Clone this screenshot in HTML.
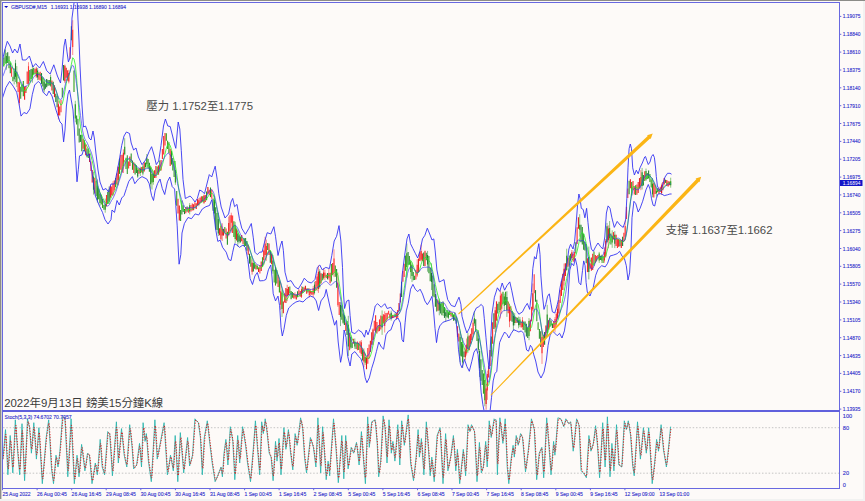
<!DOCTYPE html>
<html lang="zh-Hant"><head><meta charset="utf-8"><title>GBPUSD M15</title>
<style>html,body{margin:0;padding:0;background:#FDFAF8;}body{width:865px;height:501px;overflow:hidden;position:relative;font-family:"Liberation Sans","Noto Sans CJK TC",sans-serif;}</style>
</head><body>
<svg width="865" height="501" viewBox="0 0 865 501" style="display:block;position:absolute;left:0;top:0" font-family="Liberation Sans, sans-serif">
<rect width="865" height="501" fill="#FDFAF8"/>
<rect x="0" y="0" width="865" height="1" fill="#8C8C88"/>
<rect x="0" y="0" width="1.4" height="501" fill="#8C8C88"/>
<rect x="0" y="499" width="865" height="2" fill="#F2F2F1"/>
<rect x="863" y="1" width="2" height="501" fill="#F2F2F1"/>
<defs><clipPath id="c1"><rect x="2.5" y="2.5" width="837" height="407.5"/></clipPath><clipPath id="c2"><rect x="2.5" y="411.5" width="837" height="76.5"/></clipPath></defs>
<g clip-path="url(#c1)"><g style="filter:blur(0.28px)">
<line x1="2.50" y1="61.7" x2="2.50" y2="70.5" stroke="#F21A1A" stroke-width="1.1" stroke-opacity="0.91"/>
<line x1="3.80" y1="57.6" x2="3.80" y2="66.6" stroke="#1F8F1F" stroke-width="1.1" stroke-opacity="0.91"/>
<line x1="5.10" y1="49.4" x2="5.10" y2="63.6" stroke="#1F8F1F" stroke-width="1.1" stroke-opacity="0.91"/>
<line x1="6.40" y1="55.9" x2="6.40" y2="63.3" stroke="#1F8F1F" stroke-width="1.1" stroke-opacity="0.91"/>
<line x1="6.40" y1="52.9" x2="6.40" y2="69.7" stroke="#1F8F1F" stroke-width="0.7" stroke-opacity="0.75"/>
<line x1="7.70" y1="52.2" x2="7.70" y2="63.1" stroke="#167A2A" stroke-width="1.1" stroke-opacity="0.97"/>
<line x1="9.00" y1="56.2" x2="9.00" y2="68.3" stroke="#2A9A10" stroke-width="1.1" stroke-opacity="0.96"/>
<line x1="10.30" y1="62.4" x2="10.30" y2="73.3" stroke="#1F8F1F" stroke-width="1.1" stroke-opacity="0.95"/>
<line x1="11.60" y1="67.2" x2="11.60" y2="76.7" stroke="#FF2A2A" stroke-width="1.1" stroke-opacity="0.92"/>
<line x1="12.90" y1="76.7" x2="12.90" y2="81.3" stroke="#2A9A10" stroke-width="1.1" stroke-opacity="0.96"/>
<line x1="14.20" y1="70.9" x2="14.20" y2="79.3" stroke="#167A2A" stroke-width="1.1" stroke-opacity="0.91"/>
<line x1="14.20" y1="68.3" x2="14.20" y2="84.4" stroke="#167A2A" stroke-width="0.7" stroke-opacity="0.75"/>
<line x1="15.50" y1="63.2" x2="15.50" y2="76.8" stroke="#167A2A" stroke-width="1.1" stroke-opacity="0.98"/>
<line x1="15.50" y1="59.8" x2="15.50" y2="82.0" stroke="#167A2A" stroke-width="0.7" stroke-opacity="0.75"/>
<line x1="16.80" y1="71.8" x2="16.80" y2="83.5" stroke="#2A9A10" stroke-width="1.1" stroke-opacity="0.92"/>
<line x1="16.80" y1="66.1" x2="16.80" y2="87.1" stroke="#2A9A10" stroke-width="0.7" stroke-opacity="0.75"/>
<line x1="18.10" y1="82.1" x2="18.10" y2="92.1" stroke="#FF2A2A" stroke-width="1.1" stroke-opacity="0.99"/>
<line x1="19.40" y1="82.5" x2="19.40" y2="102.9" stroke="#FF2A2A" stroke-width="1.1" stroke-opacity="0.94"/>
<line x1="19.40" y1="80.7" x2="19.40" y2="105.4" stroke="#FF2A2A" stroke-width="0.7" stroke-opacity="0.75"/>
<line x1="20.70" y1="86.8" x2="20.70" y2="98.7" stroke="#1F8F1F" stroke-width="1.1" stroke-opacity="0.90"/>
<line x1="22.00" y1="84.4" x2="22.00" y2="91.8" stroke="#167A2A" stroke-width="1.1" stroke-opacity="1.00"/>
<line x1="23.30" y1="81.0" x2="23.30" y2="96.3" stroke="#2A9A10" stroke-width="1.1" stroke-opacity="0.98"/>
<line x1="24.60" y1="86.8" x2="24.60" y2="99.7" stroke="#F21A1A" stroke-width="1.1" stroke-opacity="1.00"/>
<line x1="25.90" y1="85.9" x2="25.90" y2="92.9" stroke="#E01010" stroke-width="1.1" stroke-opacity="0.91"/>
<line x1="27.20" y1="71.6" x2="27.20" y2="83.9" stroke="#F21A1A" stroke-width="1.1" stroke-opacity="0.93"/>
<line x1="28.50" y1="66.2" x2="28.50" y2="83.5" stroke="#FF2A2A" stroke-width="1.1" stroke-opacity="0.91"/>
<line x1="28.50" y1="62.2" x2="28.50" y2="86.8" stroke="#FF2A2A" stroke-width="0.7" stroke-opacity="0.75"/>
<line x1="29.80" y1="70.1" x2="29.80" y2="81.6" stroke="#1F8F1F" stroke-width="1.1" stroke-opacity="0.94"/>
<line x1="31.10" y1="69.1" x2="31.10" y2="78.9" stroke="#167A2A" stroke-width="1.1" stroke-opacity="0.98"/>
<line x1="32.40" y1="69.2" x2="32.40" y2="77.6" stroke="#2A9A10" stroke-width="1.1" stroke-opacity="0.93"/>
<line x1="32.40" y1="64.9" x2="32.40" y2="82.7" stroke="#2A9A10" stroke-width="0.7" stroke-opacity="0.75"/>
<line x1="33.70" y1="67.7" x2="33.70" y2="74.4" stroke="#1F8F1F" stroke-width="1.1" stroke-opacity="0.95"/>
<line x1="35.00" y1="68.7" x2="35.00" y2="73.6" stroke="#F21A1A" stroke-width="1.1" stroke-opacity="0.96"/>
<line x1="36.30" y1="68.4" x2="36.30" y2="76.4" stroke="#E01010" stroke-width="1.1" stroke-opacity="0.92"/>
<line x1="36.30" y1="66.9" x2="36.30" y2="77.9" stroke="#E01010" stroke-width="0.7" stroke-opacity="0.75"/>
<line x1="37.60" y1="70.4" x2="37.60" y2="77.4" stroke="#167A2A" stroke-width="1.1" stroke-opacity="0.98"/>
<line x1="37.60" y1="68.1" x2="37.60" y2="80.2" stroke="#167A2A" stroke-width="0.7" stroke-opacity="0.75"/>
<line x1="38.90" y1="72.5" x2="38.90" y2="79.7" stroke="#F21A1A" stroke-width="1.1" stroke-opacity="0.93"/>
<line x1="40.20" y1="71.8" x2="40.20" y2="80.4" stroke="#FF2A2A" stroke-width="1.1" stroke-opacity="0.92"/>
<line x1="41.50" y1="73.1" x2="41.50" y2="83.9" stroke="#167A2A" stroke-width="1.1" stroke-opacity="0.98"/>
<line x1="42.80" y1="77.4" x2="42.80" y2="86.5" stroke="#2A9A10" stroke-width="1.1" stroke-opacity="0.98"/>
<line x1="44.10" y1="81.5" x2="44.10" y2="90.3" stroke="#167A2A" stroke-width="1.1" stroke-opacity="0.98"/>
<line x1="44.10" y1="79.4" x2="44.10" y2="92.6" stroke="#167A2A" stroke-width="0.7" stroke-opacity="0.75"/>
<line x1="45.40" y1="83.4" x2="45.40" y2="88.7" stroke="#167A2A" stroke-width="1.1" stroke-opacity="0.91"/>
<line x1="46.70" y1="79.0" x2="46.70" y2="87.3" stroke="#167A2A" stroke-width="1.1" stroke-opacity="0.99"/>
<line x1="48.00" y1="79.9" x2="48.00" y2="85.7" stroke="#167A2A" stroke-width="1.1" stroke-opacity="0.96"/>
<line x1="49.30" y1="80.0" x2="49.30" y2="85.6" stroke="#1F8F1F" stroke-width="1.1" stroke-opacity="0.93"/>
<line x1="50.60" y1="77.0" x2="50.60" y2="85.8" stroke="#1F8F1F" stroke-width="1.1" stroke-opacity="0.90"/>
<line x1="50.60" y1="74.8" x2="50.60" y2="86.8" stroke="#1F8F1F" stroke-width="0.7" stroke-opacity="0.75"/>
<line x1="51.90" y1="80.6" x2="51.90" y2="90.5" stroke="#F21A1A" stroke-width="1.1" stroke-opacity="0.95"/>
<line x1="53.20" y1="81.7" x2="53.20" y2="93.9" stroke="#167A2A" stroke-width="1.1" stroke-opacity="0.95"/>
<line x1="54.50" y1="85.3" x2="54.50" y2="97.2" stroke="#E01010" stroke-width="1.1" stroke-opacity="0.94"/>
<line x1="55.80" y1="93.8" x2="55.80" y2="101.9" stroke="#167A2A" stroke-width="1.1" stroke-opacity="0.98"/>
<line x1="57.10" y1="95.7" x2="57.10" y2="107.3" stroke="#167A2A" stroke-width="1.1" stroke-opacity="0.91"/>
<line x1="58.40" y1="104.3" x2="58.40" y2="115.3" stroke="#F21A1A" stroke-width="1.1" stroke-opacity="0.98"/>
<line x1="58.40" y1="100.7" x2="58.40" y2="119.4" stroke="#F21A1A" stroke-width="0.7" stroke-opacity="0.75"/>
<line x1="59.70" y1="106.5" x2="59.70" y2="115.4" stroke="#F21A1A" stroke-width="1.1" stroke-opacity="0.93"/>
<line x1="61.00" y1="100.1" x2="61.00" y2="112.3" stroke="#FF2A2A" stroke-width="1.1" stroke-opacity="0.91"/>
<line x1="62.30" y1="87.7" x2="62.30" y2="97.2" stroke="#1F8F1F" stroke-width="1.1" stroke-opacity="0.92"/>
<line x1="63.60" y1="65.1" x2="63.60" y2="80.5" stroke="#167A2A" stroke-width="1.1" stroke-opacity="0.99"/>
<line x1="64.90" y1="65.8" x2="64.90" y2="81.2" stroke="#F21A1A" stroke-width="1.1" stroke-opacity="0.99"/>
<line x1="64.90" y1="64.6" x2="64.90" y2="83.1" stroke="#F21A1A" stroke-width="0.7" stroke-opacity="0.75"/>
<line x1="66.20" y1="67.7" x2="66.20" y2="77.8" stroke="#E01010" stroke-width="1.1" stroke-opacity="0.95"/>
<line x1="67.50" y1="70.3" x2="67.50" y2="80.6" stroke="#FF2A2A" stroke-width="1.1" stroke-opacity="0.99"/>
<line x1="68.80" y1="73.0" x2="68.80" y2="81.6" stroke="#F21A1A" stroke-width="1.1" stroke-opacity="0.98"/>
<line x1="68.80" y1="69.8" x2="68.80" y2="83.4" stroke="#F21A1A" stroke-width="0.7" stroke-opacity="0.75"/>
<line x1="70.10" y1="47.2" x2="70.10" y2="58.7" stroke="#F21A1A" stroke-width="1.1" stroke-opacity="0.95"/>
<line x1="71.40" y1="26.3" x2="71.40" y2="40.2" stroke="#1F8F1F" stroke-width="1.1" stroke-opacity="0.94"/>
<line x1="72.70" y1="29.8" x2="72.70" y2="46.9" stroke="#FF2A2A" stroke-width="1.1" stroke-opacity="0.92"/>
<line x1="72.70" y1="20.2" x2="72.70" y2="55.0" stroke="#FF2A2A" stroke-width="0.7" stroke-opacity="0.75"/>
<line x1="74.00" y1="70.5" x2="74.00" y2="92.0" stroke="#2A9A10" stroke-width="1.1" stroke-opacity="0.96"/>
<line x1="75.30" y1="104.2" x2="75.30" y2="118.4" stroke="#1F8F1F" stroke-width="1.1" stroke-opacity="0.97"/>
<line x1="75.30" y1="100.8" x2="75.30" y2="122.3" stroke="#1F8F1F" stroke-width="0.7" stroke-opacity="0.75"/>
<line x1="76.60" y1="115.6" x2="76.60" y2="124.4" stroke="#1F8F1F" stroke-width="1.1" stroke-opacity="0.93"/>
<line x1="77.90" y1="118.7" x2="77.90" y2="135.7" stroke="#1F8F1F" stroke-width="1.1" stroke-opacity="0.90"/>
<line x1="79.20" y1="128.5" x2="79.20" y2="142.6" stroke="#167A2A" stroke-width="1.1" stroke-opacity="0.91"/>
<line x1="80.50" y1="134.8" x2="80.50" y2="141.9" stroke="#167A2A" stroke-width="1.1" stroke-opacity="0.92"/>
<line x1="81.80" y1="134.7" x2="81.80" y2="151.2" stroke="#1F8F1F" stroke-width="1.1" stroke-opacity="0.94"/>
<line x1="83.10" y1="138.8" x2="83.10" y2="148.7" stroke="#F21A1A" stroke-width="1.1" stroke-opacity="0.98"/>
<line x1="84.40" y1="140.3" x2="84.40" y2="151.3" stroke="#2A9A10" stroke-width="1.1" stroke-opacity="0.95"/>
<line x1="85.70" y1="144.3" x2="85.70" y2="155.2" stroke="#F21A1A" stroke-width="1.1" stroke-opacity="0.97"/>
<line x1="87.00" y1="148.6" x2="87.00" y2="157.3" stroke="#1F8F1F" stroke-width="1.1" stroke-opacity="0.94"/>
<line x1="88.30" y1="148.5" x2="88.30" y2="157.9" stroke="#1F8F1F" stroke-width="1.1" stroke-opacity="0.90"/>
<line x1="89.60" y1="153.4" x2="89.60" y2="162.0" stroke="#E01010" stroke-width="1.1" stroke-opacity="0.97"/>
<line x1="90.90" y1="161.5" x2="90.90" y2="171.1" stroke="#FF2A2A" stroke-width="1.1" stroke-opacity="0.96"/>
<line x1="92.20" y1="170.0" x2="92.20" y2="182.6" stroke="#F21A1A" stroke-width="1.1" stroke-opacity="0.96"/>
<line x1="93.50" y1="176.6" x2="93.50" y2="189.7" stroke="#1F8F1F" stroke-width="1.1" stroke-opacity="0.96"/>
<line x1="93.50" y1="171.7" x2="93.50" y2="194.6" stroke="#1F8F1F" stroke-width="0.7" stroke-opacity="0.75"/>
<line x1="94.80" y1="177.8" x2="94.80" y2="193.6" stroke="#F21A1A" stroke-width="1.1" stroke-opacity="0.95"/>
<line x1="96.10" y1="180.7" x2="96.10" y2="196.0" stroke="#1F8F1F" stroke-width="1.1" stroke-opacity="0.91"/>
<line x1="97.40" y1="185.6" x2="97.40" y2="200.3" stroke="#1F8F1F" stroke-width="1.1" stroke-opacity="0.93"/>
<line x1="97.40" y1="179.4" x2="97.40" y2="202.5" stroke="#1F8F1F" stroke-width="0.7" stroke-opacity="0.75"/>
<line x1="98.70" y1="188.8" x2="98.70" y2="199.2" stroke="#1F8F1F" stroke-width="1.1" stroke-opacity="0.96"/>
<line x1="100.00" y1="193.7" x2="100.00" y2="203.1" stroke="#1F8F1F" stroke-width="1.1" stroke-opacity="0.95"/>
<line x1="100.00" y1="192.7" x2="100.00" y2="205.8" stroke="#1F8F1F" stroke-width="0.7" stroke-opacity="0.75"/>
<line x1="101.30" y1="194.7" x2="101.30" y2="204.6" stroke="#2A9A10" stroke-width="1.1" stroke-opacity="0.91"/>
<line x1="102.60" y1="198.8" x2="102.60" y2="208.0" stroke="#2A9A10" stroke-width="1.1" stroke-opacity="0.97"/>
<line x1="103.90" y1="205.0" x2="103.90" y2="209.7" stroke="#2A9A10" stroke-width="1.1" stroke-opacity="0.91"/>
<line x1="105.20" y1="204.0" x2="105.20" y2="209.7" stroke="#1F8F1F" stroke-width="1.1" stroke-opacity="0.96"/>
<line x1="105.20" y1="198.6" x2="105.20" y2="212.7" stroke="#1F8F1F" stroke-width="0.7" stroke-opacity="0.75"/>
<line x1="106.50" y1="195.0" x2="106.50" y2="206.5" stroke="#FF2A2A" stroke-width="1.1" stroke-opacity="0.98"/>
<line x1="107.80" y1="192.1" x2="107.80" y2="203.9" stroke="#167A2A" stroke-width="1.1" stroke-opacity="0.97"/>
<line x1="109.10" y1="189.5" x2="109.10" y2="201.6" stroke="#167A2A" stroke-width="1.1" stroke-opacity="0.96"/>
<line x1="109.10" y1="186.5" x2="109.10" y2="204.0" stroke="#167A2A" stroke-width="0.7" stroke-opacity="0.75"/>
<line x1="110.40" y1="185.7" x2="110.40" y2="197.7" stroke="#E01010" stroke-width="1.1" stroke-opacity="0.93"/>
<line x1="111.70" y1="186.5" x2="111.70" y2="195.5" stroke="#F21A1A" stroke-width="1.1" stroke-opacity="0.98"/>
<line x1="113.00" y1="183.5" x2="113.00" y2="194.8" stroke="#FF2A2A" stroke-width="1.1" stroke-opacity="0.92"/>
<line x1="113.00" y1="181.2" x2="113.00" y2="196.1" stroke="#FF2A2A" stroke-width="0.7" stroke-opacity="0.75"/>
<line x1="114.30" y1="180.4" x2="114.30" y2="190.5" stroke="#FF2A2A" stroke-width="1.1" stroke-opacity="0.99"/>
<line x1="115.60" y1="178.1" x2="115.60" y2="187.2" stroke="#1F8F1F" stroke-width="1.1" stroke-opacity="0.93"/>
<line x1="116.90" y1="173.4" x2="116.90" y2="184.6" stroke="#E01010" stroke-width="1.1" stroke-opacity="0.91"/>
<line x1="118.20" y1="167.0" x2="118.20" y2="180.3" stroke="#E01010" stroke-width="1.1" stroke-opacity="0.99"/>
<line x1="118.20" y1="165.9" x2="118.20" y2="185.3" stroke="#E01010" stroke-width="0.7" stroke-opacity="0.75"/>
<line x1="119.50" y1="158.5" x2="119.50" y2="173.9" stroke="#2A9A10" stroke-width="1.1" stroke-opacity="0.99"/>
<line x1="120.80" y1="155.1" x2="120.80" y2="169.8" stroke="#FF2A2A" stroke-width="1.1" stroke-opacity="0.92"/>
<line x1="122.10" y1="154.8" x2="122.10" y2="172.6" stroke="#E01010" stroke-width="1.1" stroke-opacity="0.91"/>
<line x1="123.40" y1="152.7" x2="123.40" y2="166.0" stroke="#F21A1A" stroke-width="1.1" stroke-opacity="0.93"/>
<line x1="123.40" y1="149.3" x2="123.40" y2="173.0" stroke="#F21A1A" stroke-width="0.7" stroke-opacity="0.75"/>
<line x1="124.70" y1="146.7" x2="124.70" y2="154.3" stroke="#1F8F1F" stroke-width="1.1" stroke-opacity="0.92"/>
<line x1="124.70" y1="138.2" x2="124.70" y2="155.3" stroke="#1F8F1F" stroke-width="0.7" stroke-opacity="0.75"/>
<line x1="126.00" y1="157.8" x2="126.00" y2="169.0" stroke="#2A9A10" stroke-width="1.1" stroke-opacity="0.92"/>
<line x1="127.30" y1="155.3" x2="127.30" y2="173.9" stroke="#1F8F1F" stroke-width="1.1" stroke-opacity="0.90"/>
<line x1="128.60" y1="161.6" x2="128.60" y2="168.5" stroke="#FF2A2A" stroke-width="1.1" stroke-opacity="0.94"/>
<line x1="129.90" y1="156.4" x2="129.90" y2="165.9" stroke="#E01010" stroke-width="1.1" stroke-opacity="0.98"/>
<line x1="131.20" y1="153.6" x2="131.20" y2="161.5" stroke="#1F8F1F" stroke-width="1.1" stroke-opacity="0.92"/>
<line x1="132.50" y1="160.5" x2="132.50" y2="169.8" stroke="#2A9A10" stroke-width="1.1" stroke-opacity="0.99"/>
<line x1="133.80" y1="162.3" x2="133.80" y2="173.1" stroke="#F21A1A" stroke-width="1.1" stroke-opacity="0.92"/>
<line x1="135.10" y1="163.8" x2="135.10" y2="174.4" stroke="#1F8F1F" stroke-width="1.1" stroke-opacity="0.97"/>
<line x1="136.40" y1="165.2" x2="136.40" y2="173.0" stroke="#1F8F1F" stroke-width="1.1" stroke-opacity="0.99"/>
<line x1="137.70" y1="170.0" x2="137.70" y2="176.6" stroke="#167A2A" stroke-width="1.1" stroke-opacity="0.94"/>
<line x1="137.70" y1="168.7" x2="137.70" y2="177.8" stroke="#167A2A" stroke-width="0.7" stroke-opacity="0.75"/>
<line x1="139.00" y1="168.3" x2="139.00" y2="173.8" stroke="#F21A1A" stroke-width="1.1" stroke-opacity="0.98"/>
<line x1="140.30" y1="168.4" x2="140.30" y2="173.1" stroke="#1F8F1F" stroke-width="1.1" stroke-opacity="0.99"/>
<line x1="140.30" y1="166.7" x2="140.30" y2="175.9" stroke="#1F8F1F" stroke-width="0.7" stroke-opacity="0.75"/>
<line x1="141.60" y1="167.1" x2="141.60" y2="172.4" stroke="#FF2A2A" stroke-width="1.1" stroke-opacity="0.94"/>
<line x1="142.90" y1="166.6" x2="142.90" y2="173.4" stroke="#1F8F1F" stroke-width="1.1" stroke-opacity="0.93"/>
<line x1="142.90" y1="164.2" x2="142.90" y2="175.3" stroke="#1F8F1F" stroke-width="0.7" stroke-opacity="0.75"/>
<line x1="144.20" y1="162.2" x2="144.20" y2="171.4" stroke="#E01010" stroke-width="1.1" stroke-opacity="0.97"/>
<line x1="145.50" y1="162.6" x2="145.50" y2="167.2" stroke="#1F8F1F" stroke-width="1.1" stroke-opacity="1.00"/>
<line x1="146.80" y1="157.8" x2="146.80" y2="164.2" stroke="#2A9A10" stroke-width="1.1" stroke-opacity="0.95"/>
<line x1="146.80" y1="154.0" x2="146.80" y2="166.1" stroke="#2A9A10" stroke-width="0.7" stroke-opacity="0.75"/>
<line x1="148.10" y1="158.9" x2="148.10" y2="168.6" stroke="#1F8F1F" stroke-width="1.1" stroke-opacity="0.94"/>
<line x1="149.40" y1="162.8" x2="149.40" y2="171.7" stroke="#1F8F1F" stroke-width="1.1" stroke-opacity="0.96"/>
<line x1="150.70" y1="167.2" x2="150.70" y2="184.2" stroke="#1F8F1F" stroke-width="1.1" stroke-opacity="0.93"/>
<line x1="150.70" y1="165.5" x2="150.70" y2="188.6" stroke="#1F8F1F" stroke-width="0.7" stroke-opacity="0.75"/>
<line x1="152.00" y1="174.1" x2="152.00" y2="182.6" stroke="#2A9A10" stroke-width="1.1" stroke-opacity="0.99"/>
<line x1="152.00" y1="168.9" x2="152.00" y2="189.6" stroke="#2A9A10" stroke-width="0.7" stroke-opacity="0.75"/>
<line x1="153.30" y1="173.5" x2="153.30" y2="181.9" stroke="#2A9A10" stroke-width="1.1" stroke-opacity="0.97"/>
<line x1="153.30" y1="170.7" x2="153.30" y2="184.7" stroke="#2A9A10" stroke-width="0.7" stroke-opacity="0.75"/>
<line x1="154.60" y1="170.3" x2="154.60" y2="178.1" stroke="#E01010" stroke-width="1.1" stroke-opacity="0.92"/>
<line x1="155.90" y1="166.1" x2="155.90" y2="177.7" stroke="#F21A1A" stroke-width="1.1" stroke-opacity="0.95"/>
<line x1="157.20" y1="166.4" x2="157.20" y2="173.8" stroke="#2A9A10" stroke-width="1.1" stroke-opacity="0.92"/>
<line x1="158.50" y1="165.3" x2="158.50" y2="174.7" stroke="#F21A1A" stroke-width="1.1" stroke-opacity="0.93"/>
<line x1="159.80" y1="160.4" x2="159.80" y2="171.1" stroke="#1F8F1F" stroke-width="1.1" stroke-opacity="0.90"/>
<line x1="161.10" y1="159.9" x2="161.10" y2="170.4" stroke="#FF2A2A" stroke-width="1.1" stroke-opacity="0.98"/>
<line x1="162.40" y1="148.9" x2="162.40" y2="159.1" stroke="#FF2A2A" stroke-width="1.1" stroke-opacity="0.98"/>
<line x1="163.70" y1="135.9" x2="163.70" y2="154.5" stroke="#F21A1A" stroke-width="1.1" stroke-opacity="0.95"/>
<line x1="165.00" y1="133.1" x2="165.00" y2="145.4" stroke="#FF2A2A" stroke-width="1.1" stroke-opacity="1.00"/>
<line x1="166.30" y1="133.3" x2="166.30" y2="140.8" stroke="#2A9A10" stroke-width="1.1" stroke-opacity="0.98"/>
<line x1="167.60" y1="140.7" x2="167.60" y2="148.9" stroke="#2A9A10" stroke-width="1.1" stroke-opacity="0.94"/>
<line x1="168.90" y1="142.2" x2="168.90" y2="153.2" stroke="#2A9A10" stroke-width="1.1" stroke-opacity="0.96"/>
<line x1="170.20" y1="148.8" x2="170.20" y2="165.9" stroke="#F21A1A" stroke-width="1.1" stroke-opacity="0.92"/>
<line x1="171.50" y1="150.8" x2="171.50" y2="164.6" stroke="#1F8F1F" stroke-width="1.1" stroke-opacity="0.98"/>
<line x1="172.80" y1="158.1" x2="172.80" y2="170.6" stroke="#1F8F1F" stroke-width="1.1" stroke-opacity="0.93"/>
<line x1="174.10" y1="161.0" x2="174.10" y2="176.9" stroke="#1F8F1F" stroke-width="1.1" stroke-opacity="0.92"/>
<line x1="175.40" y1="170.0" x2="175.40" y2="182.4" stroke="#2A9A10" stroke-width="1.1" stroke-opacity="0.96"/>
<line x1="175.40" y1="161.0" x2="175.40" y2="184.8" stroke="#2A9A10" stroke-width="0.7" stroke-opacity="0.75"/>
<line x1="176.70" y1="191.1" x2="176.70" y2="205.7" stroke="#1F8F1F" stroke-width="1.1" stroke-opacity="0.90"/>
<line x1="178.00" y1="198.8" x2="178.00" y2="213.5" stroke="#F21A1A" stroke-width="1.1" stroke-opacity="0.95"/>
<line x1="179.30" y1="205.6" x2="179.30" y2="220.4" stroke="#E01010" stroke-width="1.1" stroke-opacity="0.97"/>
<line x1="180.60" y1="210.1" x2="180.60" y2="221.0" stroke="#1F8F1F" stroke-width="1.1" stroke-opacity="0.94"/>
<line x1="181.90" y1="200.5" x2="181.90" y2="214.4" stroke="#1F8F1F" stroke-width="1.1" stroke-opacity="0.94"/>
<line x1="183.20" y1="205.3" x2="183.20" y2="211.9" stroke="#167A2A" stroke-width="1.1" stroke-opacity="0.91"/>
<line x1="184.50" y1="209.0" x2="184.50" y2="214.1" stroke="#167A2A" stroke-width="1.1" stroke-opacity="0.97"/>
<line x1="185.80" y1="206.9" x2="185.80" y2="213.3" stroke="#F21A1A" stroke-width="1.1" stroke-opacity="0.92"/>
<line x1="187.10" y1="206.6" x2="187.10" y2="211.7" stroke="#1F8F1F" stroke-width="1.1" stroke-opacity="0.98"/>
<line x1="188.40" y1="207.7" x2="188.40" y2="212.8" stroke="#FF2A2A" stroke-width="1.1" stroke-opacity="0.91"/>
<line x1="189.70" y1="205.3" x2="189.70" y2="211.6" stroke="#1F8F1F" stroke-width="1.1" stroke-opacity="0.94"/>
<line x1="189.70" y1="203.1" x2="189.70" y2="214.4" stroke="#1F8F1F" stroke-width="0.7" stroke-opacity="0.75"/>
<line x1="191.00" y1="205.0" x2="191.00" y2="211.6" stroke="#FF2A2A" stroke-width="1.1" stroke-opacity="0.91"/>
<line x1="192.30" y1="203.5" x2="192.30" y2="210.5" stroke="#FF2A2A" stroke-width="1.1" stroke-opacity="0.97"/>
<line x1="193.60" y1="204.3" x2="193.60" y2="210.2" stroke="#E01010" stroke-width="1.1" stroke-opacity="0.93"/>
<line x1="194.90" y1="202.2" x2="194.90" y2="207.2" stroke="#FF2A2A" stroke-width="1.1" stroke-opacity="0.96"/>
<line x1="196.20" y1="203.2" x2="196.20" y2="209.1" stroke="#E01010" stroke-width="1.1" stroke-opacity="0.96"/>
<line x1="197.50" y1="199.1" x2="197.50" y2="205.1" stroke="#F21A1A" stroke-width="1.1" stroke-opacity="0.96"/>
<line x1="198.80" y1="200.2" x2="198.80" y2="204.9" stroke="#F21A1A" stroke-width="1.1" stroke-opacity="0.90"/>
<line x1="198.80" y1="198.2" x2="198.80" y2="206.2" stroke="#F21A1A" stroke-width="0.7" stroke-opacity="0.75"/>
<line x1="200.10" y1="197.6" x2="200.10" y2="202.9" stroke="#F21A1A" stroke-width="1.1" stroke-opacity="0.94"/>
<line x1="201.40" y1="196.3" x2="201.40" y2="202.3" stroke="#F21A1A" stroke-width="1.1" stroke-opacity="0.91"/>
<line x1="202.70" y1="196.2" x2="202.70" y2="201.4" stroke="#2A9A10" stroke-width="1.1" stroke-opacity="0.96"/>
<line x1="204.00" y1="195.6" x2="204.00" y2="202.8" stroke="#E01010" stroke-width="1.1" stroke-opacity="0.95"/>
<line x1="204.00" y1="194.6" x2="204.00" y2="203.9" stroke="#E01010" stroke-width="0.7" stroke-opacity="0.75"/>
<line x1="205.30" y1="194.9" x2="205.30" y2="202.0" stroke="#F21A1A" stroke-width="1.1" stroke-opacity="0.90"/>
<line x1="206.60" y1="191.4" x2="206.60" y2="200.2" stroke="#1F8F1F" stroke-width="1.1" stroke-opacity="0.96"/>
<line x1="207.90" y1="186.9" x2="207.90" y2="193.7" stroke="#E01010" stroke-width="1.1" stroke-opacity="0.99"/>
<line x1="209.20" y1="189.8" x2="209.20" y2="194.9" stroke="#F21A1A" stroke-width="1.1" stroke-opacity="0.91"/>
<line x1="210.50" y1="187.5" x2="210.50" y2="197.1" stroke="#1F8F1F" stroke-width="1.1" stroke-opacity="0.99"/>
<line x1="211.80" y1="189.6" x2="211.80" y2="198.8" stroke="#FF2A2A" stroke-width="1.1" stroke-opacity="0.94"/>
<line x1="213.10" y1="198.5" x2="213.10" y2="210.7" stroke="#2A9A10" stroke-width="1.1" stroke-opacity="0.91"/>
<line x1="214.40" y1="199.7" x2="214.40" y2="213.4" stroke="#1F8F1F" stroke-width="1.1" stroke-opacity="0.99"/>
<line x1="214.40" y1="195.6" x2="214.40" y2="219.3" stroke="#1F8F1F" stroke-width="0.7" stroke-opacity="0.75"/>
<line x1="215.70" y1="207.3" x2="215.70" y2="229.5" stroke="#167A2A" stroke-width="1.1" stroke-opacity="0.95"/>
<line x1="217.00" y1="213.1" x2="217.00" y2="230.0" stroke="#1F8F1F" stroke-width="1.1" stroke-opacity="0.96"/>
<line x1="218.30" y1="219.0" x2="218.30" y2="233.6" stroke="#167A2A" stroke-width="1.1" stroke-opacity="0.90"/>
<line x1="218.30" y1="212.8" x2="218.30" y2="236.0" stroke="#167A2A" stroke-width="0.7" stroke-opacity="0.75"/>
<line x1="219.60" y1="228.3" x2="219.60" y2="235.3" stroke="#E01010" stroke-width="1.1" stroke-opacity="0.96"/>
<line x1="220.90" y1="225.8" x2="220.90" y2="239.4" stroke="#F21A1A" stroke-width="1.1" stroke-opacity="1.00"/>
<line x1="222.20" y1="229.0" x2="222.20" y2="235.5" stroke="#E01010" stroke-width="1.1" stroke-opacity="0.91"/>
<line x1="222.20" y1="223.3" x2="222.20" y2="241.0" stroke="#E01010" stroke-width="0.7" stroke-opacity="0.75"/>
<line x1="223.50" y1="228.9" x2="223.50" y2="235.6" stroke="#E01010" stroke-width="1.1" stroke-opacity="0.98"/>
<line x1="224.80" y1="226.9" x2="224.80" y2="232.2" stroke="#2A9A10" stroke-width="1.1" stroke-opacity="0.93"/>
<line x1="226.10" y1="228.4" x2="226.10" y2="238.6" stroke="#FF2A2A" stroke-width="1.1" stroke-opacity="0.93"/>
<line x1="227.40" y1="231.7" x2="227.40" y2="244.7" stroke="#1F8F1F" stroke-width="1.1" stroke-opacity="0.97"/>
<line x1="228.70" y1="223.1" x2="228.70" y2="234.9" stroke="#F21A1A" stroke-width="1.1" stroke-opacity="0.95"/>
<line x1="228.70" y1="216.6" x2="228.70" y2="236.3" stroke="#F21A1A" stroke-width="0.7" stroke-opacity="0.75"/>
<line x1="230.00" y1="215.2" x2="230.00" y2="231.1" stroke="#F21A1A" stroke-width="1.1" stroke-opacity="0.95"/>
<line x1="231.30" y1="215.2" x2="231.30" y2="222.8" stroke="#FF2A2A" stroke-width="1.1" stroke-opacity="0.99"/>
<line x1="231.30" y1="212.7" x2="231.30" y2="232.6" stroke="#FF2A2A" stroke-width="0.7" stroke-opacity="0.75"/>
<line x1="232.60" y1="215.6" x2="232.60" y2="233.0" stroke="#FF2A2A" stroke-width="1.1" stroke-opacity="0.96"/>
<line x1="233.90" y1="221.2" x2="233.90" y2="237.1" stroke="#2A9A10" stroke-width="1.1" stroke-opacity="0.96"/>
<line x1="235.20" y1="225.6" x2="235.20" y2="239.1" stroke="#2A9A10" stroke-width="1.1" stroke-opacity="0.99"/>
<line x1="235.20" y1="221.9" x2="235.20" y2="243.2" stroke="#2A9A10" stroke-width="0.7" stroke-opacity="0.75"/>
<line x1="236.50" y1="228.8" x2="236.50" y2="240.5" stroke="#E01010" stroke-width="1.1" stroke-opacity="0.92"/>
<line x1="237.80" y1="233.4" x2="237.80" y2="241.9" stroke="#167A2A" stroke-width="1.1" stroke-opacity="0.93"/>
<line x1="237.80" y1="230.5" x2="237.80" y2="246.5" stroke="#167A2A" stroke-width="0.7" stroke-opacity="0.75"/>
<line x1="239.10" y1="235.6" x2="239.10" y2="241.3" stroke="#167A2A" stroke-width="1.1" stroke-opacity="0.98"/>
<line x1="239.10" y1="233.9" x2="239.10" y2="243.4" stroke="#167A2A" stroke-width="0.7" stroke-opacity="0.75"/>
<line x1="240.40" y1="236.9" x2="240.40" y2="242.5" stroke="#167A2A" stroke-width="1.1" stroke-opacity="0.93"/>
<line x1="241.70" y1="235.0" x2="241.70" y2="241.3" stroke="#F21A1A" stroke-width="1.1" stroke-opacity="1.00"/>
<line x1="243.00" y1="238.7" x2="243.00" y2="244.0" stroke="#FF2A2A" stroke-width="1.1" stroke-opacity="0.93"/>
<line x1="244.30" y1="238.3" x2="244.30" y2="246.4" stroke="#1F8F1F" stroke-width="1.1" stroke-opacity="0.95"/>
<line x1="245.60" y1="238.1" x2="245.60" y2="246.0" stroke="#1F8F1F" stroke-width="1.1" stroke-opacity="0.92"/>
<line x1="246.90" y1="241.0" x2="246.90" y2="250.7" stroke="#167A2A" stroke-width="1.1" stroke-opacity="0.97"/>
<line x1="248.20" y1="244.8" x2="248.20" y2="254.8" stroke="#E01010" stroke-width="1.1" stroke-opacity="0.91"/>
<line x1="249.50" y1="253.8" x2="249.50" y2="263.6" stroke="#167A2A" stroke-width="1.1" stroke-opacity="0.97"/>
<line x1="250.80" y1="256.3" x2="250.80" y2="266.7" stroke="#2A9A10" stroke-width="1.1" stroke-opacity="0.95"/>
<line x1="252.10" y1="262.7" x2="252.10" y2="271.8" stroke="#E01010" stroke-width="1.1" stroke-opacity="0.99"/>
<line x1="252.10" y1="259.5" x2="252.10" y2="274.7" stroke="#E01010" stroke-width="0.7" stroke-opacity="0.75"/>
<line x1="253.40" y1="262.8" x2="253.40" y2="271.5" stroke="#1F8F1F" stroke-width="1.1" stroke-opacity="0.95"/>
<line x1="254.70" y1="262.5" x2="254.70" y2="268.8" stroke="#167A2A" stroke-width="1.1" stroke-opacity="0.97"/>
<line x1="256.00" y1="264.5" x2="256.00" y2="269.5" stroke="#F21A1A" stroke-width="1.1" stroke-opacity="1.00"/>
<line x1="257.30" y1="265.6" x2="257.30" y2="269.2" stroke="#2A9A10" stroke-width="1.1" stroke-opacity="0.99"/>
<line x1="258.60" y1="267.4" x2="258.60" y2="271.9" stroke="#E01010" stroke-width="1.1" stroke-opacity="0.99"/>
<line x1="259.90" y1="265.1" x2="259.90" y2="273.5" stroke="#FF2A2A" stroke-width="1.1" stroke-opacity="0.91"/>
<line x1="261.20" y1="261.6" x2="261.20" y2="270.9" stroke="#E01010" stroke-width="1.1" stroke-opacity="0.94"/>
<line x1="262.50" y1="257.2" x2="262.50" y2="266.7" stroke="#2A9A10" stroke-width="1.1" stroke-opacity="0.91"/>
<line x1="263.80" y1="250.4" x2="263.80" y2="259.9" stroke="#F21A1A" stroke-width="1.1" stroke-opacity="0.94"/>
<line x1="263.80" y1="249.4" x2="263.80" y2="264.8" stroke="#F21A1A" stroke-width="0.7" stroke-opacity="0.75"/>
<line x1="265.10" y1="243.4" x2="265.10" y2="255.0" stroke="#F21A1A" stroke-width="1.1" stroke-opacity="0.96"/>
<line x1="265.10" y1="236.8" x2="265.10" y2="257.0" stroke="#F21A1A" stroke-width="0.7" stroke-opacity="0.75"/>
<line x1="266.40" y1="246.1" x2="266.40" y2="255.6" stroke="#FF2A2A" stroke-width="1.1" stroke-opacity="0.98"/>
<line x1="266.40" y1="239.6" x2="266.40" y2="260.8" stroke="#FF2A2A" stroke-width="0.7" stroke-opacity="0.75"/>
<line x1="267.70" y1="243.0" x2="267.70" y2="249.9" stroke="#1F8F1F" stroke-width="1.1" stroke-opacity="0.96"/>
<line x1="269.00" y1="243.4" x2="269.00" y2="255.0" stroke="#F21A1A" stroke-width="1.1" stroke-opacity="0.99"/>
<line x1="270.30" y1="250.6" x2="270.30" y2="262.8" stroke="#167A2A" stroke-width="1.1" stroke-opacity="0.99"/>
<line x1="271.60" y1="253.8" x2="271.60" y2="264.2" stroke="#F21A1A" stroke-width="1.1" stroke-opacity="0.98"/>
<line x1="272.90" y1="260.5" x2="272.90" y2="271.2" stroke="#1F8F1F" stroke-width="1.1" stroke-opacity="0.95"/>
<line x1="272.90" y1="255.0" x2="272.90" y2="273.7" stroke="#1F8F1F" stroke-width="0.7" stroke-opacity="0.75"/>
<line x1="274.20" y1="269.7" x2="274.20" y2="282.5" stroke="#2A9A10" stroke-width="1.1" stroke-opacity="0.92"/>
<line x1="275.50" y1="266.6" x2="275.50" y2="285.6" stroke="#2A9A10" stroke-width="1.1" stroke-opacity="0.94"/>
<line x1="276.80" y1="269.9" x2="276.80" y2="283.6" stroke="#167A2A" stroke-width="1.1" stroke-opacity="0.90"/>
<line x1="278.10" y1="274.9" x2="278.10" y2="286.9" stroke="#F21A1A" stroke-width="1.1" stroke-opacity="0.90"/>
<line x1="279.40" y1="280.3" x2="279.40" y2="292.5" stroke="#2A9A10" stroke-width="1.1" stroke-opacity="0.98"/>
<line x1="280.70" y1="291.2" x2="280.70" y2="304.8" stroke="#FF2A2A" stroke-width="1.1" stroke-opacity="0.98"/>
<line x1="280.70" y1="282.1" x2="280.70" y2="309.8" stroke="#FF2A2A" stroke-width="0.7" stroke-opacity="0.75"/>
<line x1="282.00" y1="292.4" x2="282.00" y2="309.0" stroke="#2A9A10" stroke-width="1.1" stroke-opacity="0.95"/>
<line x1="282.00" y1="289.5" x2="282.00" y2="317.0" stroke="#2A9A10" stroke-width="0.7" stroke-opacity="0.75"/>
<line x1="283.30" y1="301.5" x2="283.30" y2="313.2" stroke="#E01010" stroke-width="1.1" stroke-opacity="0.96"/>
<line x1="284.60" y1="293.4" x2="284.60" y2="302.4" stroke="#FF2A2A" stroke-width="1.1" stroke-opacity="0.99"/>
<line x1="285.90" y1="288.1" x2="285.90" y2="303.1" stroke="#E01010" stroke-width="1.1" stroke-opacity="0.96"/>
<line x1="287.20" y1="289.0" x2="287.20" y2="296.1" stroke="#E01010" stroke-width="1.1" stroke-opacity="0.96"/>
<line x1="287.20" y1="284.8" x2="287.20" y2="301.2" stroke="#E01010" stroke-width="0.7" stroke-opacity="0.75"/>
<line x1="288.50" y1="286.9" x2="288.50" y2="295.0" stroke="#F21A1A" stroke-width="1.1" stroke-opacity="0.98"/>
<line x1="289.80" y1="286.4" x2="289.80" y2="293.6" stroke="#2A9A10" stroke-width="1.1" stroke-opacity="0.90"/>
<line x1="291.10" y1="291.0" x2="291.10" y2="299.2" stroke="#1F8F1F" stroke-width="1.1" stroke-opacity="0.98"/>
<line x1="292.40" y1="292.1" x2="292.40" y2="297.8" stroke="#2A9A10" stroke-width="1.1" stroke-opacity="0.96"/>
<line x1="293.70" y1="292.9" x2="293.70" y2="298.6" stroke="#FF2A2A" stroke-width="1.1" stroke-opacity="0.95"/>
<line x1="295.00" y1="294.8" x2="295.00" y2="297.6" stroke="#FF2A2A" stroke-width="1.1" stroke-opacity="1.00"/>
<line x1="295.00" y1="292.2" x2="295.00" y2="298.9" stroke="#FF2A2A" stroke-width="0.7" stroke-opacity="0.75"/>
<line x1="296.30" y1="294.6" x2="296.30" y2="299.5" stroke="#E01010" stroke-width="1.1" stroke-opacity="0.99"/>
<line x1="297.60" y1="291.3" x2="297.60" y2="297.3" stroke="#167A2A" stroke-width="1.1" stroke-opacity="0.96"/>
<line x1="298.90" y1="289.5" x2="298.90" y2="295.3" stroke="#FF2A2A" stroke-width="1.1" stroke-opacity="0.91"/>
<line x1="300.20" y1="291.0" x2="300.20" y2="296.7" stroke="#E01010" stroke-width="1.1" stroke-opacity="0.92"/>
<line x1="301.50" y1="289.2" x2="301.50" y2="296.7" stroke="#F21A1A" stroke-width="1.1" stroke-opacity="0.95"/>
<line x1="301.50" y1="286.1" x2="301.50" y2="298.0" stroke="#F21A1A" stroke-width="0.7" stroke-opacity="0.75"/>
<line x1="302.80" y1="286.7" x2="302.80" y2="293.0" stroke="#1F8F1F" stroke-width="1.1" stroke-opacity="0.98"/>
<line x1="304.10" y1="287.4" x2="304.10" y2="291.4" stroke="#E01010" stroke-width="1.1" stroke-opacity="0.97"/>
<line x1="305.40" y1="285.8" x2="305.40" y2="289.8" stroke="#E01010" stroke-width="1.1" stroke-opacity="0.98"/>
<line x1="306.70" y1="288.4" x2="306.70" y2="293.8" stroke="#F21A1A" stroke-width="1.1" stroke-opacity="0.99"/>
<line x1="308.00" y1="288.2" x2="308.00" y2="292.4" stroke="#1F8F1F" stroke-width="1.1" stroke-opacity="0.99"/>
<line x1="309.30" y1="290.5" x2="309.30" y2="295.3" stroke="#FF2A2A" stroke-width="1.1" stroke-opacity="0.96"/>
<line x1="309.30" y1="288.1" x2="309.30" y2="297.6" stroke="#FF2A2A" stroke-width="0.7" stroke-opacity="0.75"/>
<line x1="310.60" y1="290.9" x2="310.60" y2="293.5" stroke="#FF2A2A" stroke-width="1.1" stroke-opacity="0.98"/>
<line x1="310.60" y1="288.9" x2="310.60" y2="295.8" stroke="#FF2A2A" stroke-width="0.7" stroke-opacity="0.75"/>
<line x1="311.90" y1="290.9" x2="311.90" y2="294.8" stroke="#E01010" stroke-width="1.1" stroke-opacity="0.99"/>
<line x1="313.20" y1="288.2" x2="313.20" y2="294.5" stroke="#FF2A2A" stroke-width="1.1" stroke-opacity="0.98"/>
<line x1="313.20" y1="286.1" x2="313.20" y2="297.1" stroke="#FF2A2A" stroke-width="0.7" stroke-opacity="0.75"/>
<line x1="314.50" y1="284.6" x2="314.50" y2="292.8" stroke="#167A2A" stroke-width="1.1" stroke-opacity="0.92"/>
<line x1="314.50" y1="281.7" x2="314.50" y2="294.5" stroke="#167A2A" stroke-width="0.7" stroke-opacity="0.75"/>
<line x1="315.80" y1="281.0" x2="315.80" y2="290.3" stroke="#FF2A2A" stroke-width="1.1" stroke-opacity="0.90"/>
<line x1="317.10" y1="276.4" x2="317.10" y2="286.8" stroke="#F21A1A" stroke-width="1.1" stroke-opacity="0.93"/>
<line x1="317.10" y1="273.9" x2="317.10" y2="291.1" stroke="#F21A1A" stroke-width="0.7" stroke-opacity="0.75"/>
<line x1="318.40" y1="271.8" x2="318.40" y2="289.0" stroke="#F21A1A" stroke-width="1.1" stroke-opacity="0.96"/>
<line x1="318.40" y1="265.5" x2="318.40" y2="292.9" stroke="#F21A1A" stroke-width="0.7" stroke-opacity="0.75"/>
<line x1="319.70" y1="271.3" x2="319.70" y2="287.0" stroke="#167A2A" stroke-width="1.1" stroke-opacity="0.90"/>
<line x1="319.70" y1="269.2" x2="319.70" y2="288.5" stroke="#167A2A" stroke-width="0.7" stroke-opacity="0.75"/>
<line x1="321.00" y1="273.3" x2="321.00" y2="283.6" stroke="#E01010" stroke-width="1.1" stroke-opacity="0.98"/>
<line x1="322.30" y1="273.7" x2="322.30" y2="280.2" stroke="#167A2A" stroke-width="1.1" stroke-opacity="0.93"/>
<line x1="323.60" y1="272.4" x2="323.60" y2="277.9" stroke="#E01010" stroke-width="1.1" stroke-opacity="0.94"/>
<line x1="323.60" y1="268.4" x2="323.60" y2="279.6" stroke="#E01010" stroke-width="0.7" stroke-opacity="0.75"/>
<line x1="324.90" y1="272.7" x2="324.90" y2="276.3" stroke="#FF2A2A" stroke-width="1.1" stroke-opacity="0.99"/>
<line x1="324.90" y1="269.7" x2="324.90" y2="280.1" stroke="#FF2A2A" stroke-width="0.7" stroke-opacity="0.75"/>
<line x1="326.20" y1="274.8" x2="326.20" y2="278.0" stroke="#FF2A2A" stroke-width="1.1" stroke-opacity="0.99"/>
<line x1="327.50" y1="273.0" x2="327.50" y2="279.4" stroke="#167A2A" stroke-width="1.1" stroke-opacity="0.94"/>
<line x1="328.80" y1="273.2" x2="328.80" y2="277.7" stroke="#FF2A2A" stroke-width="1.1" stroke-opacity="0.97"/>
<line x1="328.80" y1="268.7" x2="328.80" y2="279.7" stroke="#FF2A2A" stroke-width="0.7" stroke-opacity="0.75"/>
<line x1="330.10" y1="272.7" x2="330.10" y2="283.2" stroke="#F21A1A" stroke-width="1.1" stroke-opacity="0.97"/>
<line x1="331.40" y1="264.1" x2="331.40" y2="281.6" stroke="#2A9A10" stroke-width="1.1" stroke-opacity="0.93"/>
<line x1="332.70" y1="263.1" x2="332.70" y2="275.2" stroke="#E01010" stroke-width="1.1" stroke-opacity="0.92"/>
<line x1="334.00" y1="258.5" x2="334.00" y2="272.8" stroke="#FF2A2A" stroke-width="1.1" stroke-opacity="0.92"/>
<line x1="334.00" y1="249.3" x2="334.00" y2="277.1" stroke="#FF2A2A" stroke-width="0.7" stroke-opacity="0.75"/>
<line x1="335.30" y1="265.5" x2="335.30" y2="276.7" stroke="#2A9A10" stroke-width="1.1" stroke-opacity="0.92"/>
<line x1="336.60" y1="268.9" x2="336.60" y2="287.7" stroke="#167A2A" stroke-width="1.1" stroke-opacity="0.91"/>
<line x1="337.90" y1="282.4" x2="337.90" y2="305.3" stroke="#FF2A2A" stroke-width="1.1" stroke-opacity="0.91"/>
<line x1="337.90" y1="272.6" x2="337.90" y2="306.9" stroke="#FF2A2A" stroke-width="0.7" stroke-opacity="0.75"/>
<line x1="339.20" y1="301.9" x2="339.20" y2="314.9" stroke="#FF2A2A" stroke-width="1.1" stroke-opacity="0.95"/>
<line x1="340.50" y1="304.9" x2="340.50" y2="316.8" stroke="#167A2A" stroke-width="1.1" stroke-opacity="0.94"/>
<line x1="340.50" y1="302.2" x2="340.50" y2="326.1" stroke="#167A2A" stroke-width="0.7" stroke-opacity="0.75"/>
<line x1="341.80" y1="305.6" x2="341.80" y2="319.7" stroke="#1F8F1F" stroke-width="1.1" stroke-opacity="0.91"/>
<line x1="343.10" y1="313.6" x2="343.10" y2="322.8" stroke="#2A9A10" stroke-width="1.1" stroke-opacity="0.96"/>
<line x1="343.10" y1="309.7" x2="343.10" y2="323.9" stroke="#2A9A10" stroke-width="0.7" stroke-opacity="0.75"/>
<line x1="344.40" y1="315.2" x2="344.40" y2="325.1" stroke="#167A2A" stroke-width="1.1" stroke-opacity="0.98"/>
<line x1="345.70" y1="322.5" x2="345.70" y2="331.1" stroke="#FF2A2A" stroke-width="1.1" stroke-opacity="0.91"/>
<line x1="347.00" y1="320.9" x2="347.00" y2="335.0" stroke="#167A2A" stroke-width="1.1" stroke-opacity="0.94"/>
<line x1="348.30" y1="324.7" x2="348.30" y2="346.4" stroke="#167A2A" stroke-width="1.1" stroke-opacity="0.94"/>
<line x1="348.30" y1="315.8" x2="348.30" y2="356.1" stroke="#167A2A" stroke-width="0.7" stroke-opacity="0.75"/>
<line x1="349.60" y1="332.8" x2="349.60" y2="350.3" stroke="#FF2A2A" stroke-width="1.1" stroke-opacity="0.91"/>
<line x1="350.90" y1="337.0" x2="350.90" y2="347.4" stroke="#1F8F1F" stroke-width="1.1" stroke-opacity="1.00"/>
<line x1="350.90" y1="335.0" x2="350.90" y2="348.9" stroke="#1F8F1F" stroke-width="0.7" stroke-opacity="0.75"/>
<line x1="352.20" y1="342.7" x2="352.20" y2="347.9" stroke="#1F8F1F" stroke-width="1.1" stroke-opacity="0.93"/>
<line x1="353.50" y1="338.8" x2="353.50" y2="343.6" stroke="#FF2A2A" stroke-width="1.1" stroke-opacity="0.99"/>
<line x1="354.80" y1="341.5" x2="354.80" y2="346.6" stroke="#1F8F1F" stroke-width="1.1" stroke-opacity="0.91"/>
<line x1="354.80" y1="338.5" x2="354.80" y2="348.8" stroke="#1F8F1F" stroke-width="0.7" stroke-opacity="0.75"/>
<line x1="356.10" y1="342.4" x2="356.10" y2="348.9" stroke="#1F8F1F" stroke-width="1.1" stroke-opacity="0.92"/>
<line x1="357.40" y1="341.5" x2="357.40" y2="350.2" stroke="#FF2A2A" stroke-width="1.1" stroke-opacity="0.90"/>
<line x1="358.70" y1="342.7" x2="358.70" y2="350.0" stroke="#2A9A10" stroke-width="1.1" stroke-opacity="0.94"/>
<line x1="360.00" y1="341.2" x2="360.00" y2="352.8" stroke="#FF2A2A" stroke-width="1.1" stroke-opacity="0.95"/>
<line x1="361.30" y1="342.3" x2="361.30" y2="354.1" stroke="#F21A1A" stroke-width="1.1" stroke-opacity="0.91"/>
<line x1="361.30" y1="340.0" x2="361.30" y2="355.9" stroke="#F21A1A" stroke-width="0.7" stroke-opacity="0.75"/>
<line x1="362.60" y1="349.6" x2="362.60" y2="360.4" stroke="#1F8F1F" stroke-width="1.1" stroke-opacity="0.99"/>
<line x1="363.90" y1="352.1" x2="363.90" y2="361.5" stroke="#F21A1A" stroke-width="1.1" stroke-opacity="0.97"/>
<line x1="363.90" y1="348.3" x2="363.90" y2="367.2" stroke="#F21A1A" stroke-width="0.7" stroke-opacity="0.75"/>
<line x1="365.20" y1="357.0" x2="365.20" y2="362.8" stroke="#2A9A10" stroke-width="1.1" stroke-opacity="0.90"/>
<line x1="365.20" y1="353.6" x2="365.20" y2="364.9" stroke="#2A9A10" stroke-width="0.7" stroke-opacity="0.75"/>
<line x1="366.50" y1="357.4" x2="366.50" y2="369.2" stroke="#E01010" stroke-width="1.1" stroke-opacity="0.99"/>
<line x1="367.80" y1="347.9" x2="367.80" y2="363.8" stroke="#FF2A2A" stroke-width="1.1" stroke-opacity="0.97"/>
<line x1="369.10" y1="344.4" x2="369.10" y2="358.4" stroke="#FF2A2A" stroke-width="1.1" stroke-opacity="0.92"/>
<line x1="370.40" y1="340.7" x2="370.40" y2="352.0" stroke="#E01010" stroke-width="1.1" stroke-opacity="0.90"/>
<line x1="371.70" y1="332.3" x2="371.70" y2="344.8" stroke="#E01010" stroke-width="1.1" stroke-opacity="0.94"/>
<line x1="373.00" y1="329.6" x2="373.00" y2="339.9" stroke="#E01010" stroke-width="1.1" stroke-opacity="0.92"/>
<line x1="373.00" y1="328.4" x2="373.00" y2="345.1" stroke="#E01010" stroke-width="0.7" stroke-opacity="0.75"/>
<line x1="374.30" y1="320.8" x2="374.30" y2="330.7" stroke="#FF2A2A" stroke-width="1.1" stroke-opacity="0.94"/>
<line x1="375.60" y1="315.3" x2="375.60" y2="332.4" stroke="#F21A1A" stroke-width="1.1" stroke-opacity="0.94"/>
<line x1="376.90" y1="322.1" x2="376.90" y2="333.6" stroke="#F21A1A" stroke-width="1.1" stroke-opacity="0.95"/>
<line x1="378.20" y1="325.2" x2="378.20" y2="331.5" stroke="#FF2A2A" stroke-width="1.1" stroke-opacity="0.97"/>
<line x1="379.50" y1="319.4" x2="379.50" y2="331.1" stroke="#FF2A2A" stroke-width="1.1" stroke-opacity="1.00"/>
<line x1="380.80" y1="315.6" x2="380.80" y2="329.6" stroke="#FF2A2A" stroke-width="1.1" stroke-opacity="0.95"/>
<line x1="382.10" y1="316.2" x2="382.10" y2="327.5" stroke="#2A9A10" stroke-width="1.1" stroke-opacity="0.96"/>
<line x1="382.10" y1="310.4" x2="382.10" y2="334.9" stroke="#2A9A10" stroke-width="0.7" stroke-opacity="0.75"/>
<line x1="383.40" y1="314.2" x2="383.40" y2="323.2" stroke="#FF2A2A" stroke-width="1.1" stroke-opacity="0.96"/>
<line x1="384.70" y1="314.8" x2="384.70" y2="326.0" stroke="#FF2A2A" stroke-width="1.1" stroke-opacity="1.00"/>
<line x1="384.70" y1="311.3" x2="384.70" y2="332.5" stroke="#FF2A2A" stroke-width="0.7" stroke-opacity="0.75"/>
<line x1="386.00" y1="312.9" x2="386.00" y2="321.8" stroke="#F21A1A" stroke-width="1.1" stroke-opacity="0.95"/>
<line x1="387.30" y1="312.8" x2="387.30" y2="319.5" stroke="#FF2A2A" stroke-width="1.1" stroke-opacity="0.94"/>
<line x1="388.60" y1="310.8" x2="388.60" y2="314.6" stroke="#FF2A2A" stroke-width="1.1" stroke-opacity="0.92"/>
<line x1="389.90" y1="313.8" x2="389.90" y2="318.5" stroke="#E01010" stroke-width="1.1" stroke-opacity="1.00"/>
<line x1="391.20" y1="312.7" x2="391.20" y2="318.6" stroke="#167A2A" stroke-width="1.1" stroke-opacity="0.97"/>
<line x1="391.20" y1="310.7" x2="391.20" y2="320.6" stroke="#167A2A" stroke-width="0.7" stroke-opacity="0.75"/>
<line x1="392.50" y1="315.1" x2="392.50" y2="318.1" stroke="#FF2A2A" stroke-width="1.1" stroke-opacity="0.97"/>
<line x1="393.80" y1="315.2" x2="393.80" y2="318.0" stroke="#FF2A2A" stroke-width="1.1" stroke-opacity="0.92"/>
<line x1="395.10" y1="313.5" x2="395.10" y2="317.0" stroke="#1F8F1F" stroke-width="1.1" stroke-opacity="1.00"/>
<line x1="396.40" y1="312.7" x2="396.40" y2="319.3" stroke="#FF2A2A" stroke-width="1.1" stroke-opacity="0.96"/>
<line x1="397.70" y1="309.9" x2="397.70" y2="317.7" stroke="#F21A1A" stroke-width="1.1" stroke-opacity="0.95"/>
<line x1="399.00" y1="302.9" x2="399.00" y2="310.9" stroke="#E01010" stroke-width="1.1" stroke-opacity="0.92"/>
<line x1="400.30" y1="293.5" x2="400.30" y2="302.4" stroke="#E01010" stroke-width="1.1" stroke-opacity="0.92"/>
<line x1="401.60" y1="281.8" x2="401.60" y2="297.1" stroke="#167A2A" stroke-width="1.1" stroke-opacity="0.97"/>
<line x1="402.90" y1="270.9" x2="402.90" y2="281.8" stroke="#F21A1A" stroke-width="1.1" stroke-opacity="0.91"/>
<line x1="404.20" y1="263.7" x2="404.20" y2="277.0" stroke="#FF2A2A" stroke-width="1.1" stroke-opacity="0.92"/>
<line x1="405.50" y1="255.5" x2="405.50" y2="270.8" stroke="#1F8F1F" stroke-width="1.1" stroke-opacity="0.90"/>
<line x1="406.80" y1="253.2" x2="406.80" y2="267.0" stroke="#2A9A10" stroke-width="1.1" stroke-opacity="0.94"/>
<line x1="406.80" y1="243.5" x2="406.80" y2="277.6" stroke="#2A9A10" stroke-width="0.7" stroke-opacity="0.75"/>
<line x1="408.10" y1="252.1" x2="408.10" y2="264.7" stroke="#167A2A" stroke-width="1.1" stroke-opacity="0.93"/>
<line x1="409.40" y1="256.1" x2="409.40" y2="264.8" stroke="#1F8F1F" stroke-width="1.1" stroke-opacity="0.90"/>
<line x1="410.70" y1="261.5" x2="410.70" y2="272.0" stroke="#2A9A10" stroke-width="1.1" stroke-opacity="0.94"/>
<line x1="410.70" y1="259.7" x2="410.70" y2="278.8" stroke="#2A9A10" stroke-width="0.7" stroke-opacity="0.75"/>
<line x1="412.00" y1="265.1" x2="412.00" y2="276.1" stroke="#1F8F1F" stroke-width="1.1" stroke-opacity="0.94"/>
<line x1="412.00" y1="264.0" x2="412.00" y2="282.1" stroke="#1F8F1F" stroke-width="0.7" stroke-opacity="0.75"/>
<line x1="413.30" y1="272.1" x2="413.30" y2="280.3" stroke="#1F8F1F" stroke-width="1.1" stroke-opacity="0.91"/>
<line x1="414.60" y1="275.7" x2="414.60" y2="279.9" stroke="#1F8F1F" stroke-width="1.1" stroke-opacity="0.94"/>
<line x1="415.90" y1="269.7" x2="415.90" y2="279.6" stroke="#FF2A2A" stroke-width="1.1" stroke-opacity="0.91"/>
<line x1="417.20" y1="264.7" x2="417.20" y2="275.4" stroke="#FF2A2A" stroke-width="1.1" stroke-opacity="0.96"/>
<line x1="417.20" y1="259.2" x2="417.20" y2="277.1" stroke="#FF2A2A" stroke-width="0.7" stroke-opacity="0.75"/>
<line x1="418.50" y1="258.5" x2="418.50" y2="272.2" stroke="#E01010" stroke-width="1.1" stroke-opacity="0.90"/>
<line x1="419.80" y1="252.2" x2="419.80" y2="261.1" stroke="#F21A1A" stroke-width="1.1" stroke-opacity="0.99"/>
<line x1="421.10" y1="250.9" x2="421.10" y2="259.8" stroke="#F21A1A" stroke-width="1.1" stroke-opacity="0.98"/>
<line x1="421.10" y1="244.7" x2="421.10" y2="261.4" stroke="#F21A1A" stroke-width="0.7" stroke-opacity="0.75"/>
<line x1="422.40" y1="253.4" x2="422.40" y2="261.0" stroke="#E01010" stroke-width="1.1" stroke-opacity="0.95"/>
<line x1="423.70" y1="252.4" x2="423.70" y2="266.1" stroke="#1F8F1F" stroke-width="1.1" stroke-opacity="0.98"/>
<line x1="425.00" y1="250.7" x2="425.00" y2="266.0" stroke="#F21A1A" stroke-width="1.1" stroke-opacity="0.98"/>
<line x1="426.30" y1="252.8" x2="426.30" y2="260.3" stroke="#1F8F1F" stroke-width="1.1" stroke-opacity="0.92"/>
<line x1="427.60" y1="254.9" x2="427.60" y2="264.5" stroke="#167A2A" stroke-width="1.1" stroke-opacity="0.94"/>
<line x1="427.60" y1="250.9" x2="427.60" y2="271.7" stroke="#167A2A" stroke-width="0.7" stroke-opacity="0.75"/>
<line x1="428.90" y1="256.1" x2="428.90" y2="273.2" stroke="#1F8F1F" stroke-width="1.1" stroke-opacity="0.94"/>
<line x1="430.20" y1="267.5" x2="430.20" y2="281.3" stroke="#1F8F1F" stroke-width="1.1" stroke-opacity="0.99"/>
<line x1="431.50" y1="273.0" x2="431.50" y2="281.9" stroke="#167A2A" stroke-width="1.1" stroke-opacity="0.98"/>
<line x1="431.50" y1="263.3" x2="431.50" y2="290.1" stroke="#167A2A" stroke-width="0.7" stroke-opacity="0.75"/>
<line x1="432.80" y1="275.4" x2="432.80" y2="296.3" stroke="#167A2A" stroke-width="1.1" stroke-opacity="0.92"/>
<line x1="434.10" y1="284.2" x2="434.10" y2="297.3" stroke="#2A9A10" stroke-width="1.1" stroke-opacity="0.97"/>
<line x1="435.40" y1="294.0" x2="435.40" y2="306.7" stroke="#167A2A" stroke-width="1.1" stroke-opacity="0.95"/>
<line x1="436.70" y1="298.9" x2="436.70" y2="311.6" stroke="#1F8F1F" stroke-width="1.1" stroke-opacity="0.93"/>
<line x1="438.00" y1="300.3" x2="438.00" y2="310.7" stroke="#E01010" stroke-width="1.1" stroke-opacity="0.92"/>
<line x1="439.30" y1="301.3" x2="439.30" y2="310.6" stroke="#167A2A" stroke-width="1.1" stroke-opacity="0.97"/>
<line x1="439.30" y1="298.6" x2="439.30" y2="315.3" stroke="#167A2A" stroke-width="0.7" stroke-opacity="0.75"/>
<line x1="440.60" y1="303.7" x2="440.60" y2="313.4" stroke="#167A2A" stroke-width="1.1" stroke-opacity="0.91"/>
<line x1="441.90" y1="302.3" x2="441.90" y2="315.3" stroke="#1F8F1F" stroke-width="1.1" stroke-opacity="0.97"/>
<line x1="443.20" y1="302.7" x2="443.20" y2="313.1" stroke="#2A9A10" stroke-width="1.1" stroke-opacity="0.94"/>
<line x1="443.20" y1="301.3" x2="443.20" y2="316.0" stroke="#2A9A10" stroke-width="0.7" stroke-opacity="0.75"/>
<line x1="444.50" y1="307.1" x2="444.50" y2="317.9" stroke="#167A2A" stroke-width="1.1" stroke-opacity="0.94"/>
<line x1="445.80" y1="312.2" x2="445.80" y2="316.3" stroke="#167A2A" stroke-width="1.1" stroke-opacity="0.98"/>
<line x1="445.80" y1="307.9" x2="445.80" y2="321.7" stroke="#167A2A" stroke-width="0.7" stroke-opacity="0.75"/>
<line x1="447.10" y1="309.9" x2="447.10" y2="317.5" stroke="#1F8F1F" stroke-width="1.1" stroke-opacity="0.98"/>
<line x1="448.40" y1="312.3" x2="448.40" y2="317.8" stroke="#1F8F1F" stroke-width="1.1" stroke-opacity="0.97"/>
<line x1="448.40" y1="310.7" x2="448.40" y2="319.1" stroke="#1F8F1F" stroke-width="0.7" stroke-opacity="0.75"/>
<line x1="449.70" y1="310.4" x2="449.70" y2="315.1" stroke="#2A9A10" stroke-width="1.1" stroke-opacity="0.96"/>
<line x1="451.00" y1="312.2" x2="451.00" y2="316.5" stroke="#F21A1A" stroke-width="1.1" stroke-opacity="0.96"/>
<line x1="452.30" y1="312.8" x2="452.30" y2="317.4" stroke="#2A9A10" stroke-width="1.1" stroke-opacity="0.94"/>
<line x1="453.60" y1="314.7" x2="453.60" y2="320.7" stroke="#1F8F1F" stroke-width="1.1" stroke-opacity="1.00"/>
<line x1="454.90" y1="312.6" x2="454.90" y2="320.3" stroke="#1F8F1F" stroke-width="1.1" stroke-opacity="0.93"/>
<line x1="456.20" y1="316.4" x2="456.20" y2="323.7" stroke="#167A2A" stroke-width="1.1" stroke-opacity="0.94"/>
<line x1="457.50" y1="326.2" x2="457.50" y2="336.9" stroke="#FF2A2A" stroke-width="1.1" stroke-opacity="0.98"/>
<line x1="458.80" y1="333.4" x2="458.80" y2="341.6" stroke="#FF2A2A" stroke-width="1.1" stroke-opacity="0.97"/>
<line x1="460.10" y1="336.8" x2="460.10" y2="355.7" stroke="#1F8F1F" stroke-width="1.1" stroke-opacity="0.92"/>
<line x1="460.10" y1="331.5" x2="460.10" y2="362.2" stroke="#1F8F1F" stroke-width="0.7" stroke-opacity="0.75"/>
<line x1="461.40" y1="342.0" x2="461.40" y2="356.4" stroke="#1F8F1F" stroke-width="1.1" stroke-opacity="0.94"/>
<line x1="462.70" y1="343.8" x2="462.70" y2="362.4" stroke="#1F8F1F" stroke-width="1.1" stroke-opacity="0.98"/>
<line x1="462.70" y1="337.9" x2="462.70" y2="367.9" stroke="#1F8F1F" stroke-width="0.7" stroke-opacity="0.75"/>
<line x1="464.00" y1="351.4" x2="464.00" y2="357.1" stroke="#167A2A" stroke-width="1.1" stroke-opacity="0.91"/>
<line x1="465.30" y1="349.7" x2="465.30" y2="357.2" stroke="#E01010" stroke-width="1.1" stroke-opacity="0.94"/>
<line x1="465.30" y1="345.4" x2="465.30" y2="360.1" stroke="#E01010" stroke-width="0.7" stroke-opacity="0.75"/>
<line x1="466.60" y1="344.4" x2="466.60" y2="353.5" stroke="#FF2A2A" stroke-width="1.1" stroke-opacity="0.93"/>
<line x1="466.60" y1="338.5" x2="466.60" y2="355.5" stroke="#FF2A2A" stroke-width="0.7" stroke-opacity="0.75"/>
<line x1="467.90" y1="336.6" x2="467.90" y2="348.6" stroke="#1F8F1F" stroke-width="1.1" stroke-opacity="0.95"/>
<line x1="467.90" y1="332.8" x2="467.90" y2="352.8" stroke="#1F8F1F" stroke-width="0.7" stroke-opacity="0.75"/>
<line x1="469.20" y1="335.6" x2="469.20" y2="350.2" stroke="#E01010" stroke-width="1.1" stroke-opacity="0.96"/>
<line x1="470.50" y1="333.8" x2="470.50" y2="343.9" stroke="#FF2A2A" stroke-width="1.1" stroke-opacity="0.98"/>
<line x1="471.80" y1="328.3" x2="471.80" y2="340.1" stroke="#E01010" stroke-width="1.1" stroke-opacity="0.95"/>
<line x1="473.10" y1="322.7" x2="473.10" y2="334.1" stroke="#FF2A2A" stroke-width="1.1" stroke-opacity="0.91"/>
<line x1="473.10" y1="319.4" x2="473.10" y2="335.2" stroke="#FF2A2A" stroke-width="0.7" stroke-opacity="0.75"/>
<line x1="474.40" y1="318.3" x2="474.40" y2="323.6" stroke="#1F8F1F" stroke-width="1.1" stroke-opacity="0.99"/>
<line x1="474.40" y1="311.2" x2="474.40" y2="325.9" stroke="#1F8F1F" stroke-width="0.7" stroke-opacity="0.75"/>
<line x1="475.70" y1="319.3" x2="475.70" y2="331.4" stroke="#167A2A" stroke-width="1.1" stroke-opacity="0.93"/>
<line x1="477.00" y1="331.6" x2="477.00" y2="341.0" stroke="#2A9A10" stroke-width="1.1" stroke-opacity="0.99"/>
<line x1="478.30" y1="338.4" x2="478.30" y2="349.8" stroke="#167A2A" stroke-width="1.1" stroke-opacity="0.96"/>
<line x1="478.30" y1="330.1" x2="478.30" y2="352.7" stroke="#167A2A" stroke-width="0.7" stroke-opacity="0.75"/>
<line x1="479.60" y1="351.0" x2="479.60" y2="368.2" stroke="#167A2A" stroke-width="1.1" stroke-opacity="0.91"/>
<line x1="479.60" y1="349.0" x2="479.60" y2="377.0" stroke="#167A2A" stroke-width="0.7" stroke-opacity="0.75"/>
<line x1="480.90" y1="359.3" x2="480.90" y2="380.7" stroke="#167A2A" stroke-width="1.1" stroke-opacity="0.98"/>
<line x1="482.20" y1="370.1" x2="482.20" y2="385.1" stroke="#167A2A" stroke-width="1.1" stroke-opacity="0.90"/>
<line x1="483.50" y1="373.4" x2="483.50" y2="393.7" stroke="#2A9A10" stroke-width="1.1" stroke-opacity="0.92"/>
<line x1="484.80" y1="380.1" x2="484.80" y2="400.2" stroke="#2A9A10" stroke-width="1.1" stroke-opacity="0.94"/>
<line x1="484.80" y1="369.7" x2="484.80" y2="406.3" stroke="#2A9A10" stroke-width="0.7" stroke-opacity="0.75"/>
<line x1="486.10" y1="388.4" x2="486.10" y2="404.1" stroke="#E01010" stroke-width="1.1" stroke-opacity="0.90"/>
<line x1="486.10" y1="383.9" x2="486.10" y2="409.7" stroke="#E01010" stroke-width="0.7" stroke-opacity="0.75"/>
<line x1="487.40" y1="374.0" x2="487.40" y2="390.5" stroke="#FF2A2A" stroke-width="1.1" stroke-opacity="0.95"/>
<line x1="487.40" y1="370.6" x2="487.40" y2="399.9" stroke="#FF2A2A" stroke-width="0.7" stroke-opacity="0.75"/>
<line x1="488.70" y1="365.8" x2="488.70" y2="377.4" stroke="#E01010" stroke-width="1.1" stroke-opacity="0.93"/>
<line x1="490.00" y1="349.9" x2="490.00" y2="365.9" stroke="#E01010" stroke-width="1.1" stroke-opacity="0.97"/>
<line x1="491.30" y1="336.5" x2="491.30" y2="356.6" stroke="#1F8F1F" stroke-width="1.1" stroke-opacity="0.96"/>
<line x1="492.60" y1="322.3" x2="492.60" y2="343.8" stroke="#F21A1A" stroke-width="1.1" stroke-opacity="0.93"/>
<line x1="493.90" y1="313.3" x2="493.90" y2="328.9" stroke="#167A2A" stroke-width="1.1" stroke-opacity="0.97"/>
<line x1="495.20" y1="310.2" x2="495.20" y2="327.6" stroke="#E01010" stroke-width="1.1" stroke-opacity="0.94"/>
<line x1="495.20" y1="306.9" x2="495.20" y2="332.0" stroke="#E01010" stroke-width="0.7" stroke-opacity="0.75"/>
<line x1="496.50" y1="301.3" x2="496.50" y2="320.7" stroke="#F21A1A" stroke-width="1.1" stroke-opacity="0.94"/>
<line x1="497.80" y1="303.8" x2="497.80" y2="313.4" stroke="#167A2A" stroke-width="1.1" stroke-opacity="0.97"/>
<line x1="499.10" y1="301.7" x2="499.10" y2="310.3" stroke="#2A9A10" stroke-width="1.1" stroke-opacity="0.96"/>
<line x1="500.40" y1="295.6" x2="500.40" y2="310.0" stroke="#FF2A2A" stroke-width="1.1" stroke-opacity="0.99"/>
<line x1="500.40" y1="290.6" x2="500.40" y2="318.5" stroke="#FF2A2A" stroke-width="0.7" stroke-opacity="0.75"/>
<line x1="501.70" y1="294.1" x2="501.70" y2="308.8" stroke="#FF2A2A" stroke-width="1.1" stroke-opacity="0.92"/>
<line x1="501.70" y1="292.7" x2="501.70" y2="313.6" stroke="#FF2A2A" stroke-width="0.7" stroke-opacity="0.75"/>
<line x1="503.00" y1="291.8" x2="503.00" y2="303.8" stroke="#2A9A10" stroke-width="1.1" stroke-opacity="0.97"/>
<line x1="504.30" y1="296.4" x2="504.30" y2="305.8" stroke="#1F8F1F" stroke-width="1.1" stroke-opacity="0.97"/>
<line x1="504.30" y1="293.6" x2="504.30" y2="311.2" stroke="#1F8F1F" stroke-width="0.7" stroke-opacity="0.75"/>
<line x1="505.60" y1="291.8" x2="505.60" y2="305.1" stroke="#2A9A10" stroke-width="1.1" stroke-opacity="0.97"/>
<line x1="506.90" y1="296.9" x2="506.90" y2="309.9" stroke="#167A2A" stroke-width="1.1" stroke-opacity="0.98"/>
<line x1="506.90" y1="291.2" x2="506.90" y2="316.9" stroke="#167A2A" stroke-width="0.7" stroke-opacity="0.75"/>
<line x1="508.20" y1="301.6" x2="508.20" y2="313.3" stroke="#FF2A2A" stroke-width="1.1" stroke-opacity="0.99"/>
<line x1="509.50" y1="306.6" x2="509.50" y2="321.6" stroke="#F21A1A" stroke-width="1.1" stroke-opacity="0.92"/>
<line x1="509.50" y1="303.8" x2="509.50" y2="327.2" stroke="#F21A1A" stroke-width="0.7" stroke-opacity="0.75"/>
<line x1="510.80" y1="306.3" x2="510.80" y2="320.8" stroke="#FF2A2A" stroke-width="1.1" stroke-opacity="0.96"/>
<line x1="512.10" y1="311.1" x2="512.10" y2="321.8" stroke="#167A2A" stroke-width="1.1" stroke-opacity="0.98"/>
<line x1="513.40" y1="315.7" x2="513.40" y2="325.4" stroke="#167A2A" stroke-width="1.1" stroke-opacity="0.95"/>
<line x1="513.40" y1="312.2" x2="513.40" y2="330.8" stroke="#167A2A" stroke-width="0.7" stroke-opacity="0.75"/>
<line x1="514.70" y1="316.4" x2="514.70" y2="323.0" stroke="#1F8F1F" stroke-width="1.1" stroke-opacity="1.00"/>
<line x1="514.70" y1="313.1" x2="514.70" y2="325.4" stroke="#1F8F1F" stroke-width="0.7" stroke-opacity="0.75"/>
<line x1="516.00" y1="316.9" x2="516.00" y2="323.1" stroke="#F21A1A" stroke-width="1.1" stroke-opacity="0.92"/>
<line x1="517.30" y1="317.7" x2="517.30" y2="322.7" stroke="#167A2A" stroke-width="1.1" stroke-opacity="0.97"/>
<line x1="518.60" y1="319.7" x2="518.60" y2="325.2" stroke="#1F8F1F" stroke-width="1.1" stroke-opacity="0.99"/>
<line x1="518.60" y1="316.6" x2="518.60" y2="328.3" stroke="#1F8F1F" stroke-width="0.7" stroke-opacity="0.75"/>
<line x1="519.90" y1="319.5" x2="519.90" y2="325.0" stroke="#1F8F1F" stroke-width="1.1" stroke-opacity="0.97"/>
<line x1="519.90" y1="317.0" x2="519.90" y2="326.9" stroke="#1F8F1F" stroke-width="0.7" stroke-opacity="0.75"/>
<line x1="521.20" y1="321.9" x2="521.20" y2="327.4" stroke="#F21A1A" stroke-width="1.1" stroke-opacity="0.94"/>
<line x1="522.50" y1="320.2" x2="522.50" y2="326.9" stroke="#F21A1A" stroke-width="1.1" stroke-opacity="0.92"/>
<line x1="522.50" y1="317.1" x2="522.50" y2="329.6" stroke="#F21A1A" stroke-width="0.7" stroke-opacity="0.75"/>
<line x1="523.80" y1="321.6" x2="523.80" y2="330.0" stroke="#2A9A10" stroke-width="1.1" stroke-opacity="0.99"/>
<line x1="525.10" y1="321.4" x2="525.10" y2="332.5" stroke="#1F8F1F" stroke-width="1.1" stroke-opacity="0.95"/>
<line x1="526.40" y1="323.8" x2="526.40" y2="336.5" stroke="#167A2A" stroke-width="1.1" stroke-opacity="0.91"/>
<line x1="527.70" y1="327.7" x2="527.70" y2="338.1" stroke="#167A2A" stroke-width="1.1" stroke-opacity="0.92"/>
<line x1="529.00" y1="321.1" x2="529.00" y2="335.9" stroke="#2A9A10" stroke-width="1.1" stroke-opacity="0.99"/>
<line x1="529.00" y1="318.1" x2="529.00" y2="340.2" stroke="#2A9A10" stroke-width="0.7" stroke-opacity="0.75"/>
<line x1="530.30" y1="319.8" x2="530.30" y2="331.2" stroke="#F21A1A" stroke-width="1.1" stroke-opacity="0.96"/>
<line x1="531.60" y1="306.7" x2="531.60" y2="321.3" stroke="#FF2A2A" stroke-width="1.1" stroke-opacity="0.98"/>
<line x1="532.90" y1="293.2" x2="532.90" y2="309.4" stroke="#E01010" stroke-width="1.1" stroke-opacity="0.97"/>
<line x1="532.90" y1="283.5" x2="532.90" y2="311.1" stroke="#E01010" stroke-width="0.7" stroke-opacity="0.75"/>
<line x1="534.20" y1="274.3" x2="534.20" y2="293.2" stroke="#FF2A2A" stroke-width="1.1" stroke-opacity="0.92"/>
<line x1="535.50" y1="290.1" x2="535.50" y2="301.7" stroke="#167A2A" stroke-width="1.1" stroke-opacity="0.95"/>
<line x1="536.80" y1="299.7" x2="536.80" y2="321.3" stroke="#1F8F1F" stroke-width="1.1" stroke-opacity="0.91"/>
<line x1="538.10" y1="322.3" x2="538.10" y2="329.8" stroke="#2A9A10" stroke-width="1.1" stroke-opacity="0.94"/>
<line x1="539.40" y1="329.1" x2="539.40" y2="338.7" stroke="#1F8F1F" stroke-width="1.1" stroke-opacity="0.93"/>
<line x1="540.70" y1="331.3" x2="540.70" y2="347.0" stroke="#167A2A" stroke-width="1.1" stroke-opacity="0.94"/>
<line x1="542.00" y1="337.1" x2="542.00" y2="353.2" stroke="#FF2A2A" stroke-width="1.1" stroke-opacity="0.96"/>
<line x1="542.00" y1="331.2" x2="542.00" y2="363.9" stroke="#FF2A2A" stroke-width="0.7" stroke-opacity="0.75"/>
<line x1="543.30" y1="335.3" x2="543.30" y2="347.0" stroke="#E01010" stroke-width="1.1" stroke-opacity="0.91"/>
<line x1="544.60" y1="332.0" x2="544.60" y2="344.7" stroke="#167A2A" stroke-width="1.1" stroke-opacity="0.96"/>
<line x1="545.90" y1="325.5" x2="545.90" y2="338.1" stroke="#E01010" stroke-width="1.1" stroke-opacity="0.95"/>
<line x1="547.20" y1="314.5" x2="547.20" y2="333.1" stroke="#1F8F1F" stroke-width="1.1" stroke-opacity="0.94"/>
<line x1="547.20" y1="304.8" x2="547.20" y2="336.5" stroke="#1F8F1F" stroke-width="0.7" stroke-opacity="0.75"/>
<line x1="548.50" y1="320.2" x2="548.50" y2="329.8" stroke="#FF2A2A" stroke-width="1.1" stroke-opacity="0.99"/>
<line x1="549.80" y1="317.8" x2="549.80" y2="327.1" stroke="#2A9A10" stroke-width="1.1" stroke-opacity="0.96"/>
<line x1="551.10" y1="320.5" x2="551.10" y2="325.5" stroke="#167A2A" stroke-width="1.1" stroke-opacity="0.94"/>
<line x1="552.40" y1="324.0" x2="552.40" y2="328.1" stroke="#167A2A" stroke-width="1.1" stroke-opacity="0.99"/>
<line x1="553.70" y1="321.0" x2="553.70" y2="328.1" stroke="#FF2A2A" stroke-width="1.1" stroke-opacity="0.94"/>
<line x1="555.00" y1="319.1" x2="555.00" y2="328.5" stroke="#FF2A2A" stroke-width="1.1" stroke-opacity="0.95"/>
<line x1="555.00" y1="317.0" x2="555.00" y2="332.3" stroke="#FF2A2A" stroke-width="0.7" stroke-opacity="0.75"/>
<line x1="556.30" y1="313.7" x2="556.30" y2="324.6" stroke="#FF2A2A" stroke-width="1.1" stroke-opacity="0.95"/>
<line x1="556.30" y1="312.2" x2="556.30" y2="327.5" stroke="#FF2A2A" stroke-width="0.7" stroke-opacity="0.75"/>
<line x1="557.60" y1="308.8" x2="557.60" y2="318.2" stroke="#E01010" stroke-width="1.1" stroke-opacity="0.90"/>
<line x1="557.60" y1="305.0" x2="557.60" y2="319.5" stroke="#E01010" stroke-width="0.7" stroke-opacity="0.75"/>
<line x1="558.90" y1="299.7" x2="558.90" y2="313.5" stroke="#E01010" stroke-width="1.1" stroke-opacity="0.93"/>
<line x1="560.20" y1="289.7" x2="560.20" y2="303.0" stroke="#FF2A2A" stroke-width="1.1" stroke-opacity="0.98"/>
<line x1="561.50" y1="280.9" x2="561.50" y2="295.9" stroke="#F21A1A" stroke-width="1.1" stroke-opacity="0.98"/>
<line x1="562.80" y1="273.8" x2="562.80" y2="289.9" stroke="#E01010" stroke-width="1.1" stroke-opacity="0.96"/>
<line x1="564.10" y1="268.8" x2="564.10" y2="280.7" stroke="#E01010" stroke-width="1.1" stroke-opacity="0.99"/>
<line x1="564.10" y1="263.5" x2="564.10" y2="285.5" stroke="#E01010" stroke-width="0.7" stroke-opacity="0.75"/>
<line x1="565.40" y1="263.3" x2="565.40" y2="275.9" stroke="#E01010" stroke-width="1.1" stroke-opacity="0.95"/>
<line x1="566.70" y1="255.7" x2="566.70" y2="270.1" stroke="#2A9A10" stroke-width="1.1" stroke-opacity="0.94"/>
<line x1="566.70" y1="248.7" x2="566.70" y2="271.1" stroke="#2A9A10" stroke-width="0.7" stroke-opacity="0.75"/>
<line x1="568.00" y1="257.7" x2="568.00" y2="266.8" stroke="#F21A1A" stroke-width="1.1" stroke-opacity="0.96"/>
<line x1="569.30" y1="255.4" x2="569.30" y2="265.4" stroke="#1F8F1F" stroke-width="1.1" stroke-opacity="0.90"/>
<line x1="570.60" y1="253.7" x2="570.60" y2="260.4" stroke="#1F8F1F" stroke-width="1.1" stroke-opacity="0.97"/>
<line x1="571.90" y1="252.3" x2="571.90" y2="258.1" stroke="#E01010" stroke-width="1.1" stroke-opacity="0.94"/>
<line x1="571.90" y1="250.0" x2="571.90" y2="259.8" stroke="#E01010" stroke-width="0.7" stroke-opacity="0.75"/>
<line x1="573.20" y1="254.1" x2="573.20" y2="261.8" stroke="#F21A1A" stroke-width="1.1" stroke-opacity="0.91"/>
<line x1="574.50" y1="251.8" x2="574.50" y2="260.7" stroke="#FF2A2A" stroke-width="1.1" stroke-opacity="0.91"/>
<line x1="575.80" y1="242.2" x2="575.80" y2="253.5" stroke="#2A9A10" stroke-width="1.1" stroke-opacity="0.91"/>
<line x1="577.10" y1="227.3" x2="577.10" y2="244.1" stroke="#FF2A2A" stroke-width="1.1" stroke-opacity="0.99"/>
<line x1="578.40" y1="217.2" x2="578.40" y2="228.8" stroke="#E01010" stroke-width="1.1" stroke-opacity="0.95"/>
<line x1="579.70" y1="224.7" x2="579.70" y2="229.7" stroke="#2A9A10" stroke-width="1.1" stroke-opacity="0.92"/>
<line x1="579.70" y1="214.2" x2="579.70" y2="236.7" stroke="#2A9A10" stroke-width="0.7" stroke-opacity="0.75"/>
<line x1="581.00" y1="224.8" x2="581.00" y2="242.2" stroke="#167A2A" stroke-width="1.1" stroke-opacity="0.94"/>
<line x1="582.30" y1="227.1" x2="582.30" y2="244.5" stroke="#1F8F1F" stroke-width="1.1" stroke-opacity="0.97"/>
<line x1="583.60" y1="234.1" x2="583.60" y2="249.7" stroke="#1F8F1F" stroke-width="1.1" stroke-opacity="0.92"/>
<line x1="584.90" y1="241.9" x2="584.90" y2="250.4" stroke="#167A2A" stroke-width="1.1" stroke-opacity="0.98"/>
<line x1="586.20" y1="244.0" x2="586.20" y2="263.2" stroke="#167A2A" stroke-width="1.1" stroke-opacity="0.94"/>
<line x1="587.50" y1="258.3" x2="587.50" y2="272.1" stroke="#F21A1A" stroke-width="1.1" stroke-opacity="0.92"/>
<line x1="588.80" y1="256.9" x2="588.80" y2="271.9" stroke="#167A2A" stroke-width="1.1" stroke-opacity="0.95"/>
<line x1="588.80" y1="246.6" x2="588.80" y2="279.4" stroke="#167A2A" stroke-width="0.7" stroke-opacity="0.75"/>
<line x1="590.10" y1="263.2" x2="590.10" y2="268.7" stroke="#F21A1A" stroke-width="1.1" stroke-opacity="0.97"/>
<line x1="591.40" y1="257.6" x2="591.40" y2="270.8" stroke="#F21A1A" stroke-width="1.1" stroke-opacity="0.91"/>
<line x1="592.70" y1="253.8" x2="592.70" y2="270.0" stroke="#F21A1A" stroke-width="1.1" stroke-opacity="0.93"/>
<line x1="594.00" y1="251.5" x2="594.00" y2="265.8" stroke="#2A9A10" stroke-width="1.1" stroke-opacity="0.93"/>
<line x1="595.30" y1="255.1" x2="595.30" y2="262.8" stroke="#F21A1A" stroke-width="1.1" stroke-opacity="0.98"/>
<line x1="596.60" y1="256.1" x2="596.60" y2="261.3" stroke="#FF2A2A" stroke-width="1.1" stroke-opacity="0.93"/>
<line x1="597.90" y1="255.1" x2="597.90" y2="258.5" stroke="#F21A1A" stroke-width="1.1" stroke-opacity="0.93"/>
<line x1="599.20" y1="253.4" x2="599.20" y2="260.6" stroke="#2A9A10" stroke-width="1.1" stroke-opacity="0.97"/>
<line x1="599.20" y1="251.9" x2="599.20" y2="262.9" stroke="#2A9A10" stroke-width="0.7" stroke-opacity="0.75"/>
<line x1="600.50" y1="255.7" x2="600.50" y2="260.0" stroke="#1F8F1F" stroke-width="1.1" stroke-opacity="0.91"/>
<line x1="601.80" y1="255.6" x2="601.80" y2="260.6" stroke="#2A9A10" stroke-width="1.1" stroke-opacity="0.97"/>
<line x1="601.80" y1="254.6" x2="601.80" y2="263.0" stroke="#2A9A10" stroke-width="0.7" stroke-opacity="0.75"/>
<line x1="603.10" y1="256.0" x2="603.10" y2="263.1" stroke="#2A9A10" stroke-width="1.1" stroke-opacity="0.91"/>
<line x1="604.40" y1="252.1" x2="604.40" y2="260.6" stroke="#F21A1A" stroke-width="1.1" stroke-opacity="0.90"/>
<line x1="604.40" y1="247.4" x2="604.40" y2="262.7" stroke="#F21A1A" stroke-width="0.7" stroke-opacity="0.75"/>
<line x1="605.70" y1="240.7" x2="605.70" y2="256.5" stroke="#F21A1A" stroke-width="1.1" stroke-opacity="0.92"/>
<line x1="605.70" y1="239.0" x2="605.70" y2="257.8" stroke="#F21A1A" stroke-width="0.7" stroke-opacity="0.75"/>
<line x1="607.00" y1="226.2" x2="607.00" y2="241.9" stroke="#167A2A" stroke-width="1.1" stroke-opacity="0.98"/>
<line x1="607.00" y1="222.9" x2="607.00" y2="243.2" stroke="#167A2A" stroke-width="0.7" stroke-opacity="0.75"/>
<line x1="608.30" y1="228.6" x2="608.30" y2="240.3" stroke="#E01010" stroke-width="1.1" stroke-opacity="0.97"/>
<line x1="608.30" y1="225.4" x2="608.30" y2="248.2" stroke="#E01010" stroke-width="0.7" stroke-opacity="0.75"/>
<line x1="609.60" y1="228.1" x2="609.60" y2="238.3" stroke="#1F8F1F" stroke-width="1.1" stroke-opacity="0.91"/>
<line x1="609.60" y1="221.0" x2="609.60" y2="240.7" stroke="#1F8F1F" stroke-width="0.7" stroke-opacity="0.75"/>
<line x1="610.90" y1="233.6" x2="610.90" y2="244.6" stroke="#1F8F1F" stroke-width="1.1" stroke-opacity="0.90"/>
<line x1="612.20" y1="235.7" x2="612.20" y2="242.5" stroke="#2A9A10" stroke-width="1.1" stroke-opacity="0.95"/>
<line x1="612.20" y1="230.3" x2="612.20" y2="247.8" stroke="#2A9A10" stroke-width="0.7" stroke-opacity="0.75"/>
<line x1="613.50" y1="232.1" x2="613.50" y2="239.5" stroke="#F21A1A" stroke-width="1.1" stroke-opacity="0.90"/>
<line x1="614.80" y1="234.7" x2="614.80" y2="243.7" stroke="#167A2A" stroke-width="1.1" stroke-opacity="0.96"/>
<line x1="614.80" y1="231.1" x2="614.80" y2="248.1" stroke="#167A2A" stroke-width="0.7" stroke-opacity="0.75"/>
<line x1="616.10" y1="234.8" x2="616.10" y2="245.9" stroke="#F21A1A" stroke-width="1.1" stroke-opacity="0.98"/>
<line x1="617.40" y1="239.0" x2="617.40" y2="248.0" stroke="#FF2A2A" stroke-width="1.1" stroke-opacity="0.99"/>
<line x1="618.70" y1="238.9" x2="618.70" y2="246.7" stroke="#E01010" stroke-width="1.1" stroke-opacity="0.98"/>
<line x1="620.00" y1="239.6" x2="620.00" y2="246.2" stroke="#167A2A" stroke-width="1.1" stroke-opacity="1.00"/>
<line x1="621.30" y1="240.1" x2="621.30" y2="247.9" stroke="#F21A1A" stroke-width="1.1" stroke-opacity="0.99"/>
<line x1="622.60" y1="236.8" x2="622.60" y2="246.0" stroke="#167A2A" stroke-width="1.1" stroke-opacity="0.96"/>
<line x1="623.90" y1="232.8" x2="623.90" y2="241.4" stroke="#FF2A2A" stroke-width="1.1" stroke-opacity="0.98"/>
<line x1="625.20" y1="225.9" x2="625.20" y2="236.7" stroke="#FF2A2A" stroke-width="1.1" stroke-opacity="0.90"/>
<line x1="625.20" y1="219.9" x2="625.20" y2="240.3" stroke="#FF2A2A" stroke-width="0.7" stroke-opacity="0.75"/>
<line x1="626.50" y1="206.7" x2="626.50" y2="219.0" stroke="#FF2A2A" stroke-width="1.1" stroke-opacity="0.94"/>
<line x1="627.80" y1="188.4" x2="627.80" y2="197.9" stroke="#FF2A2A" stroke-width="1.1" stroke-opacity="0.94"/>
<line x1="629.10" y1="180.7" x2="629.10" y2="194.2" stroke="#1F8F1F" stroke-width="1.1" stroke-opacity="0.99"/>
<line x1="630.40" y1="179.2" x2="630.40" y2="188.3" stroke="#F21A1A" stroke-width="1.1" stroke-opacity="0.96"/>
<line x1="631.70" y1="182.1" x2="631.70" y2="195.5" stroke="#2A9A10" stroke-width="1.1" stroke-opacity="0.96"/>
<line x1="633.00" y1="181.1" x2="633.00" y2="189.8" stroke="#FF2A2A" stroke-width="1.1" stroke-opacity="0.99"/>
<line x1="634.30" y1="186.4" x2="634.30" y2="194.6" stroke="#FF2A2A" stroke-width="1.1" stroke-opacity="0.97"/>
<line x1="635.60" y1="185.2" x2="635.60" y2="194.9" stroke="#1F8F1F" stroke-width="1.1" stroke-opacity="0.91"/>
<line x1="636.90" y1="184.5" x2="636.90" y2="194.7" stroke="#FF2A2A" stroke-width="1.1" stroke-opacity="0.94"/>
<line x1="638.20" y1="182.0" x2="638.20" y2="192.9" stroke="#E01010" stroke-width="1.1" stroke-opacity="0.91"/>
<line x1="639.50" y1="178.1" x2="639.50" y2="188.3" stroke="#E01010" stroke-width="1.1" stroke-opacity="0.92"/>
<line x1="640.80" y1="176.9" x2="640.80" y2="186.0" stroke="#FF2A2A" stroke-width="1.1" stroke-opacity="0.93"/>
<line x1="640.80" y1="170.1" x2="640.80" y2="190.2" stroke="#FF2A2A" stroke-width="0.7" stroke-opacity="0.75"/>
<line x1="642.10" y1="172.2" x2="642.10" y2="185.9" stroke="#1F8F1F" stroke-width="1.1" stroke-opacity="0.98"/>
<line x1="642.10" y1="167.9" x2="642.10" y2="189.5" stroke="#1F8F1F" stroke-width="0.7" stroke-opacity="0.75"/>
<line x1="643.40" y1="174.9" x2="643.40" y2="185.5" stroke="#167A2A" stroke-width="1.1" stroke-opacity="0.95"/>
<line x1="644.70" y1="171.3" x2="644.70" y2="181.1" stroke="#FF2A2A" stroke-width="1.1" stroke-opacity="0.90"/>
<line x1="646.00" y1="171.1" x2="646.00" y2="179.6" stroke="#1F8F1F" stroke-width="1.1" stroke-opacity="0.97"/>
<line x1="646.00" y1="168.6" x2="646.00" y2="180.9" stroke="#1F8F1F" stroke-width="0.7" stroke-opacity="0.75"/>
<line x1="647.30" y1="173.0" x2="647.30" y2="179.1" stroke="#2A9A10" stroke-width="1.1" stroke-opacity="0.93"/>
<line x1="648.60" y1="170.4" x2="648.60" y2="178.5" stroke="#167A2A" stroke-width="1.1" stroke-opacity="0.93"/>
<line x1="649.90" y1="173.9" x2="649.90" y2="182.0" stroke="#2A9A10" stroke-width="1.1" stroke-opacity="0.95"/>
<line x1="651.20" y1="179.2" x2="651.20" y2="187.4" stroke="#2A9A10" stroke-width="1.1" stroke-opacity="0.97"/>
<line x1="652.50" y1="183.7" x2="652.50" y2="194.4" stroke="#1F8F1F" stroke-width="1.1" stroke-opacity="0.95"/>
<line x1="652.50" y1="178.0" x2="652.50" y2="197.3" stroke="#1F8F1F" stroke-width="0.7" stroke-opacity="0.75"/>
<line x1="653.80" y1="182.8" x2="653.80" y2="197.5" stroke="#F21A1A" stroke-width="1.1" stroke-opacity="0.96"/>
<line x1="655.10" y1="185.2" x2="655.10" y2="194.1" stroke="#F21A1A" stroke-width="1.1" stroke-opacity="0.98"/>
<line x1="656.40" y1="190.7" x2="656.40" y2="193.3" stroke="#2A9A10" stroke-width="1.1" stroke-opacity="0.97"/>
<line x1="656.40" y1="188.6" x2="656.40" y2="196.6" stroke="#2A9A10" stroke-width="0.7" stroke-opacity="0.75"/>
<line x1="657.70" y1="188.2" x2="657.70" y2="192.2" stroke="#2A9A10" stroke-width="1.1" stroke-opacity="0.99"/>
<line x1="659.00" y1="188.8" x2="659.00" y2="193.8" stroke="#E01010" stroke-width="1.1" stroke-opacity="0.91"/>
<line x1="660.30" y1="186.8" x2="660.30" y2="192.1" stroke="#FF2A2A" stroke-width="1.1" stroke-opacity="0.92"/>
<line x1="661.60" y1="185.3" x2="661.60" y2="193.0" stroke="#E01010" stroke-width="1.1" stroke-opacity="0.98"/>
<line x1="661.60" y1="183.5" x2="661.60" y2="194.9" stroke="#E01010" stroke-width="0.7" stroke-opacity="0.75"/>
<line x1="662.90" y1="182.1" x2="662.90" y2="190.2" stroke="#FF2A2A" stroke-width="1.1" stroke-opacity="0.96"/>
<line x1="664.20" y1="178.1" x2="664.20" y2="184.5" stroke="#E01010" stroke-width="1.1" stroke-opacity="0.97"/>
<line x1="665.50" y1="179.7" x2="665.50" y2="182.9" stroke="#167A2A" stroke-width="1.1" stroke-opacity="0.91"/>
<line x1="666.80" y1="179.9" x2="666.80" y2="186.0" stroke="#F21A1A" stroke-width="1.1" stroke-opacity="0.98"/>
<line x1="668.10" y1="181.2" x2="668.10" y2="186.5" stroke="#E01010" stroke-width="1.1" stroke-opacity="1.00"/>
<line x1="669.40" y1="181.4" x2="669.40" y2="185.3" stroke="#F21A1A" stroke-width="1.1" stroke-opacity="0.92"/>
<line x1="670.70" y1="181.3" x2="670.70" y2="185.2" stroke="#2A9A10" stroke-width="1.1" stroke-opacity="0.98"/>
<line x1="670.70" y1="177.7" x2="670.70" y2="187.7" stroke="#2A9A10" stroke-width="0.7" stroke-opacity="0.75"/>
<polyline points="2.5,66.0 3.8,65.3 5.1,63.5 6.4,61.9 7.7,60.7 9.0,60.2 10.3,61.4 11.6,64.6 12.9,68.4 14.2,71.2 15.5,72.2 16.8,73.9 18.1,76.5 19.4,79.3 20.7,83.1 22.0,86.9 23.3,89.1 24.6,90.9 25.9,90.8 27.2,88.2 28.5,86.0 29.8,83.5 31.1,79.5 32.4,76.0 33.7,74.3 35.0,73.5 36.3,72.9 37.6,72.8 38.9,73.3 40.2,74.3 41.5,75.8 42.8,77.7 44.1,80.1 45.4,82.0 46.7,83.1 48.0,83.5 49.3,83.5 50.6,83.0 51.9,83.1 53.2,84.3 54.5,86.7 55.8,89.7 57.1,93.7 58.4,98.2 59.7,102.8 61.0,105.2 62.3,103.8 63.6,98.4 64.9,91.3 66.2,83.8 67.5,78.1 68.8,75.5 70.1,71.6 71.4,64.3 72.7,57.7 74.0,59.1 75.3,64.9 76.6,77.9 77.9,96.8 79.2,115.7 80.5,126.9 81.8,133.8 83.1,138.3 84.4,141.6 85.7,144.1 87.0,146.4 88.3,148.8 89.6,151.6 90.9,155.5 92.2,160.7 93.5,166.9 94.8,173.5 96.1,179.9 97.4,185.2 98.7,189.2 100.0,192.5 101.3,195.3 102.6,197.9 103.9,200.5 105.2,202.8 106.5,203.8 107.8,203.5 109.1,201.9 110.4,199.3 111.7,196.4 113.0,194.0 114.3,191.8 115.6,189.6 116.9,186.5 118.2,182.4 119.5,177.9 120.8,173.6 122.1,169.2 123.4,164.9 124.7,160.3 126.0,159.0 127.3,159.0 128.6,159.5 129.9,160.6 131.2,162.4 132.5,162.7 133.8,163.4 135.1,164.5 136.4,166.5 137.7,169.3 139.0,170.8 140.3,171.1 141.6,170.9 142.9,170.4 144.2,169.5 145.5,168.2 146.8,166.5 148.1,165.5 149.4,165.4 150.7,166.9 152.0,169.6 153.3,172.6 154.6,174.7 155.9,175.6 157.2,174.9 158.5,173.1 159.8,170.9 161.1,168.3 162.4,164.6 163.7,159.8 165.0,154.0 166.3,148.3 167.6,144.8 168.9,143.9 170.2,145.6 171.5,149.7 172.8,155.3 174.1,160.2 175.4,165.7 176.7,173.7 178.0,183.1 179.3,192.5 180.6,201.0 181.9,207.5 183.2,210.4 184.5,210.7 185.8,210.0 187.1,209.7 188.4,209.6 189.7,209.5 191.0,209.4 192.3,209.0 193.6,208.3 194.9,207.4 196.2,206.5 197.5,205.4 198.8,204.3 200.1,203.3 201.4,202.4 202.7,201.6 204.0,200.8 205.3,200.0 206.6,198.7 207.9,196.8 209.2,195.0 210.5,193.7 211.8,193.1 213.1,194.4 214.4,198.0 215.7,203.3 217.0,209.2 218.3,215.8 219.6,221.6 220.9,226.4 222.2,230.0 223.5,232.2 224.8,233.0 226.1,233.5 227.4,234.3 228.7,233.3 230.0,231.2 231.3,228.9 232.6,226.9 233.9,225.3 235.2,226.0 236.5,228.6 237.8,232.0 239.1,234.8 240.4,236.5 241.7,237.6 243.0,238.5 244.3,239.4 245.6,240.5 246.9,242.3 248.2,244.7 249.5,248.0 250.8,252.2 252.1,257.0 253.4,261.2 254.7,264.3 256.0,266.4 257.3,267.8 258.6,268.1 259.9,268.2 261.2,267.9 262.5,266.8 263.8,264.1 265.1,260.4 266.4,256.2 267.7,252.5 269.0,250.4 270.3,250.4 271.6,252.6 272.9,256.5 274.2,261.7 275.5,266.6 276.8,270.9 278.1,274.7 279.4,278.2 280.7,283.1 282.0,288.7 283.3,294.0 284.6,298.1 285.9,300.3 287.2,299.2 288.5,296.8 289.8,294.5 291.1,293.3 292.4,293.3 293.7,294.3 295.0,295.3 296.3,296.1 297.6,296.4 298.9,296.1 300.2,295.2 301.5,294.2 302.8,293.0 304.1,291.7 305.4,290.8 306.7,290.3 308.0,290.2 309.3,290.5 310.6,291.1 311.9,291.6 313.2,291.6 314.5,291.2 315.8,290.2 317.1,288.3 318.4,286.0 319.7,283.8 321.0,281.5 322.3,279.4 323.6,277.8 324.9,276.6 326.2,275.8 327.5,275.5 328.8,275.5 330.1,276.0 331.4,275.7 332.7,274.3 334.0,272.8 335.3,271.5 336.6,271.9 337.9,275.6 339.2,283.2 340.5,291.9 341.8,301.2 343.1,309.0 344.4,314.7 345.7,318.4 347.0,322.1 348.3,326.3 349.6,330.9 350.9,335.4 352.2,339.0 353.5,341.4 354.8,342.7 356.1,343.4 357.4,343.8 358.7,344.5 360.0,345.7 361.3,347.1 362.6,348.7 363.9,350.8 365.2,353.6 366.5,357.1 367.8,358.6 369.1,358.3 370.4,356.1 371.7,351.7 373.0,345.3 374.3,339.3 375.6,333.8 376.9,330.1 378.2,327.6 379.5,326.0 380.8,325.2 382.1,324.7 383.4,323.4 384.7,321.6 386.0,319.8 387.3,318.2 388.6,316.9 389.9,316.0 391.2,315.5 392.5,315.3 393.8,315.3 395.1,315.5 396.4,315.6 397.7,315.4 399.0,313.9 400.3,310.8 401.6,305.2 402.9,297.7 404.2,288.7 405.5,279.7 406.8,271.1 408.1,265.1 409.4,261.6 410.7,260.8 412.0,262.4 413.3,266.0 414.6,269.8 415.9,272.7 417.2,273.8 418.5,272.6 419.8,269.3 421.1,264.3 422.4,260.5 423.7,258.8 425.0,257.7 426.3,257.3 427.6,258.9 428.9,260.6 430.2,262.3 431.5,266.1 432.8,271.7 434.1,277.9 435.4,284.5 436.7,290.6 438.0,295.8 439.3,300.1 440.6,303.4 441.9,305.7 443.2,307.4 444.5,309.0 445.8,310.4 447.1,311.6 448.4,312.5 449.7,313.2 451.0,313.7 452.3,314.1 453.6,314.7 454.9,315.4 456.2,316.6 457.5,320.0 458.8,324.8 460.1,330.5 461.4,336.8 462.7,343.4 464.0,347.8 465.3,350.5 466.6,351.5 467.9,350.8 469.2,348.5 470.5,345.3 471.8,341.6 473.1,337.5 474.4,333.1 475.7,330.0 477.0,329.5 478.3,331.6 479.6,337.3 480.9,346.7 482.2,357.4 483.5,367.4 484.8,376.3 486.1,383.4 487.4,386.5 488.7,384.7 490.0,379.4 491.3,370.9 492.6,358.7 493.9,346.2 495.2,335.3 496.5,325.9 497.8,318.3 499.1,312.7 500.4,308.5 501.7,305.3 503.0,302.8 504.3,300.9 505.6,300.2 506.9,300.8 508.2,302.4 509.5,304.9 510.8,308.1 512.1,311.3 513.4,314.0 514.7,316.3 516.0,318.0 517.3,319.3 518.6,320.4 519.9,321.3 521.2,322.1 522.5,322.7 523.8,323.7 525.1,325.0 526.4,326.4 527.7,327.8 529.0,328.9 530.3,328.9 531.6,326.8 532.9,321.0 534.2,312.3 535.5,306.1 536.8,303.0 538.1,304.6 539.4,311.4 540.7,322.2 542.0,331.5 543.3,337.8 544.6,339.9 545.9,338.4 547.2,334.7 548.5,330.3 549.8,326.5 551.1,324.1 552.4,323.5 553.7,323.8 555.0,324.0 556.3,323.3 557.6,321.3 558.9,317.6 560.2,312.4 561.5,306.0 562.8,298.8 564.1,291.6 565.4,284.7 566.7,278.4 568.0,272.7 569.3,267.6 570.6,263.5 571.9,260.4 573.2,258.5 574.5,257.3 575.8,255.5 577.1,251.4 578.4,245.2 579.7,239.1 581.0,234.4 582.3,232.1 583.6,233.3 584.9,237.7 586.2,243.2 587.5,249.1 588.8,254.8 590.1,259.7 591.4,263.1 592.7,264.6 594.0,264.0 595.3,262.2 596.6,260.0 597.9,258.4 599.2,257.4 600.5,257.1 601.8,257.3 603.1,257.7 604.4,257.7 605.7,256.0 607.0,251.3 608.3,246.4 609.6,242.0 610.9,238.5 612.2,236.3 613.5,236.9 614.8,237.7 616.1,238.4 617.4,238.8 618.7,239.5 620.0,240.8 621.3,241.8 622.6,242.0 623.9,241.3 625.2,239.6 626.5,233.4 627.8,223.1 629.1,212.2 630.4,201.4 631.7,191.8 633.0,186.9 634.3,186.4 635.6,187.1 636.9,188.1 638.2,188.3 639.5,187.4 640.8,185.8 642.1,183.9 643.4,181.7 644.7,179.5 646.0,177.9 647.3,176.9 648.6,176.0 649.9,175.8 651.2,177.3 652.5,179.7 653.8,182.5 655.1,185.7 656.4,188.6 657.7,190.2 659.0,190.7 660.3,190.5 661.6,189.9 662.9,188.6 664.2,186.6 665.5,185.1 666.8,184.0 668.1,183.2 669.4,182.9 670.7,183.5" fill="none" stroke="#28F028" stroke-width="0.9" stroke-linejoin="round" stroke-linecap="round" stroke-opacity="0.9"/>
<polyline points="2.5,76.7 3.5,74.6 4.5,71.9 5.5,68.7 6.5,66.3 7.5,64.7 8.5,64.0 9.5,64.4 10.5,65.5 11.5,66.7 12.5,67.8 13.5,68.8 14.5,69.8 15.5,70.9 16.5,72.1 17.5,73.6 18.5,75.6 19.5,78.2 20.5,80.7 21.5,83.0 22.5,85.0 23.5,86.3 24.5,86.6 25.5,86.3 26.5,85.8 27.5,85.1 28.5,84.2 29.5,83.1 30.5,82.0 31.5,80.8 32.5,79.3 33.5,77.6 34.5,76.2 35.5,75.1 36.5,74.3 37.5,74.3 38.5,74.5 39.5,74.8 40.5,75.3 41.5,75.9 42.5,76.7 43.5,77.9 44.5,79.3 45.5,80.6 46.5,81.6 47.5,82.3 48.5,82.8 49.5,82.8 50.5,82.8 51.5,83.0 52.5,83.7 53.5,84.9 54.5,86.7 55.5,89.2 56.5,92.1 57.5,95.1 58.5,97.8 59.5,99.1 60.5,99.4 61.5,99.1 62.5,96.7 63.5,92.3 64.5,87.8 65.5,83.8 66.5,80.0 67.5,77.1 68.5,75.4 69.5,73.2 70.5,70.0 71.5,67.0 72.5,65.2 73.5,66.0 74.5,69.8 75.5,76.2 76.5,83.6 77.5,91.3 78.5,99.2 79.5,107.4 80.5,115.4 81.5,123.3 82.5,130.2 83.5,134.8 84.5,138.1 85.5,140.3 86.5,141.6 87.5,143.4 88.5,145.9 89.5,148.3 90.5,150.5 91.5,153.2 92.5,156.7 93.5,161.0 94.5,166.0 95.5,171.8 96.5,177.7 97.5,183.1 98.5,187.7 99.5,191.7 100.5,195.1 101.5,197.9 102.5,200.1 103.5,201.9 104.5,203.4 105.5,204.6 106.5,205.7 107.5,206.0 108.5,205.7 109.5,204.4 110.5,202.5 111.5,200.5 112.5,199.1 113.5,197.2 114.5,195.0 115.5,192.7 116.5,189.9 117.5,186.6 118.5,183.3 119.5,180.1 120.5,177.0 121.5,173.6 122.5,170.3 123.5,167.3 124.5,164.8 125.5,162.6 126.5,160.7 127.5,159.2 128.5,158.5 129.5,158.7 130.5,159.3 131.5,160.7 132.5,162.5 133.5,163.8 134.5,164.8 135.5,165.8 136.5,166.5 137.5,167.0 138.5,167.8 139.5,168.7 140.5,169.4 141.5,169.8 142.5,170.0 143.5,169.9 144.5,169.5 145.5,169.0 146.5,168.6 147.5,168.2 148.5,168.3 149.5,168.8 150.5,170.0 151.5,171.9 152.5,173.4 153.5,174.6 154.5,175.5 155.5,175.4 156.5,174.3 157.5,172.7 158.5,170.6 159.5,168.2 160.5,165.8 161.5,163.3 162.5,161.3 163.5,159.3 164.5,157.5 165.5,155.9 166.5,154.7 167.5,153.5 168.5,153.2 169.5,153.9 170.5,155.5 171.5,157.7 172.5,160.6 173.5,164.7 174.5,168.8 175.5,172.8 176.5,177.7 177.5,183.4 178.5,188.0 179.5,192.0 180.5,196.0 181.5,199.4 182.5,201.9 183.5,204.4 184.5,206.6 185.5,208.0 186.5,208.3 187.5,208.3 188.5,207.7 189.5,207.6 190.5,207.6 191.5,207.7 192.5,207.9 193.5,207.9 194.5,207.7 195.5,207.4 196.5,206.7 197.5,205.5 198.5,204.2 199.5,203.0 200.5,201.8 201.5,201.0 202.5,200.7 203.5,200.1 204.5,199.2 205.5,197.9 206.5,196.1 207.5,194.0 208.5,192.3 209.5,190.8 210.5,189.9 211.5,189.8 212.5,190.6 213.5,192.3 214.5,195.5 215.5,199.8 216.5,204.7 217.5,209.7 218.5,214.5 219.5,218.8 220.5,222.4 221.5,225.4 222.5,228.3 223.5,230.7 224.5,232.5 225.5,233.8 226.5,234.9 227.5,235.2 228.5,234.8 229.5,233.8 230.5,231.8 231.5,229.6 232.5,227.7 233.5,226.2 234.5,225.3 235.5,225.4 236.5,226.3 237.5,227.9 238.5,229.9 239.5,232.2 240.5,234.4 241.5,236.1 242.5,237.4 243.5,238.6 244.5,239.8 245.5,241.2 246.5,242.9 247.5,245.1 248.5,247.3 249.5,249.5 250.5,252.3 251.5,254.9 252.5,257.5 253.5,259.8 254.5,261.9 255.5,263.0 256.5,263.9 257.5,264.6 258.5,265.1 259.5,265.6 260.5,266.0 261.5,265.6 262.5,264.6 263.5,263.1 264.5,261.1 265.5,258.6 266.5,256.2 267.5,254.1 268.5,252.2 269.5,251.4 270.5,252.2 271.5,254.1 272.5,256.8 273.5,260.6 274.5,264.4 275.5,267.9 276.5,270.9 277.5,273.6 278.5,276.3 279.5,279.3 280.5,282.4 281.5,285.5 282.5,289.2 283.5,292.2 284.5,294.1 285.5,295.5 286.5,296.2 287.5,295.9 288.5,295.2 289.5,294.6 290.5,294.0 291.5,293.8 292.5,293.9 293.5,294.1 294.5,294.4 295.5,294.7 296.5,294.8 297.5,294.7 298.5,294.4 299.5,293.9 300.5,293.3 301.5,292.5 302.5,291.6 303.5,290.8 304.5,290.2 305.5,289.8 306.5,289.6 307.5,289.5 308.5,289.5 309.5,289.6 310.5,289.5 311.5,289.4 312.5,289.3 313.5,289.1 314.5,288.6 315.5,288.0 316.5,287.9 317.5,287.3 318.5,286.5 319.5,286.0 320.5,285.5 321.5,284.5 322.5,283.7 323.5,282.8 324.5,281.8 325.5,281.3 326.5,281.5 327.5,282.3 328.5,283.4 329.5,284.6 330.5,285.1 331.5,284.8 332.5,284.1 333.5,283.1 334.5,281.8 335.5,281.5 336.5,282.1 337.5,283.9 338.5,287.7 339.5,292.8 340.5,298.0 341.5,304.0 342.5,309.6 343.5,313.7 344.5,317.2 345.5,321.0 346.5,323.8 347.5,327.0 348.5,331.3 349.5,335.4 350.5,338.6 351.5,341.2 352.5,342.6 353.5,342.8 354.5,342.8 355.5,342.8 356.5,342.9 357.5,343.1 358.5,343.6 359.5,344.3 360.5,345.3 361.5,347.0 362.5,349.2 363.5,351.4 364.5,353.4 365.5,355.2 366.5,356.3 367.5,356.0 368.5,354.9 369.5,352.9 370.5,349.9 371.5,346.3 372.5,342.4 373.5,338.4 374.5,334.7 375.5,331.3 376.5,328.4 377.5,326.5 378.5,325.6 379.5,325.4 380.5,325.7 381.5,326.3 382.5,326.2 383.5,325.3 384.5,324.0 385.5,322.7 386.5,321.2 387.5,320.3 388.5,319.7 389.5,319.3 390.5,318.7 391.5,318.2 392.5,317.6 393.5,317.0 394.5,316.6 395.5,316.1 396.5,315.8 397.5,315.5 398.5,314.4 399.5,313.1 400.5,311.3 401.5,308.9 402.5,304.6 403.5,299.3 404.5,292.7 405.5,285.8 406.5,278.8 407.5,273.5 408.5,270.0 409.5,268.0 410.5,267.0 411.5,266.8 412.5,267.4 413.5,268.4 414.5,269.7 415.5,271.3 416.5,272.4 417.5,272.7 418.5,272.2 419.5,271.2 420.5,269.6 421.5,268.4 422.5,267.7 423.5,267.4 424.5,267.2 425.5,267.3 426.5,267.2 427.5,267.1 428.5,267.1 429.5,267.3 430.5,268.1 431.5,269.6 432.5,272.8 433.5,278.0 434.5,285.2 435.5,292.1 436.5,297.9 437.5,302.1 438.5,304.0 439.5,303.6 440.5,303.1 441.5,302.5 442.5,302.1 443.5,302.4 444.5,303.4 445.5,305.1 446.5,307.0 447.5,308.8 448.5,310.2 449.5,311.2 450.5,311.6 451.5,311.9 452.5,312.2 453.5,312.3 454.5,312.6 455.5,313.8 456.5,316.3 457.5,319.4 458.5,323.6 459.5,328.6 460.5,333.4 461.5,337.1 462.5,339.9 463.5,342.3 464.5,344.3 465.5,345.8 466.5,347.3 467.5,348.6 468.5,348.6 469.5,347.3 470.5,345.0 471.5,341.9 472.5,338.4 473.5,335.2 474.5,332.5 475.5,330.8 476.5,330.6 477.5,332.0 478.5,334.9 479.5,339.2 480.5,344.0 481.5,349.3 482.5,354.8 483.5,360.3 484.5,365.9 485.5,371.8 486.5,377.5 487.5,381.6 488.5,382.2 489.5,378.8 490.5,372.0 491.5,362.7 492.5,352.6 493.5,344.2 494.5,338.3 495.5,333.5 496.5,329.4 497.5,325.6 498.5,321.9 499.5,318.0 500.5,314.9 501.5,312.8 502.5,311.6 503.5,310.8 504.5,310.5 505.5,310.5 506.5,310.5 507.5,310.2 508.5,310.1 509.5,310.2 510.5,310.8 511.5,311.6 512.5,313.1 513.5,314.8 514.5,316.8 515.5,318.5 516.5,320.2 517.5,321.3 518.5,322.0 519.5,322.2 520.5,322.3 521.5,322.0 522.5,322.1 523.5,322.6 524.5,323.7 525.5,324.7 526.5,326.2 527.5,327.3 528.5,327.0 529.5,325.4 530.5,322.3 531.5,318.3 532.5,313.9 533.5,311.1 534.5,309.4 535.5,309.1 536.5,309.2 537.5,310.3 538.5,312.7 539.5,316.7 540.5,321.8 541.5,327.8 542.5,333.0 543.5,335.6 544.5,335.6 545.5,333.2 546.5,329.3 547.5,324.8 548.5,321.4 549.5,319.4 550.5,318.9 551.5,319.6 552.5,320.8 553.5,321.7 554.5,322.0 555.5,321.7 556.5,320.6 557.5,318.5 558.5,316.1 559.5,313.6 560.5,311.0 561.5,308.4 562.5,306.1 563.5,303.2 564.5,299.6 565.5,294.6 566.5,288.1 567.5,280.1 568.5,272.1 569.5,265.0 570.5,259.9 571.5,256.8 572.5,255.1 573.5,252.9 574.5,250.1 575.5,246.5 576.5,242.9 577.5,240.4 578.5,240.0 579.5,240.5 580.5,240.9 581.5,240.6 582.5,240.6 583.5,240.7 584.5,241.4 585.5,244.4 586.5,249.2 587.5,254.5 588.5,259.7 589.5,264.3 590.5,267.3 591.5,268.9 592.5,268.7 593.5,267.1 594.5,264.9 595.5,262.4 596.5,259.9 597.5,258.2 598.5,257.2 599.5,256.7 600.5,256.7 601.5,256.6 602.5,255.8 603.5,253.8 604.5,250.2 605.5,245.9 606.5,241.5 607.5,237.4 608.5,234.8 609.5,234.2 610.5,234.6 611.5,235.8 612.5,237.4 613.5,238.7 614.5,239.2 615.5,239.2 616.5,238.8 617.5,238.2 618.5,238.2 619.5,238.6 620.5,239.4 621.5,240.3 622.5,240.9 623.5,241.4 624.5,240.4 625.5,237.8 626.5,233.0 627.5,226.8 628.5,218.8 629.5,209.8 630.5,202.0 631.5,195.9 632.5,191.5 633.5,188.8 634.5,188.3 635.5,188.7 636.5,189.5 637.5,189.7 638.5,189.6 639.5,188.8 640.5,187.0 641.5,184.5 642.5,181.8 643.5,179.2 644.5,177.1 645.5,175.6 646.5,174.6 647.5,174.4 648.5,174.9 649.5,175.6 650.5,176.5 651.5,177.7 652.5,179.1 653.5,180.8 654.5,182.9 655.5,185.2 656.5,187.4 657.5,189.3 658.5,190.6 659.5,191.2 660.5,191.0 661.5,190.6 662.5,189.6 663.5,188.5 664.5,187.3 665.5,186.1 666.5,185.1 667.5,184.5 668.5,184.1 669.5,183.8 670.5,183.8" fill="none" stroke="#2A2AF2" stroke-width="0.8" stroke-linejoin="round" stroke-linecap="round" stroke-opacity="0.8"/>
<polyline points="2.5,60.0 4.8,50.0 7.3,41.3 10.0,46.0 12.6,53.0 14.7,49.0 17.5,53.0 20.0,44.0 22.4,60.0 25.9,60.0 29.4,56.0 32.9,67.0 35.7,63.6 39.5,68.0 43.4,61.5 46.7,70.7 50.2,74.0 53.8,64.8 57.4,76.0 60.5,83.0 62.0,70.0 64.0,46.0 65.4,39.0 67.0,51.9 68.4,61.9 70.0,57.9 71.0,40.0 72.0,18.0 73.6,6.0 75.0,-4.0 77.0,-4.0 78.0,20.0 79.0,40.0 80.0,66.0 81.0,86.0 82.0,105.0 83.5,127.0 85.5,126.0 87.0,130.0 89.0,138.0 91.0,140.0 93.0,131.0 94.3,138.0 96.0,154.0 98.0,170.0 100.0,182.0 103.0,190.0 106.0,188.5 108.5,192.0 111.0,184.0 114.5,184.0 117.0,172.0 119.3,160.0 121.7,145.5 124.0,136.0 126.4,132.0 129.5,133.5 131.2,143.0 133.6,150.0 136.0,148.0 138.4,157.0 142.0,164.6 145.6,160.0 149.2,151.4 151.6,146.7 154.0,155.0 156.3,164.6 158.7,161.0 161.0,145.5 163.5,126.0 165.4,119.0 167.8,126.0 170.2,126.5 172.6,136.0 174.5,144.0 175.8,148.3 177.0,135.0 178.2,122.0 179.8,129.0 181.3,150.7 183.0,179.4 185.3,198.5 187.7,197.3 190.1,196.0 192.5,198.5 195.0,202.0 197.3,198.5 199.7,190.0 202.0,191.3 204.5,193.7 206.9,184.0 209.3,174.6 211.7,177.0 214.0,169.8 215.2,166.2 217.2,179.4 218.8,193.7 221.2,207.0 225.0,218.0 228.6,214.0 231.0,202.0 232.7,198.4 234.6,206.7 237.0,204.4 239.4,218.7 241.8,228.3 245.4,234.3 248.9,228.3 251.3,223.5 253.3,237.8 254.9,252.2 257.3,254.6 259.7,252.2 262.1,252.0 264.8,241.0 267.2,232.7 270.8,234.0 273.9,226.7 275.5,236.3 278.0,255.5 280.3,245.9 282.0,241.0 283.4,250.7 285.0,272.2 287.5,281.8 291.0,280.6 294.7,286.6 298.3,289.0 301.9,283.0 304.3,278.2 307.8,281.8 311.4,283.0 315.0,279.4 317.4,267.4 319.8,265.0 322.2,269.8 325.8,267.4 329.4,268.6 331.8,255.5 334.2,241.0 336.6,236.3 339.0,225.6 340.9,241.0 342.5,267.4 343.5,294.0 344.6,308.5 346.5,301.3 348.9,300.0 350.1,315.7 351.8,332.4 354.9,333.6 358.5,330.0 362.0,332.4 364.5,337.2 366.1,330.0 368.0,334.8 370.5,327.6 372.8,318.0 375.2,306.0 377.6,303.7 381.2,307.3 384.8,303.7 387.2,308.5 390.8,307.3 393.2,310.9 396.8,313.3 399.2,310.9 400.6,297.0 402.2,274.8 404.6,255.7 407.0,238.9 408.9,234.0 410.5,243.7 412.9,248.5 415.3,253.3 417.7,258.0 420.0,250.9 422.5,238.9 424.9,235.3 427.3,228.2 429.7,234.0 432.0,240.0 433.8,238.9 435.2,250.9 436.9,270.0 439.3,282.0 441.7,280.8 444.0,279.6 445.7,290.0 447.7,299.6 451.3,305.5 454.9,306.7 457.3,300.8 459.0,297.2 460.9,304.4 462.0,316.3 464.5,325.9 466.9,333.0 469.3,328.3 471.7,321.0 474.0,312.7 476.4,307.9 478.8,306.7 481.2,304.4 483.1,306.7 484.3,318.7 486.0,337.8 487.7,357.0 489.1,369.0 490.8,337.8 492.0,313.9 494.4,297.2 497.4,287.8 499.8,291.4 502.2,283.0 504.6,290.2 507.0,285.5 509.8,281.9 511.7,290.2 514.1,302.2 516.5,310.6 518.9,314.2 522.5,311.8 524.9,307.0 527.3,303.4 529.7,309.4 531.4,292.6 532.8,268.7 534.5,256.7 536.1,259.0 537.6,249.6 538.8,243.6 540.0,254.4 540.9,275.9 542.4,295.0 544.0,309.4 545.7,304.6 547.6,296.2 549.3,293.8 550.7,302.2 552.4,311.8 554.8,313.0 556.7,307.0 558.4,299.8 560.0,287.8 562.0,278.3 564.6,271.0 567.0,263.3 568.9,249.0 570.6,244.2 573.0,249.0 574.6,241.8 576.0,225.0 577.7,203.5 578.9,194.0 580.1,198.7 581.3,208.3 583.2,209.5 584.9,217.8 586.6,208.3 588.0,222.6 589.7,239.4 591.4,249.0 593.3,251.3 595.7,246.6 598.0,243.0 600.5,246.6 602.8,249.0 604.8,237.0 606.4,213.0 608.1,205.9 610.0,208.3 611.9,217.8 614.3,227.4 617.2,221.4 620.0,225.0 623.2,227.4 625.6,220.2 626.8,198.7 628.0,167.8 629.1,148.7 630.3,144.0 631.5,148.7 632.7,167.8 634.4,175.0 636.3,170.2 638.2,173.8 640.0,167.8 642.3,163.0 644.7,157.0 645.5,156.5 646.8,160.5 648.3,164.5 650.0,162.0 651.5,156.5 653.1,154.5 654.4,157.5 655.5,167.0 656.3,176.5 657.4,186.0 659.5,190.0 661.9,187.5 663.5,182.0 665.0,177.0 667.5,173.3 670.0,173.3 671.2,174.0" fill="none" stroke="#2A2AF2" stroke-width="0.95" stroke-linejoin="round" stroke-linecap="round" stroke-opacity="0.9"/>
<polyline points="2.4,98.2 6.0,87.4 9.6,81.4 13.2,86.2 16.7,92.2 19.1,104.2 21.0,116.1 23.9,112.5 26.8,113.7 29.9,108.9 32.3,94.6 34.7,85.0 38.3,81.4 40.7,83.8 43.1,92.2 46.7,95.8 49.0,91.0 52.0,96.0 56.0,110.0 60.0,122.0 62.0,124.0 63.6,141.9 65.0,130.0 66.4,106.0 68.0,94.0 69.5,90.0 71.6,102.0 73.0,110.0 74.4,130.0 75.5,155.9 77.0,181.8 78.3,169.8 79.5,155.9 82.0,154.9 83.5,149.9 85.5,151.9 87.0,155.9 89.0,153.9 91.0,165.8 93.0,179.8 94.3,189.8 95.3,195.7 99.0,205.0 102.5,212.4 105.0,219.6 108.0,224.0 111.0,219.6 112.0,210.0 114.5,212.4 117.0,200.5 119.3,205.0 121.7,198.0 124.0,195.7 126.4,188.5 128.8,181.3 132.4,176.6 134.8,183.7 138.4,179.0 142.0,176.6 146.8,179.0 149.2,183.7 151.6,195.7 153.5,200.5 155.1,190.9 157.5,183.7 160.0,179.0 162.3,188.5 164.7,194.5 167.4,181.8 169.8,177.0 172.2,186.6 174.6,189.0 175.8,205.7 177.2,225.9 178.3,250.0 179.1,264.2 180.8,254.6 182.0,233.0 184.4,223.5 188.0,217.5 191.5,218.7 195.1,213.9 198.7,215.0 202.3,209.0 205.9,206.7 209.5,205.5 211.9,199.6 213.5,211.5 215.5,228.3 217.8,241.4 220.2,240.2 222.6,247.4 226.2,252.2 228.6,259.4 231.0,260.6 232.7,252.2 234.6,243.8 237.0,245.0 239.4,247.4 243.0,245.0 245.4,247.4 247.8,259.4 250.1,278.5 252.5,284.5 254.9,276.0 257.3,272.5 259.7,280.9 263.6,280.6 266.0,279.4 268.4,269.8 270.8,265.0 272.0,277.0 273.2,293.7 275.5,300.9 278.0,296.1 279.6,305.7 281.0,327.2 282.3,336.0 283.9,329.6 286.3,315.3 288.7,308.0 292.3,304.5 295.9,302.0 299.5,300.9 303.0,302.0 306.6,298.5 310.2,296.0 313.8,297.3 316.2,300.9 318.6,310.5 321.0,300.9 324.6,296.1 326.2,289.4 329.8,306.0 332.2,315.7 334.6,325.2 336.5,320.5 338.2,342.0 340.6,362.3 342.2,354.0 344.1,330.0 346.0,337.2 347.7,356.3 350.1,366.0 351.8,354.0 354.9,351.6 358.5,356.3 360.9,358.7 363.3,366.0 365.2,377.9 366.9,382.7 369.3,377.9 371.7,368.3 374.0,361.0 376.4,351.6 378.8,342.0 381.2,346.8 383.6,349.2 386.0,334.8 388.4,331.2 390.8,330.0 394.4,320.5 398.0,318.0 400.4,322.8 402.0,339.6 403.5,342.0 405.1,322.8 406.3,310.9 408.2,303.5 410.6,289.2 412.9,284.4 415.3,289.2 417.7,291.6 420.1,289.2 422.5,294.0 424.9,301.0 427.3,304.7 429.7,301.0 432.0,296.3 433.4,309.0 435.0,328.3 436.5,342.6 438.2,330.7 439.8,325.9 442.9,322.3 446.5,321.0 450.1,319.9 453.7,317.5 456.1,321.0 457.3,333.0 458.5,349.8 460.4,364.2 462.0,367.8 464.5,359.4 466.9,366.6 469.3,371.3 471.7,361.8 474.0,352.2 476.4,348.6 478.1,354.6 479.5,371.3 481.2,392.9 482.9,404.8 484.3,412.0 490.0,412.0 491.5,397.7 493.2,380.9 494.9,373.7 496.8,371.3 498.0,357.0 499.6,342.6 501.6,337.8 504.6,332.0 507.0,334.5 508.9,338.0 511.3,333.3 513.7,329.7 516.5,330.9 518.9,332.0 521.3,330.9 523.7,333.3 524.9,340.5 526.6,350.0 528.5,351.2 530.4,345.3 532.0,347.7 533.8,354.8 535.7,361.0 538.0,372.0 541.0,378.0 544.0,372.0 546.4,360.0 548.1,345.3 550.0,335.7 552.4,330.9 554.8,333.3 557.2,335.7 559.6,333.3 562.0,338.0 564.4,330.9 566.3,319.0 568.2,295.0 569.8,270.0 571.7,263.3 573.7,265.7 575.3,258.5 577.0,265.7 578.9,282.4 580.8,284.8 582.5,270.5 583.7,260.9 585.1,265.7 586.1,282.4 587.3,292.0 590.0,296.0 593.3,287.2 595.7,275.3 598.0,269.3 601.7,265.7 605.2,266.9 607.6,263.3 610.0,256.0 613.6,255.0 617.2,253.7 619.6,251.3 622.0,256.0 624.4,258.5 626.3,265.7 628.0,280.0 629.6,272.9 631.0,249.0 632.0,217.8 633.9,201.3 635.8,203.7 638.2,212.0 640.0,208.5 642.7,201.2 645.9,190.0 648.3,184.5 650.0,189.0 651.5,198.8 653.1,205.2 654.7,206.0 656.3,198.8 657.9,194.0 661.1,193.7 664.3,195.6 667.5,194.8 669.9,194.0 671.2,194.0" fill="none" stroke="#2A2AF2" stroke-width="0.95" stroke-linejoin="round" stroke-linecap="round" stroke-opacity="0.9"/>
</g></g>
<polygon points="458.8,314.4 650.1,138.4 650.7,139.1 652.7,133.6 647.1,135.2 647.7,135.9 458.2,313.6" fill="#FBB515"/>
<polygon points="491.2,395.6 698.9,181.7 699.5,182.3 701.2,176.7 695.6,178.6 696.3,179.2 490.4,395.0" fill="#FBB515"/>
<rect x="2" y="2" width="838" height="1" fill="#6868E0"/>
<rect x="2" y="2" width="1" height="487" fill="#6868E0"/>
<rect x="839" y="2" width="1" height="487" fill="#6868E0"/>
<rect x="2" y="410" width="838" height="2" fill="#6060DC"/>
<rect x="2" y="488" width="838" height="1" fill="#6868E0"/>
<line x1="3" y1="427.7" x2="839" y2="427.7" stroke="#B8B8B8" stroke-width="0.8" stroke-dasharray="1.5,1.8"/>
<line x1="3" y1="473.2" x2="839" y2="473.2" stroke="#B8B8B8" stroke-width="0.8" stroke-dasharray="1.5,1.8"/>
<g clip-path="url(#c2)"><g>
<polyline points="2.9,459.1 5.5,429.6 7.9,474.8 10.2,435.5 12.8,472.9 15.3,419.8 17.3,447.3 19.7,474.8 22.0,423.7 24.6,480.7 27.5,418.8 29.5,427.7 31.4,453.2 33.8,422.7 36.4,459.1 38.9,427.7 42.3,483.7 46.2,437.5 48.7,419.8 51.5,468.9 53.5,483.7 56.0,455.2 58.0,467.0 59.9,451.2 62.5,416.8 64.9,417.8 67.8,476.8 71.1,418.8 74.3,483.7 77.0,455.2 79.0,476.8 81.6,444.4 84.9,470.9 87.5,453.2 89.4,455.2 92.0,483.7 95.3,463.0 97.3,474.8 100.2,439.4 102.2,467.0 104.6,474.8 107.7,431.6 109.7,433.6 112.4,475.8 116.4,421.8 118.3,463.0 121.5,428.6 124.2,455.2 126.8,467.0 129.7,424.7 132.1,447.3 133.6,468.9 136.6,465.0 139.5,443.4 141.5,467.0 143.1,422.7 145.0,441.4 146.4,433.6 148.4,461.1 151.3,481.7 154.9,419.8 157.2,459.1 160.2,443.4 164.1,422.7 167.4,474.8 170.5,455.2 173.3,470.9 175.2,435.5 177.8,481.7 180.3,432.6 183.7,472.9 187.6,437.5 189.6,466.0 192.5,455.2 194.9,418.8 198.4,422.7 200.4,437.5 202.3,474.8 204.3,437.5 207.3,420.8 209.8,443.4 212.2,463.0 215.1,481.7 218.1,474.8 221.0,467.0 222.4,476.8 224.0,453.2 225.9,439.4 227.9,465.0 230.3,426.7 232.8,441.4 234.8,479.7 237.7,435.5 239.7,463.0 242.6,426.7 245.6,445.3 247.5,463.0 250.5,481.7 253.1,451.2 255.4,420.8 257.4,447.3 259.7,474.8 261.7,421.8 263.3,433.6 265.2,418.8 267.2,433.6 269.2,453.2 271.1,457.1 273.1,480.7 275.5,441.4 277.0,461.1 279.0,438.5 281.0,474.8 283.9,427.7 285.9,449.3 288.4,429.6 290.4,451.2 292.8,469.9 295.1,433.6 297.1,445.3 300.6,417.8 302.6,427.7 304.5,457.1 306.5,472.9 310.4,437.5 313.4,447.3 315.9,467.0 317.9,417.8 320.7,472.9 322.6,426.7 324.6,455.2 326.2,479.7 328.1,461.1 329.7,475.8 330.0,467.0 333.5,418.8 335.9,447.3 338.3,482.7 341.8,435.5 343.8,478.8 345.7,435.5 348.1,468.9 351.2,447.3 353.6,453.2 356.5,442.4 359.1,465.0 361.4,431.6 363.4,459.1 365.4,483.7 367.7,416.8 369.3,447.3 371.7,421.8 375.2,419.8 377.2,443.4 378.7,476.8 380.7,461.1 383.1,415.9 385.0,427.7 387.0,463.0 389.0,419.8 391.3,453.2 392.9,441.4 394.9,461.1 397.8,424.7 399.8,465.0 401.7,420.8 404.3,445.3 408.2,414.9 410.6,463.0 413.5,480.7 416.1,457.1 418.1,429.6 419.4,457.1 421.4,438.5 423.9,474.8 426.3,421.8 428.3,447.3 430.2,475.8 431.8,457.1 434.2,481.7 437.1,435.5 440.1,427.7 443.0,483.7 445.6,433.6 447.9,470.9 450.9,455.2 453.4,435.5 455.8,470.9 457.4,449.3 459.7,483.7 463.3,449.3 465.6,475.8 468.0,424.7 469.9,431.6 471.5,424.7 474.5,431.6 477.0,481.7 479.4,442.4 481.3,472.9 483.3,467.0 485.7,441.4 487.2,467.0 489.2,420.8 491.2,437.5 494.1,418.8 495.0,419.8 496.1,419.8 497.4,474.8 498.0,455.2 499.9,417.8 502.9,443.4 505.2,418.8 507.2,467.0 508.8,483.7 511.1,459.1 513.1,445.3 514.3,457.1 516.2,435.5 518.2,445.3 520.6,433.6 522.5,437.5 525.5,471.9 528.4,449.3 531.4,418.8 534.3,429.6 536.7,479.7 539.2,453.2 541.8,447.3 543.7,477.8 546.7,417.8 549.0,447.3 551.0,474.8 553.6,441.4 554.9,455.2 557.9,417.8 560.8,418.8 563.8,426.7 565.8,418.8 568.7,423.7 570.7,421.8 573.2,451.2 576.6,418.8 579.1,425.7 581.1,470.9 583.4,472.9 586.4,477.8 588.9,435.5 590.9,451.2 593.3,443.4 595.6,425.7 597.6,447.3 599.6,477.8 602.7,422.7 605.1,467.0 607.4,416.8 610.0,476.8 611.9,443.4 613.9,470.9 616.5,424.7 618.8,465.0 621.8,467.0 624.3,420.8 626.3,429.6 628.3,420.8 630.6,435.5 632.6,465.0 634.2,475.8 637.5,421.8 640.4,459.1 643.4,427.7 646.3,453.2 648.7,427.7 652.2,483.7 654.6,463.0 656.6,439.4 658.5,451.2 661.1,424.7 663.5,450.0 666.4,467.0 668.5,448.0 670.6,427.0" fill="none" stroke="#22B2AA" stroke-width="0.85" stroke-linejoin="round" stroke-linecap="round" stroke-opacity="0.95"/>
<polyline points="2.9,458.8 3.1,458.2 3.4,456.9 3.6,455.1 3.9,452.7 4.2,449.9 4.4,447.0 4.7,444.2 4.9,441.3 5.2,438.5 5.4,435.6 5.7,434.3 5.9,434.5 6.2,436.1 6.4,439.3 6.7,444.0 6.9,448.7 7.2,453.5 7.4,458.2 7.7,462.9 7.9,466.6 8.2,468.6 8.4,468.8 8.7,467.3 8.9,464.0 9.2,459.9 9.4,455.8 9.7,451.7 9.9,447.6 10.2,443.6 10.4,441.3 10.7,440.4 10.9,441.1 11.2,443.4 11.4,447.0 11.7,450.6 11.9,454.2 12.2,457.8 12.4,461.4 12.7,465.0 12.9,467.0 13.2,467.3 13.4,465.8 13.7,462.6 13.9,457.7 14.2,452.6 14.4,447.5 14.7,442.3 14.9,437.2 15.2,432.1 15.4,428.2 15.7,425.9 15.9,425.4 16.1,426.6 16.4,429.5 16.6,432.9 16.9,436.4 17.1,439.8 17.4,443.2 17.6,446.4 17.9,449.5 18.1,452.5 18.4,455.4 18.6,458.3 18.9,461.2 19.1,464.1 19.4,466.9 19.6,469.2 19.9,469.8 20.1,468.7 20.4,466.1 20.6,461.7 20.9,456.4 21.1,451.1 21.4,445.7 21.6,440.4 21.9,435.1 22.1,431.8 22.4,430.7 22.6,431.7 22.9,434.9 23.1,440.3 23.4,445.8 23.6,451.3 23.9,456.8 24.1,462.3 24.4,467.8 24.6,471.7 24.9,473.5 25.1,473.2 25.4,470.7 25.6,466.1 25.9,461.0 26.1,455.8 26.4,450.6 26.6,445.5 26.9,440.3 27.1,435.1 27.4,429.9 27.6,426.0 27.9,423.2 28.1,421.7 28.4,421.5 28.6,422.5 28.9,423.6 29.1,424.7 29.4,425.9 29.6,427.4 29.9,429.4 30.1,431.8 30.4,434.6 30.6,437.8 30.9,441.0 31.1,444.2 31.4,447.2 31.6,448.8 31.9,449.2 32.1,448.3 32.4,446.1 32.6,442.9 32.9,439.8 33.1,436.6 33.4,433.4 33.6,430.2 33.9,428.1 34.1,427.3 34.4,427.8 34.6,429.7 34.9,432.9 35.1,436.4 35.4,439.9 35.6,443.4 35.9,446.9 36.1,450.4 36.4,453.2 36.6,454.7 36.9,454.8 37.1,453.7 37.4,451.2 37.6,448.2 37.9,445.1 38.1,442.1 38.4,439.1 38.6,436.1 38.9,433.5 39.1,432.4 39.4,432.7 39.6,434.5 39.9,437.6 40.1,441.8 40.4,445.9 40.6,450.0 40.9,454.2 41.1,458.3 41.4,462.4 41.6,466.5 41.9,470.7 42.1,474.8 42.4,477.6 42.6,478.9 42.9,478.9 43.1,477.4 43.4,474.6 43.6,471.7 43.9,468.8 44.1,465.9 44.4,463.0 44.6,460.1 44.9,457.2 45.1,454.3 45.4,451.4 45.6,448.5 45.9,445.6 46.1,442.8 46.4,440.2 46.6,437.8 46.9,435.7 47.1,433.8 47.4,432.1 47.6,430.4 47.9,428.7 48.1,427.0 48.4,425.3 48.6,423.6 48.9,423.2 49.1,424.0 49.4,426.0 49.6,429.2 49.9,433.6 50.1,438.0 50.4,442.4 50.6,446.8 50.9,451.2 51.1,455.6 51.4,459.9 51.6,463.8 51.9,467.2 52.1,470.0 52.4,472.4 52.6,474.2 52.9,476.1 53.1,477.9 53.4,479.6 53.6,480.4 53.9,480.3 54.1,479.2 54.4,477.2 54.6,474.5 54.9,471.7 55.1,469.0 55.4,466.2 55.6,463.5 55.9,460.7 56.1,458.8 56.4,457.7 56.6,457.4 56.9,458.0 57.1,459.4 57.4,460.9 57.6,462.4 57.9,463.8 58.1,464.5 58.4,464.6 58.6,463.9 58.9,462.6 59.1,460.6 59.4,458.7 59.6,456.7 59.9,454.7 60.1,452.4 60.4,449.8 60.6,447.0 60.9,443.9 61.1,440.5 61.4,437.2 61.6,433.9 61.9,430.6 62.1,427.3 62.4,424.0 62.6,421.3 62.9,419.4 63.1,418.1 63.4,417.5 63.6,417.6 63.9,417.8 64.2,417.9 64.4,418.0 64.7,418.1 64.9,418.7 65.2,420.3 65.4,422.9 65.7,426.4 65.9,430.9 66.2,435.9 66.4,440.8 66.7,445.7 66.9,450.6 67.2,455.6 67.4,460.5 67.7,465.4 67.9,468.9 68.2,470.6 68.4,470.4 68.7,468.4 68.9,464.5 69.2,460.3 69.4,456.0 69.7,451.7 69.9,447.4 70.2,443.2 70.4,438.9 70.7,434.6 70.9,430.4 71.2,426.8 71.4,425.2 71.7,425.4 71.9,427.5 72.2,431.5 72.4,436.6 72.7,441.7 72.9,446.7 73.2,451.8 73.4,456.9 73.7,462.0 73.9,467.1 74.2,472.1 74.4,476.0 74.7,478.2 74.9,479.0 75.2,478.2 75.4,475.9 75.7,473.4 75.9,470.8 76.2,468.3 76.4,465.7 76.7,463.2 76.9,460.6 77.2,459.0 77.4,458.3 77.7,458.7 77.9,460.2 78.2,462.7 78.4,465.5 78.7,468.2 78.9,470.9 79.2,472.5 79.4,472.9 79.7,472.1 79.9,470.2 80.2,467.1 80.4,464.0 80.7,460.9 80.9,457.8 81.2,454.6 81.4,451.5 81.7,449.1 81.9,447.8 82.2,447.4 82.4,448.1 82.7,449.8 82.9,451.8 83.2,453.7 83.4,455.7 83.7,457.6 83.9,459.6 84.2,461.5 84.4,463.5 84.7,465.5 84.9,467.1 85.2,468.1 85.4,468.3 85.7,467.8 85.9,466.5 86.2,464.8 86.4,463.1 86.7,461.4 86.9,459.7 87.2,458.0 87.4,456.4 87.7,455.1 87.9,454.2 88.2,453.8 88.4,453.7 88.7,453.9 88.9,454.2 89.2,454.4 89.4,454.8 89.7,455.7 89.9,457.1 90.2,459.0 90.4,461.4 90.7,464.1 90.9,466.9 91.2,469.6 91.4,472.4 91.7,475.1 91.9,477.8 92.2,479.6 92.4,480.6 92.7,480.7 92.9,480.0 93.2,478.5 93.4,477.0 93.7,475.4 93.9,473.9 94.2,472.4 94.4,470.9 94.7,469.4 94.9,467.8 95.2,466.3 95.4,465.2 95.7,464.7 95.9,464.8 96.2,465.5 96.4,466.8 96.7,468.3 96.9,469.8 97.2,471.3 97.4,472.0 97.7,471.8 97.9,470.8 98.2,468.9 98.4,466.0 98.7,463.1 98.9,460.1 99.2,457.2 99.4,454.2 99.7,451.3 99.9,448.3 100.2,445.4 100.4,443.8 100.7,443.5 100.9,444.5 101.2,446.7 101.4,450.1 101.7,453.6 101.9,457.0 102.2,460.4 102.4,463.2 102.7,465.5 102.9,467.3 103.2,468.5 103.4,469.3 103.7,470.2 103.9,471.0 104.2,471.8 104.4,472.6 104.7,472.8 104.9,472.1 105.2,470.6 105.4,468.3 105.7,465.1 105.9,461.7 106.2,458.3 106.4,454.9 106.7,451.6 106.9,448.2 107.2,444.8 107.4,441.4 107.7,438.1 107.9,435.6 108.2,433.8 108.4,432.7 108.7,432.4 108.9,432.6 109.2,432.9 109.4,433.1 109.7,433.6 109.9,434.8 110.2,436.7 110.4,439.3 110.7,442.6 110.9,446.4 111.2,450.1 111.4,453.9 111.7,457.7 111.9,461.5 112.2,465.3 112.4,468.6 112.7,470.5 112.9,471.0 113.2,470.0 113.4,467.6 113.7,464.2 113.9,460.8 114.2,457.4 114.4,454.0 114.7,450.7 114.9,447.3 115.2,443.9 115.4,440.5 115.7,437.1 115.9,433.7 116.2,430.3 116.4,428.0 116.7,427.3 116.9,428.3 117.2,431.1 117.4,435.6 117.7,440.8 117.9,445.9 118.2,451.1 118.4,455.1 118.7,457.6 118.9,458.4 119.2,457.8 119.4,455.5 119.7,452.8 119.9,450.1 120.2,447.4 120.4,444.7 120.7,442.0 120.9,439.3 121.2,436.6 121.4,434.1 121.7,432.6 121.9,432.1 122.2,432.6 122.4,434.1 122.7,436.4 122.9,438.8 123.2,441.2 123.4,443.6 123.7,445.9 123.9,448.3 124.2,450.7 124.4,452.7 124.7,454.6 124.9,456.2 125.2,457.5 125.4,458.7 125.7,459.8 125.9,460.9 126.2,462.1 126.4,463.2 126.7,464.3 126.9,464.6 127.2,464.0 127.4,462.4 127.7,459.8 127.9,456.4 128.2,452.9 128.4,449.3 128.7,445.8 128.9,442.3 129.2,438.7 129.4,435.2 129.7,431.8 129.9,429.6 130.2,428.6 130.4,428.8 130.7,430.1 130.9,432.5 131.2,434.8 131.4,437.2 131.7,439.6 131.9,441.9 132.2,444.4 132.4,447.1 132.7,450.0 132.9,453.2 133.2,456.5 133.4,459.9 133.7,463.0 133.9,465.3 134.2,466.9 134.4,467.7 134.7,467.9 134.9,467.5 135.2,467.2 135.4,466.9 135.7,466.5 135.9,466.2 136.2,465.9 136.4,465.6 136.7,465.0 136.9,464.2 137.2,463.1 137.4,461.7 137.7,460.0 137.9,458.2 138.2,456.4 138.4,454.6 138.7,452.8 138.9,451.0 139.2,449.2 139.4,447.4 139.7,446.4 139.9,446.3 140.2,447.2 140.4,449.0 140.7,451.8 140.9,454.8 141.2,457.7 141.4,460.7 141.7,461.7 141.9,460.8 142.2,457.9 142.4,453.0 142.7,446.2 142.9,439.3 143.2,433.6 143.4,429.8 143.7,427.8 143.9,427.7 144.2,429.4 144.4,431.7 144.7,434.1 144.9,436.4 145.2,438.2 145.4,439.1 145.7,439.4 145.9,438.9 146.2,437.6 146.4,436.5 146.7,436.3 146.9,437.2 147.2,439.0 147.4,441.8 147.7,445.2 147.9,448.6 148.2,452.1 148.4,455.4 148.7,458.3 148.9,460.9 149.2,463.2 149.4,465.1 149.7,466.8 149.9,468.6 150.2,470.3 150.4,472.0 150.7,473.7 150.9,475.5 151.2,477.2 151.4,478.1 151.7,477.8 151.9,476.4 152.2,473.7 152.4,469.8 152.7,465.5 152.9,461.2 153.2,456.9 153.4,452.6 153.7,448.2 153.9,443.9 154.2,439.6 154.4,435.3 154.7,431.0 154.9,427.5 155.2,425.8 155.4,425.7 155.7,427.3 155.9,430.5 156.2,434.6 156.4,438.7 156.7,442.8 156.9,446.9 157.2,451.0 157.4,453.9 157.7,455.8 157.9,456.6 158.2,456.2 158.4,454.9 158.7,453.6 158.9,452.3 159.2,451.0 159.4,449.7 159.7,448.4 159.9,447.1 160.2,445.7 160.4,444.4 160.7,443.1 160.9,441.8 161.2,440.5 161.4,439.2 161.7,437.9 161.9,436.7 162.2,435.4 162.4,434.1 162.7,432.8 162.9,431.5 163.2,430.2 163.4,428.9 163.7,427.6 163.9,426.3 164.2,425.6 164.4,425.9 164.7,427.3 164.9,429.8 165.2,433.2 165.4,437.2 165.7,441.1 165.9,445.1 166.2,449.0 166.4,453.0 166.7,456.9 166.9,460.9 167.2,464.8 167.4,468.2 167.7,470.4 167.9,471.5 168.2,471.6 168.4,470.5 168.7,469.0 168.9,467.4 169.2,465.9 169.4,464.3 169.7,462.8 169.9,461.3 170.2,459.7 170.4,458.2 170.7,457.2 170.9,456.9 171.2,457.1 171.4,457.9 171.7,459.3 171.9,460.7 172.2,462.1 172.4,463.5 172.7,464.9 172.9,466.3 173.2,467.7 173.4,468.0 173.7,467.1 173.9,465.0 174.2,461.8 174.4,457.4 174.7,452.9 174.9,448.5 175.2,444.3 175.4,441.8 175.7,441.2 175.9,442.3 176.2,445.2 176.4,449.6 176.7,454.1 176.9,458.5 177.2,463.0 177.4,467.4 177.7,471.9 177.9,474.7 178.2,475.6 178.4,474.8 178.7,472.0 178.9,467.5 179.2,462.8 179.4,458.0 179.7,453.3 179.9,448.6 180.2,443.8 180.4,440.1 180.7,438.0 180.9,437.4 181.2,438.3 181.4,440.8 181.7,443.8 181.9,446.7 182.2,449.7 182.4,452.7 182.7,455.6 182.9,458.6 183.2,461.6 183.4,464.5 183.7,467.2 183.9,468.8 184.2,469.4 184.4,468.9 184.7,467.4 184.9,465.2 185.2,463.0 185.4,460.7 185.7,458.5 185.9,456.3 186.2,454.1 186.4,451.9 186.7,449.7 186.9,447.4 187.2,445.2 187.4,443.0 187.7,441.5 187.9,441.1 188.2,441.9 188.4,443.8 188.7,446.9 188.9,450.5 189.2,454.1 189.4,457.6 189.7,460.6 189.9,462.6 190.2,463.7 190.4,463.9 190.7,463.3 190.9,462.4 191.2,461.5 191.4,460.6 191.7,459.7 191.9,458.8 192.2,457.9 192.4,457.0 192.7,455.5 192.9,453.5 193.2,450.9 193.4,447.7 193.7,443.9 193.9,440.1 194.2,436.3 194.4,432.6 194.7,428.8 194.9,425.4 195.2,422.8 195.4,421.0 195.7,420.1 195.9,420.0 196.2,420.2 196.4,420.5 196.7,420.8 196.9,421.1 197.2,421.3 197.4,421.6 197.7,421.9 197.9,422.2 198.2,422.4 198.4,422.8 198.7,423.5 198.9,424.5 199.2,425.9 199.4,427.5 199.7,429.3 199.9,431.2 200.2,433.0 200.4,435.2 200.7,437.9 200.9,441.1 201.2,444.9 201.4,449.3 201.7,454.0 201.9,458.7 202.2,463.4 202.4,466.9 202.7,468.5 202.9,468.2 203.2,466.1 203.4,462.2 203.7,457.5 203.9,452.8 204.2,448.1 204.4,443.9 204.7,440.4 204.9,437.6 205.2,435.4 205.4,433.8 205.7,432.4 205.9,431.0 206.2,429.6 206.4,428.2 206.7,426.8 206.9,425.4 207.2,424.0 207.4,423.3 207.7,423.4 207.9,424.1 208.2,425.5 208.4,427.7 208.7,429.9 208.9,432.1 209.2,434.2 209.4,436.4 209.7,438.6 209.9,440.7 210.2,442.9 210.4,445.0 210.7,447.1 210.9,449.1 211.2,451.2 211.4,453.2 211.7,455.3 211.9,457.3 212.2,459.4 212.4,461.3 212.7,463.1 212.9,464.8 213.2,466.5 213.4,468.0 213.7,469.6 213.9,471.1 214.2,472.7 214.4,474.3 214.7,475.8 214.9,477.4 215.2,478.7 215.4,479.6 215.7,480.1 215.9,480.1 216.2,479.8 216.4,479.2 216.7,478.6 216.9,478.1 217.2,477.5 217.4,476.9 217.7,476.3 217.9,475.8 218.2,475.2 218.4,474.6 218.7,473.9 218.9,473.3 219.2,472.7 219.4,472.0 219.7,471.3 219.9,470.7 220.2,470.0 220.4,469.4 220.7,468.7 220.9,468.1 221.2,467.9 221.4,468.1 221.7,468.9 221.9,470.2 222.2,471.9 222.4,473.2 222.7,473.4 222.9,472.4 223.2,470.5 223.4,467.4 223.7,463.7 223.9,460.0 224.2,456.8 224.4,454.0 224.7,451.5 224.9,449.4 225.2,447.7 225.4,446.0 225.7,444.3 225.9,442.8 226.2,442.4 226.4,442.9 226.7,444.4 226.9,446.9 227.2,450.1 227.4,453.3 227.7,456.5 227.9,459.1 228.2,460.3 228.4,460.0 228.7,458.2 228.9,455.1 229.2,451.1 229.4,447.1 229.7,443.1 229.9,439.1 230.2,435.0 230.4,432.1 230.7,430.3 230.9,429.5 231.2,429.9 231.4,431.3 231.7,432.7 231.9,434.1 232.2,435.5 232.4,437.0 232.7,438.4 232.9,440.3 233.2,442.9 233.4,446.2 233.7,450.2 233.9,454.9 234.2,459.7 234.4,464.5 234.7,469.3 234.9,472.5 235.2,474.1 235.4,473.9 235.7,472.1 235.9,468.5 236.2,464.8 236.4,461.1 236.7,457.5 236.9,453.8 237.2,450.1 237.4,446.4 237.7,442.8 237.9,440.8 238.2,440.1 238.4,440.9 238.7,443.0 238.9,446.5 239.2,449.9 239.4,453.4 239.7,456.5 239.9,458.3 240.2,458.8 240.4,458.1 240.7,456.0 240.9,452.9 241.2,449.9 241.4,446.9 241.7,443.8 241.9,440.8 242.2,437.8 242.4,434.7 242.7,432.1 242.9,430.4 243.2,429.6 243.4,429.8 243.7,430.9 243.9,432.4 244.2,434.0 244.4,435.5 244.7,437.1 244.9,438.7 245.2,440.2 245.4,441.8 245.7,443.4 245.9,445.2 246.2,447.1 246.4,449.2 246.7,451.3 246.9,453.6 247.2,455.8 247.4,458.0 247.7,460.1 247.9,462.1 248.2,463.9 248.4,465.6 248.7,467.2 248.9,468.8 249.2,470.3 249.4,471.9 249.7,473.5 249.9,475.0 250.2,476.6 250.4,478.1 250.7,478.8 250.9,478.5 251.2,477.4 251.4,475.3 251.7,472.4 251.9,469.4 252.2,466.5 252.4,463.6 252.7,460.6 252.9,457.7 253.2,454.7 253.4,451.7 253.7,448.6 253.9,445.5 254.2,442.3 254.4,439.1 254.7,436.0 254.9,432.8 255.2,429.6 255.4,426.9 255.7,425.5 255.9,425.4 256.1,426.6 256.4,429.1 256.6,432.4 256.9,435.7 257.1,439.0 257.4,442.3 257.6,445.5 257.9,448.6 258.1,451.6 258.4,454.5 258.6,457.4 258.9,460.3 259.1,463.2 259.4,466.0 259.6,468.8 259.9,469.6 260.1,468.5 260.4,465.6 260.6,460.7 260.9,454.0 261.1,447.4 261.4,440.7 261.6,434.5 261.9,429.9 262.1,427.0 262.4,425.8 262.6,426.3 262.9,428.1 263.1,430.0 263.4,431.1 263.6,431.6 263.9,431.2 264.1,430.2 264.4,428.4 264.6,426.6 264.9,424.7 265.1,422.9 265.4,421.8 265.6,421.5 265.9,421.9 266.1,423.1 266.4,424.9 266.6,426.8 266.9,428.6 267.1,430.5 267.4,432.5 267.6,434.6 267.9,436.8 268.1,439.2 268.4,441.7 268.6,444.1 268.9,446.6 269.1,448.9 269.4,450.9 269.6,452.4 269.9,453.6 270.1,454.3 270.4,454.8 270.6,455.3 270.9,455.8 271.1,456.5 271.4,457.7 271.6,459.4 271.9,461.6 272.1,464.3 272.4,467.3 272.6,470.2 272.9,473.2 273.1,475.3 273.4,476.0 273.6,475.2 273.9,473.1 274.1,469.5 274.4,465.4 274.6,461.3 274.9,457.2 275.1,453.1 275.4,449.3 275.6,446.9 275.9,445.9 276.1,446.3 276.4,448.2 276.6,451.3 276.9,454.4 277.1,456.4 277.4,457.3 277.6,456.9 277.9,455.4 278.1,452.7 278.4,449.9 278.6,447.1 278.9,444.3 279.1,442.9 279.4,443.1 279.6,444.7 279.9,447.9 280.1,452.4 280.4,457.0 280.6,461.5 280.9,465.8 281.1,468.4 281.4,469.3 281.6,468.4 281.9,465.9 282.1,462.0 282.4,458.0 282.6,454.1 282.9,450.2 283.1,446.2 283.4,442.3 283.6,438.3 283.9,434.9 284.1,432.8 284.4,432.0 284.6,432.5 284.9,434.4 285.1,437.1 285.4,439.8 285.6,442.5 285.9,444.8 286.1,446.1 286.4,446.5 286.6,446.0 286.9,444.5 287.1,442.6 287.4,440.7 287.6,438.8 287.9,437.0 288.1,435.1 288.4,433.4 288.6,432.7 288.9,432.9 289.1,434.1 289.4,436.1 289.6,438.8 289.9,441.5 290.1,444.3 290.4,446.9 290.6,449.4 290.9,451.7 291.1,453.9 291.4,456.0 291.6,457.9 291.9,459.9 292.1,461.8 292.4,463.8 292.6,465.7 292.9,466.5 293.1,466.2 293.4,464.7 293.6,462.0 293.9,458.2 294.1,454.5 294.4,450.7 294.6,446.9 294.9,443.1 295.1,439.9 295.4,437.7 295.6,436.6 295.9,436.6 296.1,437.6 296.4,439.1 296.6,440.5 296.9,442.0 297.1,443.0 297.4,443.3 297.6,443.0 297.9,442.0 298.1,440.2 298.4,438.3 298.6,436.4 298.9,434.5 299.1,432.6 299.4,430.7 299.6,428.8 299.9,426.8 300.1,424.9 300.4,423.0 300.6,421.4 300.9,420.5 301.1,420.2 301.4,420.5 301.6,421.4 301.9,422.7 302.1,423.9 302.4,425.1 302.6,426.7 302.9,428.8 303.1,431.3 303.4,434.4 303.6,437.9 303.9,441.6 304.1,445.3 304.4,449.0 304.6,452.4 304.9,455.5 305.1,458.2 305.4,460.6 305.6,462.6 305.9,464.6 306.1,466.5 306.4,468.5 306.6,469.7 306.9,470.0 307.1,469.5 307.4,468.1 307.6,466.0 307.9,463.7 308.1,461.5 308.4,459.3 308.6,457.1 308.9,454.9 309.1,452.7 309.4,450.4 309.6,448.2 309.9,446.0 310.1,443.8 310.4,441.7 310.6,440.3 310.9,439.4 311.1,439.1 311.4,439.5 311.6,440.3 311.9,441.1 312.1,442.0 312.4,442.8 312.6,443.6 312.9,444.4 313.1,445.3 313.4,446.2 313.6,447.3 313.9,448.6 314.1,450.2 314.4,452.0 314.6,453.9 314.9,455.8 315.1,457.7 315.4,459.6 315.6,461.5 315.9,463.0 316.1,462.9 316.4,461.2 316.6,457.9 316.9,453.0 317.1,446.8 317.4,440.7 317.6,434.5 317.9,429.2 318.1,426.1 318.4,425.1 318.6,426.4 318.9,430.0 319.1,434.9 319.4,439.8 319.6,444.7 319.9,449.7 320.1,454.6 320.4,459.5 320.6,463.7 320.9,465.7 321.1,465.5 321.4,463.3 321.6,458.9 321.9,453.1 322.1,447.3 322.4,441.5 322.6,436.6 322.9,433.7 323.1,432.6 323.4,433.3 323.6,435.9 323.9,439.5 324.1,443.1 324.4,446.6 324.6,450.3 324.9,453.9 325.1,457.6 325.4,461.4 325.6,465.2 325.9,469.1 326.1,472.5 326.4,474.7 326.6,475.6 326.9,475.3 327.1,473.8 327.4,471.5 327.6,469.1 327.9,466.8 328.1,464.9 328.4,463.9 328.6,463.9 328.9,464.8 329.1,466.6 329.4,468.9 329.6,470.9 329.9,470.9 330.1,469.8 330.4,467.5 330.6,464.1 330.9,460.0 331.1,456.7 331.4,453.3 331.6,449.9 331.9,446.6 332.1,443.2 332.4,439.9 332.6,436.5 332.9,433.2 333.1,429.8 333.4,426.5 333.6,424.2 333.9,423.2 334.1,423.5 334.4,425.0 334.6,427.8 334.9,430.7 335.1,433.7 335.4,436.7 335.6,439.7 335.9,442.7 336.1,445.9 336.4,449.2 336.6,452.7 336.9,456.3 337.1,460.0 337.4,463.7 337.6,467.4 337.9,471.0 338.1,474.7 338.4,477.1 338.6,478.0 338.9,477.5 339.1,475.7 339.4,472.4 339.6,469.1 339.9,465.8 340.1,462.6 340.4,459.3 340.6,456.0 340.9,452.7 341.1,449.4 341.4,446.1 341.6,442.9 341.9,441.0 342.1,440.9 342.4,442.6 342.6,445.9 342.9,451.1 343.1,456.5 343.4,461.9 343.6,467.3 343.9,470.6 344.1,471.8 344.4,470.8 344.6,467.6 344.9,462.2 345.1,456.8 345.4,451.4 345.6,446.2 345.9,442.7 346.1,441.1 346.4,441.2 346.6,443.1 346.9,446.6 347.1,450.1 347.4,453.5 347.6,457.0 347.9,460.5 348.1,463.3 348.4,465.1 348.6,465.8 348.9,465.5 349.1,464.1 349.4,462.4 349.6,460.7 349.9,459.0 350.1,457.3 350.4,455.7 350.6,454.0 350.9,452.3 351.1,450.6 351.4,449.4 351.6,448.7 351.9,448.4 352.1,448.6 352.4,449.3 352.6,449.9 352.9,450.5 353.1,451.1 353.4,451.7 353.6,452.1 353.9,452.2 354.1,452.1 354.4,451.6 354.6,450.8 354.9,449.9 355.1,448.9 355.4,448.0 355.6,447.1 355.9,446.2 356.1,445.3 356.4,444.4 356.6,444.1 356.9,444.3 357.1,445.2 357.4,446.7 357.6,448.8 357.9,450.9 358.1,453.1 358.4,455.3 358.6,457.5 358.9,459.6 359.1,461.1 359.4,461.4 359.6,460.6 359.9,458.6 360.1,455.5 360.4,452.0 360.6,448.6 360.9,445.1 361.1,441.6 361.4,438.4 361.6,436.6 361.9,436.2 362.1,437.1 362.4,439.5 362.6,442.9 362.9,446.4 363.1,449.8 363.4,453.3 363.6,456.6 363.9,459.9 364.1,463.1 364.4,466.2 364.6,469.3 364.9,472.4 365.1,475.4 365.4,477.5 365.6,477.6 365.9,475.7 366.1,471.7 366.4,465.8 366.6,458.8 366.9,451.8 367.1,444.9 367.4,437.9 367.6,431.0 367.9,426.5 368.1,424.4 368.4,424.6 368.6,427.2 368.9,431.9 369.1,436.7 369.4,440.3 369.6,442.5 369.9,443.1 370.1,442.3 370.4,440.0 370.6,437.3 370.9,434.6 371.1,432.0 371.4,429.3 371.6,426.8 371.9,424.8 372.1,423.3 372.4,422.3 372.6,421.9 372.9,421.7 373.1,421.6 373.4,421.5 373.6,421.3 373.9,421.2 374.1,421.0 374.4,420.9 374.6,420.8 374.9,420.6 375.1,420.6 375.4,421.2 375.6,422.4 375.9,424.2 376.1,426.7 376.4,429.6 376.6,432.6 376.9,435.6 377.1,438.7 377.4,442.2 377.6,446.2 377.9,450.7 378.1,455.6 378.4,460.9 378.6,466.0 378.9,469.8 379.1,472.1 379.4,473.0 379.6,472.4 379.9,470.4 380.1,468.4 380.4,466.5 380.6,464.4 380.9,461.8 381.1,458.6 381.4,454.9 381.6,450.7 381.9,445.9 382.1,441.2 382.4,436.5 382.6,431.8 382.9,427.1 383.1,423.3 383.4,420.7 383.6,419.4 383.9,419.3 384.1,420.4 384.4,421.9 384.6,423.4 384.9,424.8 385.1,426.8 385.4,429.4 385.6,432.6 385.9,436.4 386.1,440.7 386.4,445.2 386.6,449.6 386.9,454.0 387.1,456.4 387.4,456.9 387.6,455.4 387.9,451.9 388.1,446.5 388.4,441.1 388.6,435.7 388.9,430.5 389.1,427.2 389.4,425.6 389.6,425.8 389.9,427.7 390.1,431.2 390.4,434.7 390.6,438.2 390.9,441.7 391.1,445.2 391.4,447.9 391.6,449.6 391.9,450.2 392.1,449.7 392.4,448.1 392.6,446.3 392.9,444.8 393.1,444.2 393.4,444.4 393.6,445.5 393.9,447.5 394.1,450.0 394.4,452.4 394.6,454.9 394.9,456.7 395.1,457.5 395.4,457.1 395.6,455.7 395.9,453.1 396.1,450.1 396.4,447.0 396.6,444.0 396.9,441.0 397.1,437.9 397.4,434.9 397.6,431.8 397.9,430.1 398.1,429.9 398.4,431.3 398.6,434.4 398.9,439.1 399.1,444.1 399.4,449.2 399.6,454.2 399.9,457.3 400.1,458.3 400.4,457.2 400.6,454.0 400.9,448.6 401.1,443.1 401.4,437.6 401.6,432.1 401.9,428.2 402.1,425.9 402.4,425.2 402.6,426.1 402.9,428.4 403.1,430.8 403.4,433.2 403.6,435.5 403.9,437.9 404.1,440.3 404.4,441.9 404.6,442.7 404.9,442.7 405.1,441.8 405.4,440.0 405.6,438.1 405.9,436.2 406.1,434.3 406.4,432.4 406.6,430.5 406.9,428.6 407.1,426.7 407.4,424.7 407.6,422.8 407.9,420.9 408.1,419.2 408.4,418.8 408.6,419.8 408.9,422.2 409.1,426.0 409.4,431.0 409.6,436.1 409.9,441.1 410.1,446.1 410.4,451.1 410.6,455.7 410.9,459.5 411.1,462.7 411.4,465.1 411.6,466.8 411.9,468.3 412.1,469.7 412.4,471.2 412.6,472.7 412.9,474.2 413.1,475.7 413.4,477.1 413.6,477.9 413.9,478.0 414.1,477.3 414.4,475.9 414.6,473.7 414.9,471.4 415.1,469.2 415.4,466.9 415.6,464.6 415.9,462.3 416.1,459.9 416.4,457.3 416.6,454.4 416.9,451.2 417.1,447.9 417.4,444.4 417.6,441.0 417.9,437.5 418.1,435.4 418.4,435.0 418.6,436.2 418.9,439.1 419.1,443.7 419.4,448.2 419.6,451.2 419.9,452.8 420.1,453.0 420.4,451.7 420.6,449.3 420.9,447.0 421.1,444.6 421.4,442.8 421.6,442.1 421.9,442.6 422.1,444.3 422.4,447.2 422.6,450.7 422.9,454.2 423.1,457.7 423.4,461.2 423.6,464.7 423.9,467.8 424.1,469.1 424.4,468.6 424.6,466.3 424.9,462.2 425.1,456.6 425.4,451.1 425.6,445.6 425.9,440.0 426.1,434.5 426.4,430.3 426.6,427.9 426.9,427.2 427.1,428.3 427.4,431.1 427.6,434.3 427.9,437.5 428.1,440.7 428.4,444.0 428.6,447.3 428.9,450.7 429.1,454.2 429.4,457.8 429.6,461.3 429.9,464.9 430.1,468.4 430.4,470.6 430.6,471.5 430.9,471.1 431.1,469.4 431.4,466.5 431.6,463.6 431.9,461.5 432.1,460.5 432.4,460.6 432.6,461.8 432.9,464.1 433.1,466.7 433.4,469.3 433.6,471.8 433.9,474.4 434.1,476.5 434.4,477.4 434.6,476.9 434.9,475.2 435.1,472.2 435.4,468.4 435.6,464.5 435.9,460.7 436.1,456.8 436.4,452.9 436.6,449.1 436.9,445.2 437.1,441.7 437.4,438.8 437.6,436.6 437.9,435.0 438.1,434.1 438.4,433.4 438.6,432.8 438.9,432.1 439.1,431.4 439.4,430.8 439.6,430.1 439.9,429.5 440.1,429.6 440.4,430.8 440.6,433.1 440.9,436.4 441.1,440.8 441.4,445.5 441.6,450.2 441.9,454.9 442.1,459.6 442.4,464.2 442.6,468.9 442.9,473.6 443.1,476.5 443.4,477.4 443.6,476.5 443.9,473.6 444.1,468.9 444.4,464.1 444.6,459.2 444.9,454.4 445.1,449.6 445.4,444.7 445.6,441.2 445.9,439.4 446.1,439.3 446.4,441.0 446.6,444.5 446.9,448.4 447.1,452.3 447.4,456.2 447.6,460.1 447.9,463.6 448.1,466.2 448.4,467.7 448.6,468.1 448.9,467.6 449.1,466.2 449.4,464.9 449.6,463.6 449.9,462.3 450.1,461.0 450.4,459.7 450.6,458.4 450.9,457.0 451.1,455.5 451.4,453.9 451.6,452.2 451.9,450.3 452.1,448.4 452.4,446.6 452.6,444.7 452.9,442.8 453.1,440.9 453.4,439.3 453.6,438.8 453.9,439.5 454.1,441.3 454.4,444.2 454.6,447.9 454.9,451.6 455.1,455.3 455.4,459.0 455.6,462.7 455.9,465.1 456.1,466.2 456.4,465.9 456.6,464.1 456.9,460.9 457.1,457.5 457.4,454.9 457.6,453.7 457.9,453.9 458.1,455.5 458.4,458.5 458.6,462.1 458.9,465.7 459.1,469.3 459.4,472.9 459.6,476.3 459.9,478.5 460.1,479.6 460.4,479.4 460.6,478.1 460.9,475.7 461.1,473.3 461.4,470.9 461.6,468.5 461.9,466.1 462.1,463.7 462.4,461.3 462.6,458.9 462.9,456.5 463.1,454.1 463.4,452.7 463.6,452.4 463.9,453.1 464.1,454.8 464.4,457.5 464.6,460.3 464.9,463.1 465.1,465.9 465.4,468.6 465.6,470.5 465.9,470.8 466.1,469.4 466.4,466.4 466.6,461.8 466.9,456.5 467.1,451.2 467.4,445.8 467.6,440.5 467.9,435.3 468.1,431.3 468.4,428.6 468.6,427.1 468.9,426.9 469.1,427.8 469.4,428.6 469.6,429.5 469.9,430.3 470.1,430.6 470.4,430.6 470.6,430.2 470.9,429.4 471.1,428.4 471.4,427.3 471.6,426.5 471.9,426.1 472.1,426.0 472.4,426.2 472.6,426.8 472.9,427.4 473.1,427.9 473.4,428.5 473.6,429.1 473.9,429.7 474.1,430.2 474.4,431.0 474.6,432.5 474.9,434.9 475.1,438.2 475.4,442.3 475.6,447.2 475.9,452.0 476.1,456.8 476.4,461.7 476.6,466.5 476.9,471.3 477.1,474.5 477.4,475.8 477.6,475.4 477.9,473.1 478.1,469.1 478.4,465.0 478.6,460.9 478.9,456.8 479.1,452.7 479.4,449.4 479.6,447.7 479.9,447.6 480.1,449.1 480.4,452.1 480.6,455.9 480.9,459.7 481.1,463.6 481.4,466.8 481.6,469.1 481.9,470.5 482.1,471.0 482.4,470.6 482.6,469.8 482.9,469.1 483.1,468.3 483.4,467.3 483.6,465.9 483.9,464.0 484.1,461.8 484.4,459.3 484.6,456.6 484.9,453.9 485.1,451.3 485.4,448.6 485.6,446.4 485.9,445.5 486.1,446.0 486.4,447.8 486.6,451.0 486.9,455.0 487.1,458.8 487.4,460.8 487.6,460.7 487.9,458.7 488.1,454.7 488.4,448.9 488.6,443.2 488.9,437.4 489.1,431.9 489.4,428.0 489.6,425.7 489.9,425.0 490.1,425.8 490.4,427.9 490.6,430.0 490.9,432.1 491.1,434.0 491.4,435.1 491.6,435.4 491.9,435.1 492.1,434.0 492.4,432.5 492.6,430.9 492.9,429.3 493.1,427.8 493.4,426.2 493.6,424.7 493.9,423.1 494.1,421.7 494.4,420.7 494.6,420.1 494.9,419.9 495.1,419.9 495.4,420.1 495.6,420.2 495.9,420.2 496.1,421.7 496.4,425.3 496.6,431.0 496.9,438.8 497.1,448.7 497.4,457.3 497.6,462.3 497.9,463.9 498.1,462.2 498.4,457.4 498.6,451.6 498.9,446.2 499.1,441.2 499.4,436.3 499.6,431.4 499.9,426.9 500.1,423.9 500.4,422.3 500.6,422.1 500.9,423.3 501.1,425.5 501.4,427.6 501.6,429.7 501.9,431.9 502.1,434.0 502.4,436.1 502.6,438.3 502.9,439.9 503.1,440.5 503.4,440.3 503.6,439.1 503.9,436.9 504.1,434.4 504.4,431.8 504.6,429.2 504.9,426.7 505.1,424.3 505.4,423.7 505.6,424.7 505.9,427.5 506.1,432.1 506.4,438.1 506.6,444.1 506.9,450.2 507.1,456.0 507.4,461.2 507.6,465.7 507.9,469.5 508.1,472.6 508.4,475.2 508.6,477.8 508.9,479.5 509.1,480.0 509.4,479.6 509.6,478.1 509.9,475.5 510.1,473.0 510.4,470.4 510.6,467.9 510.9,465.3 511.1,462.8 511.4,460.5 511.6,458.4 511.9,456.4 512.1,454.6 512.4,452.9 512.6,451.1 512.9,449.4 513.1,448.3 513.4,447.9 513.6,448.5 513.9,449.8 514.1,452.0 514.4,453.5 514.6,453.9 514.9,453.3 515.1,451.7 515.4,449.0 515.6,446.3 515.9,443.6 516.1,441.0 516.4,439.1 516.6,438.1 516.9,437.8 517.1,438.3 517.4,439.5 517.6,440.8 517.9,442.0 518.1,443.1 518.4,443.7 518.6,443.9 518.9,443.5 519.1,442.7 519.4,441.4 519.6,440.2 519.9,439.0 520.1,437.7 520.4,436.5 520.6,435.6 520.9,434.9 521.1,434.7 521.4,434.8 521.6,435.2 521.9,435.7 522.1,436.2 522.4,436.7 522.6,437.6 522.9,439.0 523.1,440.9 523.4,443.3 523.6,446.1 523.9,449.0 524.1,451.9 524.4,454.7 524.6,457.6 524.9,460.5 525.1,463.3 525.4,466.1 525.6,467.9 525.9,468.7 526.1,468.6 526.4,467.5 526.6,465.6 526.9,463.7 527.1,461.8 527.4,459.9 527.6,458.1 527.9,456.2 528.1,454.3 528.4,452.3 528.6,450.3 528.9,448.1 529.1,445.8 529.4,443.3 529.6,440.8 529.9,438.2 530.1,435.7 530.4,433.1 530.6,430.6 530.9,428.0 531.1,425.5 531.4,423.3 531.6,421.9 531.9,421.1 532.1,421.0 532.4,421.6 532.6,422.5 532.9,423.4 533.1,424.3 533.4,425.2 533.6,426.1 533.9,427.0 534.1,427.9 534.4,429.5 534.6,431.9 534.9,435.2 535.1,439.4 535.4,444.4 535.6,449.6 535.9,454.9 536.1,460.1 536.4,465.3 536.6,470.1 536.9,473.2 537.1,474.8 537.4,474.8 537.6,473.3 537.9,470.8 538.1,468.2 538.4,465.7 538.6,463.1 538.9,460.5 539.1,458.0 539.4,455.9 539.6,454.2 539.9,452.9 540.1,452.0 540.4,451.4 540.6,450.8 540.9,450.3 541.1,449.7 541.4,449.1 541.6,448.5 541.9,448.8 542.1,449.9 542.4,451.8 542.6,454.7 542.9,458.4 543.1,462.2 543.4,466.0 543.6,469.8 543.9,471.8 544.1,472.0 544.4,470.5 544.6,467.2 544.9,462.2 545.1,457.2 545.4,452.2 545.6,447.2 545.9,442.1 546.1,437.1 546.4,432.1 546.6,427.5 546.9,424.5 547.1,423.1 547.4,423.4 547.6,425.2 547.9,428.3 548.1,431.4 548.4,434.4 548.6,437.5 548.9,440.6 549.1,443.7 549.4,446.9 549.6,450.2 549.9,453.6 550.1,457.0 550.4,460.5 550.6,463.9 550.9,467.4 551.1,469.6 551.4,470.4 551.6,469.9 551.9,468.1 552.1,465.0 552.4,461.8 552.6,458.5 552.9,455.3 553.1,452.1 553.4,448.9 553.6,446.5 553.9,445.2 554.1,445.1 554.4,446.1 554.6,448.2 554.9,450.5 555.1,451.6 555.4,451.5 555.6,450.4 555.9,448.2 556.1,445.0 556.4,441.9 556.6,438.8 556.9,435.7 557.1,432.6 557.4,429.5 557.6,426.3 557.9,423.5 558.1,421.3 558.4,419.7 558.6,418.8 558.9,418.5 559.1,418.6 559.4,418.7 559.6,418.8 559.9,418.8 560.1,418.9 560.4,419.0 560.6,419.1 560.9,419.2 561.1,419.5 561.4,419.9 561.6,420.4 561.9,421.0 562.1,421.7 562.4,422.3 562.6,423.0 562.9,423.6 563.1,424.3 563.4,424.9 563.6,425.6 563.9,426.0 564.1,426.0 564.4,425.8 564.6,425.2 564.9,424.2 565.1,423.2 565.4,422.3 565.6,421.3 565.9,420.6 566.1,420.1 566.4,420.0 566.6,420.1 566.9,420.5 567.1,420.9 567.4,421.3 567.6,421.7 567.9,422.1 568.1,422.6 568.4,423.0 568.6,423.3 568.9,423.6 569.1,423.7 569.4,423.7 569.6,423.6 569.9,423.3 570.1,423.1 570.4,422.8 570.6,422.8 570.9,423.4 571.1,424.6 571.4,426.4 571.6,428.8 571.9,431.6 572.1,434.5 572.4,437.3 572.6,440.2 572.9,443.0 573.1,445.7 573.4,447.4 573.6,448.0 573.9,447.6 574.1,446.2 574.4,443.8 574.6,441.4 574.9,439.0 575.1,436.6 575.4,434.2 575.6,431.8 575.9,429.5 576.1,427.1 576.4,424.7 576.6,422.7 576.9,421.4 577.1,420.7 577.4,420.6 577.6,421.1 577.9,421.8 578.1,422.4 578.4,423.1 578.6,423.7 578.9,424.4 579.1,425.6 579.4,427.8 579.6,431.0 579.9,435.2 580.1,440.3 580.4,446.0 580.6,451.7 580.9,457.3 581.1,462.3 581.4,466.1 581.6,468.9 581.9,470.5 582.1,471.1 582.4,471.3 582.6,471.5 582.9,471.7 583.1,471.9 583.4,472.2 583.6,472.4 583.9,472.7 584.1,473.1 584.4,473.4 584.6,473.8 584.9,474.3 585.1,474.7 585.4,475.1 585.6,475.5 585.9,475.9 586.1,476.3 586.4,476.3 586.6,475.4 586.9,473.7 587.1,471.0 587.4,467.4 587.6,463.4 587.9,459.3 588.1,455.2 588.4,451.2 588.6,447.1 588.9,443.3 589.1,440.7 589.4,439.3 589.6,439.1 589.9,440.1 590.1,442.1 590.4,444.0 590.6,446.0 590.9,447.8 591.1,449.0 591.4,449.6 591.6,449.7 591.9,449.3 592.1,448.5 592.4,447.6 592.6,446.8 592.9,446.0 593.1,445.2 593.4,444.2 593.6,443.0 593.9,441.5 594.1,439.9 594.4,438.1 594.6,436.2 594.9,434.4 595.1,432.5 595.4,430.7 595.6,429.3 595.9,428.8 596.1,429.2 596.4,430.5 596.6,432.8 596.9,435.5 597.1,438.2 597.4,440.9 597.6,443.8 597.9,446.8 598.1,450.1 598.4,453.6 598.6,457.4 598.9,461.2 599.1,465.0 599.4,468.8 599.6,471.4 599.9,472.3 600.1,471.7 600.4,469.4 600.6,465.5 600.9,461.1 601.1,456.8 601.4,452.5 601.6,448.2 601.9,443.9 602.1,439.6 602.4,435.3 602.6,431.3 602.9,429.1 603.1,428.7 603.4,430.1 603.6,433.2 603.9,437.8 604.1,442.5 604.4,447.1 604.6,451.7 604.9,456.3 605.1,459.5 605.4,460.6 605.6,459.8 605.9,457.1 606.1,452.3 606.4,447.1 606.6,441.9 606.9,436.6 607.1,431.4 607.4,426.9 607.6,424.5 607.9,424.4 608.1,426.4 608.4,430.7 608.6,436.5 608.9,442.3 609.1,448.0 609.4,453.8 609.6,459.6 609.9,465.2 610.1,468.8 610.4,470.4 610.6,470.0 610.9,467.6 611.1,463.4 611.4,459.2 611.6,455.1 611.9,451.2 612.1,448.9 612.4,448.1 612.6,448.9 612.9,451.2 613.1,454.6 613.4,458.1 613.6,461.5 613.9,464.4 614.1,465.7 614.4,465.4 614.6,463.5 614.9,460.0 615.1,455.6 615.4,451.1 615.6,446.7 615.9,442.2 616.1,437.8 616.4,433.6 616.6,431.1 616.9,430.4 617.1,431.4 617.4,434.1 617.6,438.3 617.9,442.5 618.1,446.8 618.4,451.0 618.6,455.2 618.9,458.8 619.1,461.6 619.4,463.6 619.6,464.8 619.9,465.2 620.1,465.4 620.4,465.5 620.6,465.7 620.9,465.9 621.1,466.0 621.4,466.2 621.6,466.4 621.9,465.7 622.1,464.1 622.4,461.5 622.6,458.1 622.9,453.7 623.1,449.2 623.4,444.8 623.6,440.3 623.9,435.9 624.1,431.4 624.4,427.8 624.6,425.2 624.9,423.8 625.1,423.4 625.4,424.2 625.6,425.3 625.9,426.4 626.1,427.5 626.4,428.3 626.6,428.6 626.9,428.4 627.1,427.8 627.4,426.8 627.6,425.7 627.9,424.6 628.1,423.5 628.4,422.9 628.6,422.8 628.9,423.3 629.1,424.3 629.4,425.8 629.6,427.3 629.9,428.9 630.1,430.4 630.4,432.0 630.6,433.7 630.9,435.9 631.1,438.6 631.4,441.6 631.6,445.1 631.9,448.8 632.1,452.5 632.4,456.2 632.6,459.6 632.9,462.7 633.1,465.3 633.4,467.5 633.6,469.3 633.9,471.0 634.1,472.3 634.4,472.4 634.6,471.3 634.9,469.2 635.1,465.9 635.4,461.9 635.6,457.9 635.9,453.9 636.1,449.9 636.4,446.0 636.6,442.0 636.9,438.0 637.1,434.0 637.4,430.1 637.6,427.5 637.9,426.5 638.1,426.8 638.4,428.5 638.6,431.6 638.9,434.8 639.1,437.9 639.4,441.0 639.6,444.1 639.9,447.2 640.1,450.4 640.4,453.2 640.6,454.9 640.9,455.4 641.1,454.8 641.4,453.1 641.6,450.5 641.9,447.8 642.1,445.2 642.4,442.6 642.6,439.9 642.9,437.3 643.1,434.7 643.4,432.5 643.6,431.2 643.9,430.9 644.1,431.6 644.4,433.2 644.6,435.3 644.9,437.5 645.1,439.6 645.4,441.7 645.6,443.9 645.9,446.0 646.1,448.1 646.4,449.7 646.6,450.2 646.9,449.8 647.1,448.4 647.4,446.1 647.6,443.4 647.9,440.7 648.1,438.1 648.4,435.4 648.6,433.0 648.9,432.0 649.1,432.2 649.4,433.8 649.6,436.6 649.9,440.5 650.1,444.4 650.4,448.3 650.6,452.2 650.9,456.1 651.1,460.0 651.4,463.9 651.6,467.8 651.9,471.7 652.1,475.6 652.4,478.2 652.6,479.5 652.9,479.7 653.1,478.7 653.4,476.6 653.6,474.4 653.9,472.2 654.1,470.1 654.4,467.9 654.6,465.7 654.9,463.3 655.1,460.7 655.4,457.9 655.6,455.0 655.9,452.1 656.1,449.1 656.4,446.2 656.6,443.9 656.9,442.5 657.1,442.0 657.4,442.4 657.6,443.7 657.9,445.2 658.1,446.7 658.4,448.1 658.6,448.9 658.9,448.8 659.1,447.9 659.4,446.3 659.6,443.8 659.9,441.2 660.1,438.7 660.4,436.1 660.6,433.5 660.9,431.0 661.1,429.1 661.4,428.3 661.6,428.5 661.9,429.8 662.1,432.0 662.4,434.6 662.6,437.1 662.9,439.7 663.1,442.3 663.4,444.9 663.6,447.2 663.9,449.3 664.1,451.2 664.4,452.9 664.6,454.3 664.9,455.8 665.1,457.2 665.4,458.7 665.6,460.1 665.9,461.5 666.1,463.0 666.4,464.1 666.6,464.6 666.9,464.2 667.1,463.2 667.4,461.4 667.6,459.2 667.9,456.9 668.1,454.7 668.4,452.5 668.6,450.2 668.9,447.9 669.1,445.5 669.4,443.1 669.6,440.6 669.9,438.2 670.1,435.7 670.4,433.3 670.6,431.1 670.9,429.4 671.1,428.2" fill="none" stroke="#E01010" stroke-width="1.0" stroke-linejoin="round" stroke-linecap="butt" stroke-dasharray="1.2,1.5"/>
</g></g>
<rect x="840" y="15.9" width="1.3" height="1" fill="#6868E0"/>
<text x="842.8" y="18.4" font-size="5.6" fill="#3232CC" textLength="17.6" lengthAdjust="spacingAndGlyphs" stroke="#3232CC" stroke-width="0.18" stroke-opacity="0.8">1.19075</text>
<rect x="840" y="33.8" width="1.3" height="1" fill="#6868E0"/>
<text x="842.8" y="36.2" font-size="5.6" fill="#3232CC" textLength="17.6" lengthAdjust="spacingAndGlyphs" stroke="#3232CC" stroke-width="0.18" stroke-opacity="0.8">1.18840</text>
<rect x="840" y="51.6" width="1.3" height="1" fill="#6868E0"/>
<text x="842.8" y="54.1" font-size="5.6" fill="#3232CC" textLength="17.6" lengthAdjust="spacingAndGlyphs" stroke="#3232CC" stroke-width="0.18" stroke-opacity="0.8">1.18610</text>
<rect x="840" y="69.5" width="1.3" height="1" fill="#6868E0"/>
<text x="842.8" y="72.0" font-size="5.6" fill="#3232CC" textLength="17.6" lengthAdjust="spacingAndGlyphs" stroke="#3232CC" stroke-width="0.18" stroke-opacity="0.8">1.18375</text>
<rect x="840" y="87.3" width="1.3" height="1" fill="#6868E0"/>
<text x="842.8" y="89.8" font-size="5.6" fill="#3232CC" textLength="17.6" lengthAdjust="spacingAndGlyphs" stroke="#3232CC" stroke-width="0.18" stroke-opacity="0.8">1.18140</text>
<rect x="840" y="105.2" width="1.3" height="1" fill="#6868E0"/>
<text x="842.8" y="107.7" font-size="5.6" fill="#3232CC" textLength="17.6" lengthAdjust="spacingAndGlyphs" stroke="#3232CC" stroke-width="0.18" stroke-opacity="0.8">1.17910</text>
<rect x="840" y="123.0" width="1.3" height="1" fill="#6868E0"/>
<text x="842.8" y="125.5" font-size="5.6" fill="#3232CC" textLength="17.6" lengthAdjust="spacingAndGlyphs" stroke="#3232CC" stroke-width="0.18" stroke-opacity="0.8">1.17675</text>
<rect x="840" y="140.9" width="1.3" height="1" fill="#6868E0"/>
<text x="842.8" y="143.4" font-size="5.6" fill="#3232CC" textLength="17.6" lengthAdjust="spacingAndGlyphs" stroke="#3232CC" stroke-width="0.18" stroke-opacity="0.8">1.17440</text>
<rect x="840" y="158.7" width="1.3" height="1" fill="#6868E0"/>
<text x="842.8" y="161.2" font-size="5.6" fill="#3232CC" textLength="17.6" lengthAdjust="spacingAndGlyphs" stroke="#3232CC" stroke-width="0.18" stroke-opacity="0.8">1.17205</text>
<rect x="840" y="176.6" width="1.3" height="1" fill="#6868E0"/>
<text x="842.8" y="179.1" font-size="5.6" fill="#3232CC" textLength="17.6" lengthAdjust="spacingAndGlyphs" stroke="#3232CC" stroke-width="0.18" stroke-opacity="0.8">1.16975</text>
<rect x="840" y="194.4" width="1.3" height="1" fill="#6868E0"/>
<text x="842.8" y="196.9" font-size="5.6" fill="#3232CC" textLength="17.6" lengthAdjust="spacingAndGlyphs" stroke="#3232CC" stroke-width="0.18" stroke-opacity="0.8">1.16740</text>
<rect x="840" y="212.3" width="1.3" height="1" fill="#6868E0"/>
<text x="842.8" y="214.8" font-size="5.6" fill="#3232CC" textLength="17.6" lengthAdjust="spacingAndGlyphs" stroke="#3232CC" stroke-width="0.18" stroke-opacity="0.8">1.16505</text>
<rect x="840" y="230.1" width="1.3" height="1" fill="#6868E0"/>
<text x="842.8" y="232.6" font-size="5.6" fill="#3232CC" textLength="17.6" lengthAdjust="spacingAndGlyphs" stroke="#3232CC" stroke-width="0.18" stroke-opacity="0.8">1.16275</text>
<rect x="840" y="248.0" width="1.3" height="1" fill="#6868E0"/>
<text x="842.8" y="250.5" font-size="5.6" fill="#3232CC" textLength="17.6" lengthAdjust="spacingAndGlyphs" stroke="#3232CC" stroke-width="0.18" stroke-opacity="0.8">1.16040</text>
<rect x="840" y="265.8" width="1.3" height="1" fill="#6868E0"/>
<text x="842.8" y="268.3" font-size="5.6" fill="#3232CC" textLength="17.6" lengthAdjust="spacingAndGlyphs" stroke="#3232CC" stroke-width="0.18" stroke-opacity="0.8">1.15805</text>
<rect x="840" y="283.6" width="1.3" height="1" fill="#6868E0"/>
<text x="842.8" y="286.1" font-size="5.6" fill="#3232CC" textLength="17.6" lengthAdjust="spacingAndGlyphs" stroke="#3232CC" stroke-width="0.18" stroke-opacity="0.8">1.15570</text>
<rect x="840" y="301.5" width="1.3" height="1" fill="#6868E0"/>
<text x="842.8" y="304.0" font-size="5.6" fill="#3232CC" textLength="17.6" lengthAdjust="spacingAndGlyphs" stroke="#3232CC" stroke-width="0.18" stroke-opacity="0.8">1.15340</text>
<rect x="840" y="319.4" width="1.3" height="1" fill="#6868E0"/>
<text x="842.8" y="321.9" font-size="5.6" fill="#3232CC" textLength="17.6" lengthAdjust="spacingAndGlyphs" stroke="#3232CC" stroke-width="0.18" stroke-opacity="0.8">1.15105</text>
<rect x="840" y="337.2" width="1.3" height="1" fill="#6868E0"/>
<text x="842.8" y="339.7" font-size="5.6" fill="#3232CC" textLength="17.6" lengthAdjust="spacingAndGlyphs" stroke="#3232CC" stroke-width="0.18" stroke-opacity="0.8">1.14870</text>
<rect x="840" y="355.1" width="1.3" height="1" fill="#6868E0"/>
<text x="842.8" y="357.6" font-size="5.6" fill="#3232CC" textLength="17.6" lengthAdjust="spacingAndGlyphs" stroke="#3232CC" stroke-width="0.18" stroke-opacity="0.8">1.14635</text>
<rect x="840" y="372.9" width="1.3" height="1" fill="#6868E0"/>
<text x="842.8" y="375.4" font-size="5.6" fill="#3232CC" textLength="17.6" lengthAdjust="spacingAndGlyphs" stroke="#3232CC" stroke-width="0.18" stroke-opacity="0.8">1.14405</text>
<rect x="840" y="390.8" width="1.3" height="1" fill="#6868E0"/>
<text x="842.8" y="393.2" font-size="5.6" fill="#3232CC" textLength="17.6" lengthAdjust="spacingAndGlyphs" stroke="#3232CC" stroke-width="0.18" stroke-opacity="0.8">1.14170</text>
<rect x="840" y="408.6" width="1.3" height="1" fill="#6868E0"/>
<text x="842.8" y="411.1" font-size="5.6" fill="#3232CC" textLength="17.6" lengthAdjust="spacingAndGlyphs" stroke="#3232CC" stroke-width="0.18" stroke-opacity="0.8">1.13935</text>
<rect x="840" y="180" width="22.5" height="6" fill="#1414C8"/>
<text x="842.8" y="185.1" font-size="5.6" fill="#FFFFFF" textLength="17.6" lengthAdjust="spacingAndGlyphs" >1.16894</text>
<text x="842.8" y="417.5" font-size="5.6" fill="#3232CC" stroke="#3232CC" stroke-width="0.18" stroke-opacity="0.8">100</text>
<text x="842.8" y="429.7" font-size="5.6" fill="#3232CC" stroke="#3232CC" stroke-width="0.18" stroke-opacity="0.8">80</text>
<text x="842.8" y="475.2" font-size="5.6" fill="#3232CC" stroke="#3232CC" stroke-width="0.18" stroke-opacity="0.8">20</text>
<text x="842.8" y="487.0" font-size="5.6" fill="#3232CC" stroke="#3232CC" stroke-width="0.18" stroke-opacity="0.8">0</text>
<rect x="2.0" y="488" width="1" height="2.2" fill="#6868E0"/>
<text x="2.4" y="495.7" font-size="5.7" fill="#3232CC" textLength="28.2" lengthAdjust="spacingAndGlyphs" stroke="#3232CC" stroke-width="0.18" stroke-opacity="0.8">25 Aug 2022</text>
<rect x="36.6" y="488" width="1" height="2.2" fill="#6868E0"/>
<text x="37.0" y="495.7" font-size="5.7" fill="#3232CC" textLength="29.8" lengthAdjust="spacingAndGlyphs" stroke="#3232CC" stroke-width="0.18" stroke-opacity="0.8">26 Aug 00:45</text>
<rect x="71.2" y="488" width="1" height="2.2" fill="#6868E0"/>
<text x="71.6" y="495.7" font-size="5.7" fill="#3232CC" textLength="29.8" lengthAdjust="spacingAndGlyphs" stroke="#3232CC" stroke-width="0.18" stroke-opacity="0.8">26 Aug 16:45</text>
<rect x="105.7" y="488" width="1" height="2.2" fill="#6868E0"/>
<text x="106.1" y="495.7" font-size="5.7" fill="#3232CC" textLength="29.8" lengthAdjust="spacingAndGlyphs" stroke="#3232CC" stroke-width="0.18" stroke-opacity="0.8">29 Aug 08:45</text>
<rect x="140.3" y="488" width="1" height="2.2" fill="#6868E0"/>
<text x="140.7" y="495.7" font-size="5.7" fill="#3232CC" textLength="29.8" lengthAdjust="spacingAndGlyphs" stroke="#3232CC" stroke-width="0.18" stroke-opacity="0.8">30 Aug 00:45</text>
<rect x="174.9" y="488" width="1" height="2.2" fill="#6868E0"/>
<text x="175.3" y="495.7" font-size="5.7" fill="#3232CC" textLength="29.8" lengthAdjust="spacingAndGlyphs" stroke="#3232CC" stroke-width="0.18" stroke-opacity="0.8">30 Aug 16:45</text>
<rect x="209.5" y="488" width="1" height="2.2" fill="#6868E0"/>
<text x="209.9" y="495.7" font-size="5.7" fill="#3232CC" textLength="29.8" lengthAdjust="spacingAndGlyphs" stroke="#3232CC" stroke-width="0.18" stroke-opacity="0.8">31 Aug 08:45</text>
<rect x="244.1" y="488" width="1" height="2.2" fill="#6868E0"/>
<text x="244.5" y="495.7" font-size="5.7" fill="#3232CC" textLength="27.2" lengthAdjust="spacingAndGlyphs" stroke="#3232CC" stroke-width="0.18" stroke-opacity="0.8">1 Sep 00:45</text>
<rect x="278.6" y="488" width="1" height="2.2" fill="#6868E0"/>
<text x="279.0" y="495.7" font-size="5.7" fill="#3232CC" textLength="27.2" lengthAdjust="spacingAndGlyphs" stroke="#3232CC" stroke-width="0.18" stroke-opacity="0.8">1 Sep 16:45</text>
<rect x="313.2" y="488" width="1" height="2.2" fill="#6868E0"/>
<text x="313.6" y="495.7" font-size="5.7" fill="#3232CC" textLength="28.2" lengthAdjust="spacingAndGlyphs" stroke="#3232CC" stroke-width="0.18" stroke-opacity="0.8">2 Sep 08:45</text>
<rect x="347.8" y="488" width="1" height="2.2" fill="#6868E0"/>
<text x="348.2" y="495.7" font-size="5.7" fill="#3232CC" textLength="27.2" lengthAdjust="spacingAndGlyphs" stroke="#3232CC" stroke-width="0.18" stroke-opacity="0.8">5 Sep 00:45</text>
<rect x="382.4" y="488" width="1" height="2.2" fill="#6868E0"/>
<text x="382.8" y="495.7" font-size="5.7" fill="#3232CC" textLength="27.2" lengthAdjust="spacingAndGlyphs" stroke="#3232CC" stroke-width="0.18" stroke-opacity="0.8">5 Sep 16:45</text>
<rect x="417.0" y="488" width="1" height="2.2" fill="#6868E0"/>
<text x="417.4" y="495.7" font-size="5.7" fill="#3232CC" textLength="27.2" lengthAdjust="spacingAndGlyphs" stroke="#3232CC" stroke-width="0.18" stroke-opacity="0.8">6 Sep 08:45</text>
<rect x="451.5" y="488" width="1" height="2.2" fill="#6868E0"/>
<text x="451.9" y="495.7" font-size="5.7" fill="#3232CC" textLength="27.2" lengthAdjust="spacingAndGlyphs" stroke="#3232CC" stroke-width="0.18" stroke-opacity="0.8">7 Sep 00:45</text>
<rect x="486.1" y="488" width="1" height="2.2" fill="#6868E0"/>
<text x="486.5" y="495.7" font-size="5.7" fill="#3232CC" textLength="27.2" lengthAdjust="spacingAndGlyphs" stroke="#3232CC" stroke-width="0.18" stroke-opacity="0.8">7 Sep 16:45</text>
<rect x="520.7" y="488" width="1" height="2.2" fill="#6868E0"/>
<text x="521.1" y="495.7" font-size="5.7" fill="#3232CC" textLength="27.2" lengthAdjust="spacingAndGlyphs" stroke="#3232CC" stroke-width="0.18" stroke-opacity="0.8">8 Sep 08:45</text>
<rect x="555.3" y="488" width="1" height="2.2" fill="#6868E0"/>
<text x="555.7" y="495.7" font-size="5.7" fill="#3232CC" textLength="27.2" lengthAdjust="spacingAndGlyphs" stroke="#3232CC" stroke-width="0.18" stroke-opacity="0.8">9 Sep 00:45</text>
<rect x="589.9" y="488" width="1" height="2.2" fill="#6868E0"/>
<text x="590.3" y="495.7" font-size="5.7" fill="#3232CC" textLength="27.2" lengthAdjust="spacingAndGlyphs" stroke="#3232CC" stroke-width="0.18" stroke-opacity="0.8">9 Sep 16:45</text>
<rect x="624.4" y="488" width="1" height="2.2" fill="#6868E0"/>
<text x="624.8" y="495.7" font-size="5.7" fill="#3232CC" textLength="29.8" lengthAdjust="spacingAndGlyphs" stroke="#3232CC" stroke-width="0.18" stroke-opacity="0.8">12 Sep 09:00</text>
<rect x="659.0" y="488" width="1" height="2.2" fill="#6868E0"/>
<text x="659.4" y="495.7" font-size="5.7" fill="#3232CC" textLength="29.8" lengthAdjust="spacingAndGlyphs" stroke="#3232CC" stroke-width="0.18" stroke-opacity="0.8">13 Sep 01:00</text>
<polygon points="4.2,5.9 8.2,5.9 6.2,8.1" fill="#0808C0"/>
<text x="10.9" y="8.6" font-size="5.8" fill="#3232CC" textLength="36" lengthAdjust="spacingAndGlyphs" stroke="#3232CC" stroke-width="0.18" stroke-opacity="0.8">GBPUSD#,M15</text>
<text x="50.7" y="8.6" font-size="5.8" fill="#3232CC" textLength="75.3" lengthAdjust="spacingAndGlyphs" stroke="#3232CC" stroke-width="0.18" stroke-opacity="0.8">1.16931 1.16938 1.16890 1.16894</text>
<text x="4.6" y="418.6" font-size="5.6" fill="#3232CC" textLength="67" lengthAdjust="spacingAndGlyphs" stroke="#3232CC" stroke-width="0.18" stroke-opacity="0.8">Stoch(5,3,3) 74.6702 70.7957</text>
<text x="146.3" y="110" font-size="11.6" fill="#4A4A4A" textLength="106.7" lengthAdjust="spacingAndGlyphs" font-family="Liberation Sans, Noto Sans CJK TC, sans-serif">壓力 1.1752至1.1775</text>
<text x="665.8" y="233.7" font-size="11.6" fill="#4A4A4A" textLength="106.7" lengthAdjust="spacingAndGlyphs" font-family="Liberation Sans, Noto Sans CJK TC, sans-serif">支撐 1.1637至1.1662</text>
<text x="4.2" y="406.8" font-size="11.6" fill="#3A3A3A" textLength="159" lengthAdjust="spacingAndGlyphs" font-family="Liberation Sans, Noto Sans CJK TC, sans-serif">2022年9月13日 鎊美15分鐘K線</text>
</svg>
</body></html>
